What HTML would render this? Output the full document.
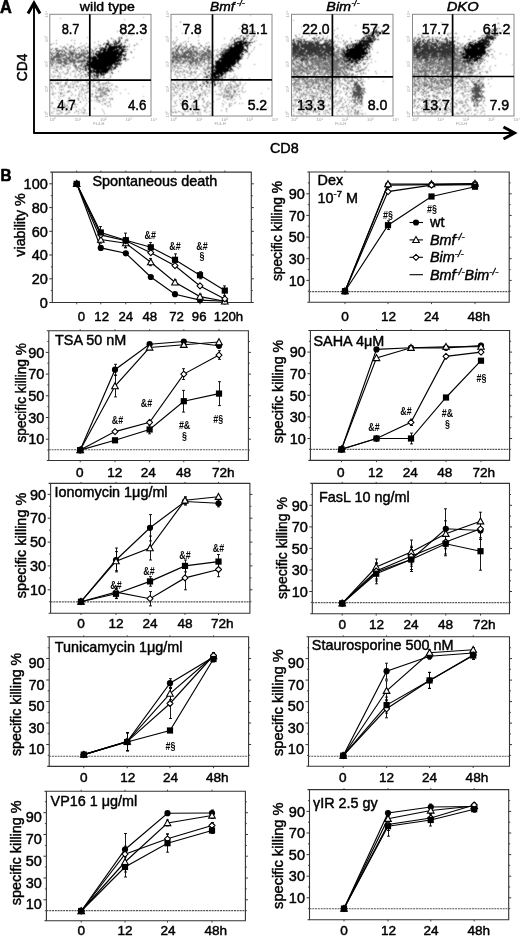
<!DOCTYPE html>
<html><head><meta charset="utf-8"><style>
html,body{margin:0;padding:0;background:#fff;width:520px;height:936px;overflow:hidden}
svg{display:block;font-family:"Liberation Sans", sans-serif;will-change:transform}
text{stroke:#000;stroke-width:0.45px;stroke-linejoin:round}
</style></head><body>
<svg width="520" height="936" viewBox="0 0 520 936">
<defs><filter id="bl" x="-5%" y="-5%" width="110%" height="110%"><feConvolveMatrix order="3" kernelMatrix="1 2 1 2 6 2 1 2 1" divisor="18" edgeMode="none"/></filter></defs>
<rect width="520" height="936" fill="#fff"/>
<text x="0.09" y="12.80" font-size="18.5" font-weight="bold" font-style="normal" textLength="11.84" lengthAdjust="spacingAndGlyphs" style="stroke:#000;stroke-width:0.6">A</text>
<text x="0.58" y="180.60" font-size="16" font-weight="bold" font-style="normal" textLength="11.01" lengthAdjust="spacingAndGlyphs" style="stroke:#000;stroke-width:0.6">B</text>
<path d="M34 133V3M33.2 133H514" stroke="#000" stroke-width="1.9" fill="none"/>
<path d="M28 13.5L34 3L40 13.5" stroke="#000" stroke-width="3" fill="none" stroke-linejoin="miter"/>
<path d="M503.5 127L514.5 133L503.5 139" stroke="#000" stroke-width="3" fill="none"/>
<text transform="translate(27.30,0) rotate(-90)" x="-81.31" y="0" font-size="15" textLength="27.81" lengthAdjust="spacingAndGlyphs">CD4</text>
<text x="269.97" y="152.60" font-size="14.5" font-weight="normal" font-style="normal" textLength="28.75" lengthAdjust="spacingAndGlyphs">CD8</text>
<g filter="url(#bl)">
<path fill="#000" fill-opacity="0.4" d="M143 17h1v1h-1zM60 18h1v1h-1zM124 19h1v1h-1zM65 33h1v1h-1zM131 35h1v1h-1zM87 37h1v1h-1zM80 48h1v1h-1zM134 49h1v1h-1zM63 71h1v1h-1zM59 73h1v1h-1zM55 76h1v1h-1zM53 77h1v1h-1zM115 86h1v1h-1zM143 86h1v1h-1zM125 89h1v1h-1zM128 93h1v1h-1zM143 96h1v1h-1zM54 97h1v1h-1zM141 100h1v1h-1zM143 101h1v1h-1zM82 108h1v1h-1zM85 110h1v1h-1z"/>
<path fill="#000" fill-opacity="0.5" d="M117 31h1v1h-1zM126 33h1v1h-1zM126 36h1v1h-1zM113 39h1v1h-1zM126 39h2v1h-2zM141 39h1v1h-1zM56 40h1v1h-1zM71 40h1v1h-1zM74 40h1v1h-1zM120 40h1v1h-1zM98 41h1v1h-1zM94 42h1v1h-1zM114 42h1v1h-1zM119 42h2v1h-2zM123 42h1v1h-1zM53 43h1v1h-1zM80 43h1v1h-1zM86 43h1v1h-1zM110 43h1v1h-1zM113 43h1v1h-1zM136 43h1v1h-1zM50 44h1v1h-1zM98 44h1v1h-1zM111 44h1v1h-1zM124 44h1v1h-1zM129 44h1v1h-1zM137 44h1v1h-1zM71 45h1v1h-1zM99 45h1v1h-1zM124 45h1v1h-1zM70 46h1v1h-1zM81 46h2v1h-2zM88 46h1v1h-1zM97 46h1v1h-1zM120 46h1v1h-1zM129 46h1v1h-1zM62 47h1v1h-1zM88 47h1v1h-1zM94 47h1v1h-1zM126 47h1v1h-1zM56 48h1v1h-1zM77 48h1v1h-1zM107 48h1v1h-1zM122 48h2v1h-2zM55 49h1v1h-1zM68 49h1v1h-1zM67 50h1v1h-1zM72 50h1v1h-1zM84 50h1v1h-1zM94 50h1v1h-1zM113 50h1v1h-1zM71 51h1v1h-1zM92 51h2v1h-2zM118 51h1v1h-1zM126 51h1v1h-1zM130 51h1v1h-1zM93 52h1v1h-1zM96 52h1v1h-1zM99 52h1v1h-1zM101 52h1v1h-1zM119 52h1v1h-1zM82 53h1v1h-1zM84 53h1v1h-1zM89 53h1v1h-1zM125 53h2v1h-2zM65 54h1v1h-1zM70 54h1v1h-1zM79 54h2v1h-2zM82 54h1v1h-1zM93 55h1v1h-1zM60 56h1v1h-1zM78 56h1v1h-1zM84 56h1v1h-1zM56 57h1v1h-1zM133 57h1v1h-1zM66 58h1v1h-1zM83 58h1v1h-1zM50 59h1v1h-1zM74 59h1v1h-1zM85 59h1v1h-1zM117 59h1v1h-1zM124 59h1v1h-1zM127 59h2v1h-2zM50 60h1v1h-1zM57 60h1v1h-1zM64 60h1v1h-1zM72 60h1v1h-1zM78 60h1v1h-1zM86 60h1v1h-1zM126 60h1v1h-1zM51 61h2v1h-2zM60 61h1v1h-1zM63 61h1v1h-1zM77 61h1v1h-1zM79 61h1v1h-1zM120 61h1v1h-1zM125 61h1v1h-1zM52 62h2v1h-2zM84 62h1v1h-1zM60 63h2v1h-2zM67 63h1v1h-1zM69 63h1v1h-1zM81 63h1v1h-1zM85 63h1v1h-1zM115 63h1v1h-1zM118 63h1v1h-1zM51 64h1v1h-1zM63 64h1v1h-1zM68 64h1v1h-1zM73 64h1v1h-1zM86 64h1v1h-1zM118 64h1v1h-1zM51 65h2v1h-2zM57 65h1v1h-1zM62 65h1v1h-1zM64 65h1v1h-1zM74 65h1v1h-1zM76 65h1v1h-1zM80 65h1v1h-1zM114 65h3v1h-3zM50 66h1v1h-1zM52 66h1v1h-1zM54 66h1v1h-1zM56 66h1v1h-1zM58 66h1v1h-1zM60 66h2v1h-2zM63 66h1v1h-1zM67 66h1v1h-1zM69 66h1v1h-1zM74 66h1v1h-1zM76 66h1v1h-1zM78 66h1v1h-1zM82 66h2v1h-2zM86 66h1v1h-1zM109 66h1v1h-1zM120 66h1v1h-1zM57 67h1v1h-1zM65 67h1v1h-1zM67 67h1v1h-1zM70 67h1v1h-1zM75 67h2v1h-2zM87 67h1v1h-1zM113 67h1v1h-1zM51 68h1v1h-1zM53 68h2v1h-2zM59 68h1v1h-1zM61 68h1v1h-1zM69 68h1v1h-1zM75 68h3v1h-3zM80 68h2v1h-2zM113 68h1v1h-1zM61 69h1v1h-1zM67 69h2v1h-2zM77 69h1v1h-1zM83 69h3v1h-3zM93 69h1v1h-1zM55 70h3v1h-3zM67 70h1v1h-1zM74 70h1v1h-1zM76 70h2v1h-2zM80 70h1v1h-1zM100 70h1v1h-1zM110 70h1v1h-1zM53 71h1v1h-1zM57 71h1v1h-1zM68 71h1v1h-1zM72 71h2v1h-2zM83 71h1v1h-1zM109 71h1v1h-1zM118 71h1v1h-1zM53 72h1v1h-1zM55 72h1v1h-1zM59 72h1v1h-1zM62 72h1v1h-1zM67 72h1v1h-1zM75 72h1v1h-1zM81 72h1v1h-1zM83 72h1v1h-1zM94 72h1v1h-1zM112 72h1v1h-1zM64 73h1v1h-1zM66 73h2v1h-2zM70 73h1v1h-1zM88 73h1v1h-1zM90 73h1v1h-1zM109 73h1v1h-1zM51 74h1v1h-1zM60 74h1v1h-1zM65 74h1v1h-1zM75 74h1v1h-1zM78 74h1v1h-1zM84 74h1v1h-1zM91 74h1v1h-1zM54 75h1v1h-1zM58 75h1v1h-1zM70 75h1v1h-1zM78 75h1v1h-1zM81 75h2v1h-2zM89 75h1v1h-1zM91 75h1v1h-1zM95 75h1v1h-1zM110 75h1v1h-1zM51 76h1v1h-1zM53 76h1v1h-1zM57 76h2v1h-2zM60 76h1v1h-1zM74 76h2v1h-2zM81 76h1v1h-1zM85 76h1v1h-1zM89 76h1v1h-1zM91 76h1v1h-1zM96 76h1v1h-1zM98 76h1v1h-1zM100 76h1v1h-1zM110 76h1v1h-1zM60 77h1v1h-1zM64 77h1v1h-1zM76 77h1v1h-1zM80 77h1v1h-1zM83 77h1v1h-1zM92 77h1v1h-1zM95 77h2v1h-2zM100 77h1v1h-1zM104 77h1v1h-1zM110 77h1v1h-1zM58 78h1v1h-1zM67 78h1v1h-1zM80 78h1v1h-1zM88 78h1v1h-1zM93 78h1v1h-1zM96 78h1v1h-1zM108 78h1v1h-1zM51 79h1v1h-1zM56 79h1v1h-1zM60 79h1v1h-1zM66 79h2v1h-2zM86 79h1v1h-1zM91 79h1v1h-1zM93 79h2v1h-2zM106 79h1v1h-1zM50 80h2v1h-2zM66 80h1v1h-1zM73 80h1v1h-1zM76 80h2v1h-2zM81 80h1v1h-1zM84 80h1v1h-1zM86 80h1v1h-1zM90 80h1v1h-1zM94 80h2v1h-2zM99 80h1v1h-1zM106 80h1v1h-1zM53 81h1v1h-1zM55 81h1v1h-1zM61 81h1v1h-1zM67 81h1v1h-1zM72 81h1v1h-1zM75 81h1v1h-1zM77 81h2v1h-2zM80 81h1v1h-1zM86 81h1v1h-1zM90 81h1v1h-1zM92 81h1v1h-1zM98 81h2v1h-2zM108 81h1v1h-1zM51 82h1v1h-1zM57 82h2v1h-2zM60 82h1v1h-1zM65 82h2v1h-2zM74 82h1v1h-1zM77 82h1v1h-1zM86 82h1v1h-1zM88 82h1v1h-1zM96 82h3v1h-3zM106 82h1v1h-1zM108 82h1v1h-1zM50 83h2v1h-2zM55 83h4v1h-4zM65 83h2v1h-2zM70 83h1v1h-1zM72 83h1v1h-1zM75 83h1v1h-1zM87 83h2v1h-2zM91 83h1v1h-1zM93 83h1v1h-1zM99 83h1v1h-1zM102 83h5v1h-5zM108 83h1v1h-1zM110 83h1v1h-1zM52 84h1v1h-1zM58 84h1v1h-1zM60 84h1v1h-1zM65 84h2v1h-2zM73 84h1v1h-1zM80 84h1v1h-1zM82 84h1v1h-1zM88 84h1v1h-1zM94 84h1v1h-1zM99 84h2v1h-2zM102 84h1v1h-1zM112 84h1v1h-1zM62 85h1v1h-1zM64 85h1v1h-1zM68 85h1v1h-1zM70 85h1v1h-1zM73 85h1v1h-1zM76 85h1v1h-1zM83 85h2v1h-2zM86 85h2v1h-2zM89 85h1v1h-1zM93 85h1v1h-1zM98 85h1v1h-1zM103 85h1v1h-1zM105 85h1v1h-1zM107 85h1v1h-1zM111 85h1v1h-1zM51 86h1v1h-1zM53 86h2v1h-2zM60 86h2v1h-2zM64 86h1v1h-1zM68 86h1v1h-1zM76 86h2v1h-2zM79 86h1v1h-1zM81 86h1v1h-1zM86 86h1v1h-1zM92 86h4v1h-4zM100 86h1v1h-1zM109 86h1v1h-1zM116 86h1v1h-1zM51 87h1v1h-1zM59 87h1v1h-1zM62 87h1v1h-1zM68 87h3v1h-3zM72 87h2v1h-2zM82 87h1v1h-1zM88 87h1v1h-1zM96 87h1v1h-1zM100 87h1v1h-1zM102 87h3v1h-3zM107 87h1v1h-1zM117 87h1v1h-1zM52 88h1v1h-1zM55 88h1v1h-1zM78 88h1v1h-1zM82 88h1v1h-1zM87 88h2v1h-2zM96 88h1v1h-1zM98 88h3v1h-3zM103 88h1v1h-1zM105 88h3v1h-3zM110 88h1v1h-1zM59 89h1v1h-1zM61 89h1v1h-1zM63 89h1v1h-1zM75 89h1v1h-1zM81 89h1v1h-1zM83 89h1v1h-1zM85 89h1v1h-1zM98 89h6v1h-6zM105 89h1v1h-1zM107 89h2v1h-2zM111 89h1v1h-1zM114 89h1v1h-1zM52 90h1v1h-1zM61 90h1v1h-1zM69 90h1v1h-1zM75 90h1v1h-1zM81 90h1v1h-1zM83 90h1v1h-1zM92 90h1v1h-1zM95 90h1v1h-1zM97 90h4v1h-4zM102 90h1v1h-1zM106 90h4v1h-4zM116 90h1v1h-1zM67 91h3v1h-3zM79 91h1v1h-1zM87 91h3v1h-3zM101 91h2v1h-2zM104 91h3v1h-3zM108 91h2v1h-2zM112 91h1v1h-1zM53 92h1v1h-1zM58 92h1v1h-1zM60 92h1v1h-1zM64 92h1v1h-1zM67 92h1v1h-1zM71 92h1v1h-1zM81 92h1v1h-1zM85 92h3v1h-3zM95 92h2v1h-2zM98 92h1v1h-1zM100 92h1v1h-1zM102 92h3v1h-3zM52 93h1v1h-1zM55 93h1v1h-1zM60 93h3v1h-3zM79 93h1v1h-1zM84 93h1v1h-1zM92 93h1v1h-1zM96 93h1v1h-1zM100 93h2v1h-2zM103 93h4v1h-4zM120 93h1v1h-1zM52 94h2v1h-2zM60 94h1v1h-1zM72 94h1v1h-1zM79 94h1v1h-1zM82 94h1v1h-1zM91 94h2v1h-2zM100 94h1v1h-1zM102 94h1v1h-1zM104 94h3v1h-3zM111 94h1v1h-1zM63 95h2v1h-2zM71 95h1v1h-1zM75 95h1v1h-1zM78 95h1v1h-1zM85 95h1v1h-1zM95 95h1v1h-1zM100 95h2v1h-2zM103 95h1v1h-1zM107 95h2v1h-2zM58 96h1v1h-1zM60 96h1v1h-1zM62 96h1v1h-1zM79 96h1v1h-1zM81 96h1v1h-1zM90 96h1v1h-1zM92 96h1v1h-1zM95 96h8v1h-8zM105 96h1v1h-1zM69 97h1v1h-1zM85 97h1v1h-1zM94 97h1v1h-1zM96 97h2v1h-2zM100 97h1v1h-1zM59 98h1v1h-1zM68 98h2v1h-2zM77 98h2v1h-2zM82 98h1v1h-1zM85 98h1v1h-1zM88 98h1v1h-1zM97 98h1v1h-1zM103 98h1v1h-1zM106 98h1v1h-1zM109 98h1v1h-1zM111 98h2v1h-2zM71 99h1v1h-1zM74 99h1v1h-1zM78 99h1v1h-1zM96 99h2v1h-2zM102 99h1v1h-1zM104 99h1v1h-1zM110 99h1v1h-1zM112 99h1v1h-1zM58 100h1v1h-1zM68 100h1v1h-1zM78 100h1v1h-1zM83 100h1v1h-1zM86 100h1v1h-1zM91 100h1v1h-1zM94 100h1v1h-1zM98 100h2v1h-2zM103 100h1v1h-1zM105 100h1v1h-1zM60 101h1v1h-1zM67 101h2v1h-2zM80 101h1v1h-1zM88 101h1v1h-1zM96 101h1v1h-1zM98 101h1v1h-1zM100 101h1v1h-1zM102 101h1v1h-1zM109 101h1v1h-1zM52 102h1v1h-1zM73 102h1v1h-1zM80 102h1v1h-1zM99 102h1v1h-1zM107 102h1v1h-1zM109 102h1v1h-1zM51 103h2v1h-2zM58 103h1v1h-1zM64 103h1v1h-1zM68 103h1v1h-1zM73 103h2v1h-2zM86 103h1v1h-1zM104 103h2v1h-2zM64 104h1v1h-1zM74 104h2v1h-2zM77 104h1v1h-1zM102 104h1v1h-1zM105 104h1v1h-1zM110 104h1v1h-1zM62 105h1v1h-1zM64 105h1v1h-1zM66 105h2v1h-2zM85 105h1v1h-1zM108 105h1v1h-1zM51 106h1v1h-1zM64 106h2v1h-2zM75 106h1v1h-1zM107 106h1v1h-1zM110 106h1v1h-1zM58 107h1v1h-1zM64 107h1v1h-1zM67 107h2v1h-2zM73 107h1v1h-1zM76 107h1v1h-1zM83 107h1v1h-1zM53 108h2v1h-2zM56 108h1v1h-1zM65 108h1v1h-1zM89 108h1v1h-1zM94 108h1v1h-1zM62 109h1v1h-1zM70 109h1v1h-1zM79 109h1v1h-1zM84 109h1v1h-1zM102 109h1v1h-1zM56 110h4v1h-4zM65 110h2v1h-2zM68 110h2v1h-2zM76 110h1v1h-1zM81 110h1v1h-1zM84 110h1v1h-1zM53 111h1v1h-1zM60 111h1v1h-1zM76 111h1v1h-1zM78 111h1v1h-1zM103 111h1v1h-1zM51 112h1v1h-1zM61 112h2v1h-2zM68 112h2v1h-2zM74 112h1v1h-1zM81 112h1v1h-1zM83 112h2v1h-2zM52 113h1v1h-1zM56 113h1v1h-1zM58 113h1v1h-1zM60 113h1v1h-1zM66 113h2v1h-2zM78 113h1v1h-1zM83 113h1v1h-1zM86 113h1v1h-1zM104 113h1v1h-1zM58 114h1v1h-1zM65 114h1v1h-1z"/>
<path fill="#000" fill-opacity="0.65" d="M56 43h1v1h-1zM74 43h1v1h-1zM51 44h1v1h-1zM67 44h1v1h-1zM89 44h1v1h-1zM84 45h1v1h-1zM60 46h1v1h-1zM64 46h1v1h-1zM71 46h1v1h-1zM73 46h1v1h-1zM63 47h1v1h-1zM65 47h1v1h-1zM69 47h2v1h-2zM73 47h1v1h-1zM78 47h2v1h-2zM85 47h1v1h-1zM87 47h1v1h-1zM52 48h1v1h-1zM55 48h1v1h-1zM57 48h1v1h-1zM65 48h2v1h-2zM75 48h1v1h-1zM85 48h1v1h-1zM90 48h1v1h-1zM50 49h2v1h-2zM56 49h1v1h-1zM62 49h1v1h-1zM66 49h1v1h-1zM70 49h1v1h-1zM74 49h1v1h-1zM81 49h1v1h-1zM83 49h1v1h-1zM91 49h1v1h-1zM53 50h1v1h-1zM56 50h6v1h-6zM63 50h2v1h-2zM69 50h1v1h-1zM73 50h2v1h-2zM76 50h1v1h-1zM78 50h1v1h-1zM81 50h1v1h-1zM83 50h1v1h-1zM86 50h2v1h-2zM89 50h1v1h-1zM50 51h1v1h-1zM56 51h1v1h-1zM58 51h2v1h-2zM61 51h2v1h-2zM64 51h1v1h-1zM69 51h2v1h-2zM74 51h1v1h-1zM81 51h2v1h-2zM85 51h1v1h-1zM87 51h1v1h-1zM50 52h1v1h-1zM52 52h1v1h-1zM55 52h1v1h-1zM57 52h2v1h-2zM62 52h1v1h-1zM64 52h3v1h-3zM69 52h5v1h-5zM75 52h1v1h-1zM79 52h1v1h-1zM83 52h2v1h-2zM87 52h5v1h-5zM50 53h2v1h-2zM53 53h2v1h-2zM56 53h3v1h-3zM60 53h2v1h-2zM65 53h1v1h-1zM67 53h2v1h-2zM70 53h5v1h-5zM76 53h1v1h-1zM78 53h2v1h-2zM81 53h1v1h-1zM83 53h1v1h-1zM85 53h4v1h-4zM91 53h1v1h-1zM51 54h2v1h-2zM56 54h9v1h-9zM68 54h2v1h-2zM71 54h3v1h-3zM75 54h4v1h-4zM81 54h1v1h-1zM83 54h1v1h-1zM85 54h2v1h-2zM90 54h1v1h-1zM52 55h1v1h-1zM55 55h5v1h-5zM61 55h1v1h-1zM63 55h4v1h-4zM69 55h1v1h-1zM71 55h2v1h-2zM75 55h2v1h-2zM79 55h6v1h-6zM88 55h2v1h-2zM91 55h1v1h-1zM50 56h2v1h-2zM53 56h7v1h-7zM61 56h3v1h-3zM66 56h1v1h-1zM69 56h2v1h-2zM72 56h2v1h-2zM75 56h2v1h-2zM79 56h3v1h-3zM83 56h1v1h-1zM85 56h1v1h-1zM87 56h2v1h-2zM91 56h1v1h-1zM51 57h1v1h-1zM53 57h3v1h-3zM57 57h4v1h-4zM65 57h6v1h-6zM72 57h1v1h-1zM74 57h7v1h-7zM85 57h5v1h-5zM50 58h5v1h-5zM57 58h1v1h-1zM59 58h1v1h-1zM61 58h4v1h-4zM67 58h3v1h-3zM71 58h2v1h-2zM76 58h4v1h-4zM81 58h1v1h-1zM86 58h1v1h-1zM88 58h2v1h-2zM91 58h1v1h-1zM51 59h3v1h-3zM56 59h5v1h-5zM63 59h4v1h-4zM68 59h3v1h-3zM72 59h2v1h-2zM75 59h1v1h-1zM77 59h1v1h-1zM83 59h2v1h-2zM88 59h4v1h-4zM52 60h3v1h-3zM56 60h1v1h-1zM58 60h4v1h-4zM65 60h3v1h-3zM69 60h3v1h-3zM73 60h3v1h-3zM79 60h7v1h-7zM87 60h2v1h-2zM50 61h1v1h-1zM54 61h1v1h-1zM56 61h1v1h-1zM58 61h1v1h-1zM61 61h2v1h-2zM64 61h2v1h-2zM67 61h1v1h-1zM69 61h6v1h-6zM76 61h1v1h-1zM78 61h1v1h-1zM80 61h6v1h-6zM89 61h2v1h-2zM50 62h1v1h-1zM55 62h1v1h-1zM57 62h5v1h-5zM63 62h4v1h-4zM70 62h2v1h-2zM73 62h3v1h-3zM77 62h3v1h-3zM81 62h2v1h-2zM90 62h1v1h-1zM50 63h2v1h-2zM53 63h1v1h-1zM56 63h1v1h-1zM58 63h2v1h-2zM64 63h3v1h-3zM68 63h1v1h-1zM73 63h2v1h-2zM83 63h1v1h-1zM52 64h1v1h-1zM55 64h1v1h-1zM61 64h1v1h-1zM65 64h2v1h-2zM70 64h1v1h-1zM75 64h1v1h-1zM81 64h2v1h-2zM84 64h1v1h-1zM63 65h1v1h-1zM73 65h1v1h-1zM75 65h1v1h-1zM79 65h1v1h-1zM84 65h2v1h-2zM64 66h1v1h-1zM75 66h1v1h-1zM80 66h1v1h-1zM84 66h1v1h-1zM56 67h1v1h-1zM60 67h1v1h-1zM79 68h1v1h-1zM56 69h1v1h-1zM80 69h1v1h-1zM86 69h1v1h-1zM80 73h1v1h-1z"/>
<path fill="#000" fill-opacity="1.0" d="M122 34h1v1h-1zM119 37h1v1h-1zM121 37h1v1h-1zM111 38h1v1h-1zM118 38h1v1h-1zM121 38h1v1h-1zM119 39h1v1h-1zM107 40h1v1h-1zM115 40h1v1h-1zM119 40h1v1h-1zM125 40h1v1h-1zM127 40h1v1h-1zM108 41h1v1h-1zM113 41h1v1h-1zM115 41h1v1h-1zM118 41h2v1h-2zM108 42h1v1h-1zM115 42h2v1h-2zM118 42h1v1h-1zM125 42h1v1h-1zM104 43h1v1h-1zM106 43h3v1h-3zM114 43h1v1h-1zM116 43h3v1h-3zM121 43h1v1h-1zM103 44h1v1h-1zM106 44h3v1h-3zM110 44h1v1h-1zM112 44h1v1h-1zM114 44h3v1h-3zM120 44h2v1h-2zM100 45h1v1h-1zM106 45h1v1h-1zM108 45h3v1h-3zM114 45h1v1h-1zM116 45h1v1h-1zM118 45h3v1h-3zM134 45h1v1h-1zM105 46h2v1h-2zM109 46h11v1h-11zM121 46h5v1h-5zM127 46h1v1h-1zM100 47h1v1h-1zM102 47h1v1h-1zM105 47h2v1h-2zM108 47h14v1h-14zM123 47h2v1h-2zM96 48h1v1h-1zM99 48h1v1h-1zM101 48h5v1h-5zM108 48h9v1h-9zM119 48h3v1h-3zM95 49h1v1h-1zM100 49h2v1h-2zM103 49h12v1h-12zM116 49h4v1h-4zM121 49h5v1h-5zM127 49h1v1h-1zM92 50h1v1h-1zM100 50h6v1h-6zM107 50h6v1h-6zM114 50h5v1h-5zM121 50h3v1h-3zM96 51h5v1h-5zM103 51h15v1h-15zM119 51h7v1h-7zM98 52h1v1h-1zM100 52h1v1h-1zM102 52h17v1h-17zM120 52h3v1h-3zM131 52h1v1h-1zM93 53h1v1h-1zM95 53h2v1h-2zM98 53h24v1h-24zM93 54h1v1h-1zM95 54h29v1h-29zM125 54h1v1h-1zM96 55h21v1h-21zM118 55h4v1h-4zM123 55h3v1h-3zM89 56h1v1h-1zM93 56h3v1h-3zM97 56h23v1h-23zM121 56h1v1h-1zM124 56h1v1h-1zM84 57h1v1h-1zM90 57h32v1h-32zM87 58h1v1h-1zM90 58h1v1h-1zM92 58h5v1h-5zM98 58h21v1h-21zM120 58h1v1h-1zM123 58h3v1h-3zM92 59h25v1h-25zM118 59h3v1h-3zM123 59h1v1h-1zM125 59h1v1h-1zM90 60h1v1h-1zM92 60h30v1h-30zM87 61h2v1h-2zM91 61h28v1h-28zM87 62h3v1h-3zM91 62h25v1h-25zM117 62h1v1h-1zM119 62h1v1h-1zM86 63h2v1h-2zM89 63h26v1h-26zM116 63h2v1h-2zM119 63h1v1h-1zM121 63h1v1h-1zM87 64h26v1h-26zM114 64h4v1h-4zM119 64h2v1h-2zM81 65h1v1h-1zM86 65h26v1h-26zM85 66h1v1h-1zM88 66h1v1h-1zM90 66h19v1h-19zM110 66h3v1h-3zM115 66h3v1h-3zM78 67h1v1h-1zM83 67h1v1h-1zM85 67h1v1h-1zM88 67h1v1h-1zM90 67h17v1h-17zM108 67h3v1h-3zM112 67h1v1h-1zM114 67h2v1h-2zM85 68h2v1h-2zM88 68h2v1h-2zM92 68h20v1h-20zM114 68h2v1h-2zM82 69h1v1h-1zM88 69h3v1h-3zM94 69h16v1h-16zM111 69h1v1h-1zM113 69h1v1h-1zM85 70h2v1h-2zM89 70h6v1h-6zM96 70h4v1h-4zM101 70h8v1h-8zM111 70h1v1h-1zM79 71h1v1h-1zM90 71h2v1h-2zM93 71h15v1h-15zM87 72h7v1h-7zM95 72h13v1h-13zM111 72h1v1h-1zM89 73h1v1h-1zM96 73h3v1h-3zM100 73h2v1h-2zM103 73h1v1h-1zM105 73h1v1h-1zM112 73h1v1h-1zM85 74h1v1h-1zM87 74h1v1h-1zM89 74h1v1h-1zM93 74h2v1h-2zM96 74h1v1h-1zM98 74h1v1h-1zM100 74h5v1h-5zM88 75h1v1h-1zM94 75h1v1h-1zM96 75h3v1h-3zM101 75h1v1h-1zM103 75h1v1h-1zM86 76h1v1h-1zM92 76h1v1h-1zM94 76h1v1h-1zM97 76h1v1h-1zM97 77h1v1h-1zM103 77h1v1h-1zM94 78h1v1h-1zM98 78h1v1h-1zM93 80h1v1h-1zM89 83h1v1h-1z"/>
</g>
<rect x="49.8" y="14.3" width="101.2" height="101.7" fill="none" stroke="#888" stroke-width="1"/>
<path d="M89.8 14.3V116M49.8 80.2H151" stroke="#000" stroke-width="1.7"/>
<text x="52.7" y="121.2" font-size="4.4" fill="#999" text-anchor="middle" style="stroke:none">10⁰</text>
<text transform="translate(47.6,114.0) rotate(-90)" font-size="4.4" fill="#aaa" text-anchor="middle" style="stroke:none">10⁰</text>
<text x="78.0" y="121.2" font-size="4.4" fill="#999" text-anchor="middle" style="stroke:none">10¹</text>
<text transform="translate(47.6,89.0) rotate(-90)" font-size="4.4" fill="#aaa" text-anchor="middle" style="stroke:none">10¹</text>
<text x="103.3" y="121.2" font-size="4.4" fill="#999" text-anchor="middle" style="stroke:none">10²</text>
<text transform="translate(47.6,64.0) rotate(-90)" font-size="4.4" fill="#aaa" text-anchor="middle" style="stroke:none">10²</text>
<text x="128.6" y="121.2" font-size="4.4" fill="#999" text-anchor="middle" style="stroke:none">10³</text>
<text transform="translate(47.6,39.0) rotate(-90)" font-size="4.4" fill="#aaa" text-anchor="middle" style="stroke:none">10³</text>
<text x="153.9" y="121.2" font-size="4.4" fill="#999" text-anchor="middle" style="stroke:none">10⁴</text>
<text transform="translate(47.6,14.0) rotate(-90)" font-size="4.4" fill="#aaa" text-anchor="middle" style="stroke:none">10⁴</text>
<text x="98.8" y="125.3" font-size="4" fill="#999" text-anchor="middle" style="stroke:none">FL4-H</text>
<text x="79.87" y="10.50" font-size="13.5" font-weight="normal" font-style="normal" textLength="54.91" lengthAdjust="spacingAndGlyphs">wild type</text>
<text x="61.64" y="33.50" font-size="14.4" font-weight="normal" font-style="normal" textLength="17.91" lengthAdjust="spacingAndGlyphs">8.7</text>
<text x="119.27" y="33.50" font-size="14.4" font-weight="normal" font-style="normal" textLength="28.16" lengthAdjust="spacingAndGlyphs">82.3</text>
<text x="57.30" y="109.80" font-size="14.4" font-weight="normal" font-style="normal" textLength="18.47" lengthAdjust="spacingAndGlyphs">4.7</text>
<text x="127.89" y="109.80" font-size="14.4" font-weight="normal" font-style="normal" textLength="18.59" lengthAdjust="spacingAndGlyphs">4.6</text>
<g filter="url(#bl)">
<path fill="#000" fill-opacity="0.4" d="M250 15h1v1h-1zM180 21h1v1h-1zM180 22h1v1h-1zM176 26h1v1h-1zM171 30h1v1h-1zM256 37h1v1h-1zM177 39h1v1h-1zM256 40h1v1h-1zM175 49h1v1h-1zM225 49h1v1h-1zM268 88h1v1h-1zM212 91h1v1h-1zM261 93h1v1h-1zM193 98h1v1h-1zM228 98h1v1h-1zM222 106h1v1h-1zM267 107h1v1h-1z"/>
<path fill="#000" fill-opacity="0.5" d="M243 23h1v1h-1zM252 26h1v1h-1zM239 28h1v1h-1zM248 29h1v1h-1zM244 30h1v1h-1zM182 33h1v1h-1zM235 35h1v1h-1zM243 36h1v1h-1zM251 36h1v1h-1zM176 37h1v1h-1zM232 37h1v1h-1zM238 37h1v1h-1zM245 37h1v1h-1zM188 38h1v1h-1zM224 38h1v1h-1zM232 38h1v1h-1zM237 38h1v1h-1zM243 38h1v1h-1zM231 39h1v1h-1zM176 40h1v1h-1zM198 40h1v1h-1zM230 40h1v1h-1zM240 40h1v1h-1zM232 41h1v1h-1zM246 41h1v1h-1zM172 42h1v1h-1zM208 42h1v1h-1zM231 42h1v1h-1zM234 42h1v1h-1zM251 42h1v1h-1zM186 43h1v1h-1zM199 43h1v1h-1zM229 43h1v1h-1zM237 43h1v1h-1zM185 44h1v1h-1zM224 44h1v1h-1zM226 44h1v1h-1zM229 44h1v1h-1zM231 44h1v1h-1zM235 44h1v1h-1zM260 44h1v1h-1zM222 45h1v1h-1zM228 45h2v1h-2zM176 46h1v1h-1zM201 46h1v1h-1zM206 46h1v1h-1zM209 46h1v1h-1zM225 46h1v1h-1zM227 46h4v1h-4zM182 47h1v1h-1zM254 47h1v1h-1zM175 48h1v1h-1zM177 48h1v1h-1zM207 48h1v1h-1zM223 48h3v1h-3zM228 48h2v1h-2zM186 49h1v1h-1zM217 49h1v1h-1zM224 49h1v1h-1zM226 49h1v1h-1zM247 49h1v1h-1zM253 49h1v1h-1zM180 50h1v1h-1zM208 50h1v1h-1zM214 50h1v1h-1zM216 50h1v1h-1zM220 50h2v1h-2zM224 50h1v1h-1zM228 50h1v1h-1zM210 51h1v1h-1zM218 51h1v1h-1zM222 51h2v1h-2zM251 51h1v1h-1zM175 52h1v1h-1zM182 52h2v1h-2zM190 52h1v1h-1zM201 52h1v1h-1zM210 52h1v1h-1zM217 52h1v1h-1zM223 52h1v1h-1zM247 52h1v1h-1zM171 53h1v1h-1zM183 53h1v1h-1zM187 53h1v1h-1zM192 53h1v1h-1zM204 53h1v1h-1zM208 53h2v1h-2zM219 53h2v1h-2zM222 53h3v1h-3zM241 53h1v1h-1zM249 53h1v1h-1zM204 54h2v1h-2zM216 54h1v1h-1zM218 54h1v1h-1zM248 54h2v1h-2zM179 55h2v1h-2zM191 55h1v1h-1zM198 55h1v1h-1zM208 55h1v1h-1zM213 55h1v1h-1zM216 55h2v1h-2zM219 55h2v1h-2zM241 55h1v1h-1zM180 56h1v1h-1zM196 56h1v1h-1zM215 56h1v1h-1zM240 56h1v1h-1zM248 56h1v1h-1zM198 57h1v1h-1zM201 57h3v1h-3zM217 57h1v1h-1zM222 57h1v1h-1zM189 58h1v1h-1zM204 58h1v1h-1zM207 58h2v1h-2zM213 58h2v1h-2zM218 58h1v1h-1zM242 58h1v1h-1zM247 58h1v1h-1zM172 59h1v1h-1zM176 59h2v1h-2zM185 59h1v1h-1zM199 59h1v1h-1zM202 59h1v1h-1zM206 59h1v1h-1zM208 59h1v1h-1zM240 59h1v1h-1zM176 60h1v1h-1zM178 60h1v1h-1zM184 60h1v1h-1zM187 60h1v1h-1zM189 60h1v1h-1zM201 60h1v1h-1zM207 60h1v1h-1zM209 60h1v1h-1zM215 60h1v1h-1zM217 60h1v1h-1zM175 61h1v1h-1zM177 61h1v1h-1zM179 61h1v1h-1zM184 61h3v1h-3zM188 61h2v1h-2zM191 61h1v1h-1zM194 61h1v1h-1zM199 61h1v1h-1zM202 61h1v1h-1zM204 61h1v1h-1zM208 61h1v1h-1zM213 61h1v1h-1zM220 61h1v1h-1zM175 62h2v1h-2zM179 62h1v1h-1zM184 62h1v1h-1zM199 62h1v1h-1zM208 62h2v1h-2zM215 62h1v1h-1zM175 63h3v1h-3zM180 63h4v1h-4zM189 63h1v1h-1zM193 63h1v1h-1zM201 63h1v1h-1zM206 63h1v1h-1zM208 63h1v1h-1zM210 63h1v1h-1zM212 63h1v1h-1zM237 63h1v1h-1zM171 64h2v1h-2zM187 64h2v1h-2zM190 64h2v1h-2zM198 64h1v1h-1zM200 64h1v1h-1zM208 64h1v1h-1zM213 64h1v1h-1zM239 64h2v1h-2zM254 64h1v1h-1zM173 65h3v1h-3zM181 65h1v1h-1zM186 65h1v1h-1zM189 65h1v1h-1zM191 65h2v1h-2zM194 65h3v1h-3zM198 65h2v1h-2zM205 65h1v1h-1zM208 65h1v1h-1zM213 65h2v1h-2zM231 65h1v1h-1zM171 66h1v1h-1zM179 66h1v1h-1zM182 66h1v1h-1zM184 66h1v1h-1zM186 66h1v1h-1zM189 66h1v1h-1zM192 66h1v1h-1zM200 66h2v1h-2zM203 66h1v1h-1zM207 66h2v1h-2zM210 66h1v1h-1zM214 66h1v1h-1zM234 66h1v1h-1zM239 66h2v1h-2zM172 67h1v1h-1zM174 67h2v1h-2zM178 67h1v1h-1zM185 67h1v1h-1zM188 67h2v1h-2zM191 67h1v1h-1zM194 67h1v1h-1zM196 67h2v1h-2zM206 67h1v1h-1zM208 67h2v1h-2zM214 67h1v1h-1zM226 67h1v1h-1zM237 67h1v1h-1zM172 68h1v1h-1zM177 68h1v1h-1zM180 68h2v1h-2zM189 68h2v1h-2zM193 68h1v1h-1zM196 68h1v1h-1zM203 68h2v1h-2zM208 68h4v1h-4zM229 68h1v1h-1zM238 68h1v1h-1zM174 69h1v1h-1zM183 69h1v1h-1zM190 69h1v1h-1zM195 69h1v1h-1zM199 69h1v1h-1zM203 69h1v1h-1zM205 69h1v1h-1zM207 69h1v1h-1zM210 69h1v1h-1zM213 69h1v1h-1zM171 70h1v1h-1zM173 70h1v1h-1zM177 70h1v1h-1zM184 70h1v1h-1zM186 70h1v1h-1zM189 70h1v1h-1zM204 70h3v1h-3zM230 70h1v1h-1zM232 70h2v1h-2zM171 71h1v1h-1zM175 71h2v1h-2zM179 71h3v1h-3zM183 71h2v1h-2zM187 71h1v1h-1zM191 71h1v1h-1zM194 71h1v1h-1zM196 71h1v1h-1zM201 71h1v1h-1zM208 71h1v1h-1zM211 71h1v1h-1zM229 71h1v1h-1zM231 71h1v1h-1zM233 71h1v1h-1zM175 72h1v1h-1zM177 72h2v1h-2zM182 72h1v1h-1zM186 72h2v1h-2zM190 72h3v1h-3zM194 72h2v1h-2zM203 72h3v1h-3zM211 72h1v1h-1zM179 73h1v1h-1zM188 73h1v1h-1zM190 73h1v1h-1zM195 73h1v1h-1zM200 73h1v1h-1zM224 73h3v1h-3zM174 74h2v1h-2zM182 74h1v1h-1zM184 74h1v1h-1zM190 74h2v1h-2zM199 74h1v1h-1zM202 74h1v1h-1zM205 74h2v1h-2zM210 74h1v1h-1zM212 74h1v1h-1zM223 74h1v1h-1zM234 74h1v1h-1zM179 75h1v1h-1zM184 75h1v1h-1zM193 75h1v1h-1zM197 75h1v1h-1zM207 75h1v1h-1zM209 75h1v1h-1zM229 75h1v1h-1zM176 76h2v1h-2zM180 76h1v1h-1zM188 76h1v1h-1zM190 76h1v1h-1zM198 76h1v1h-1zM204 76h1v1h-1zM207 76h1v1h-1zM209 76h1v1h-1zM224 76h2v1h-2zM234 76h1v1h-1zM236 76h1v1h-1zM184 77h2v1h-2zM196 77h1v1h-1zM203 77h3v1h-3zM222 77h1v1h-1zM224 77h2v1h-2zM233 77h1v1h-1zM177 78h1v1h-1zM194 78h2v1h-2zM208 78h1v1h-1zM220 78h2v1h-2zM229 78h1v1h-1zM231 78h1v1h-1zM233 78h1v1h-1zM236 78h1v1h-1zM241 78h1v1h-1zM249 78h1v1h-1zM174 79h1v1h-1zM177 79h1v1h-1zM182 79h1v1h-1zM184 79h1v1h-1zM187 79h1v1h-1zM191 79h2v1h-2zM198 79h2v1h-2zM202 79h1v1h-1zM207 79h1v1h-1zM211 79h1v1h-1zM215 79h1v1h-1zM220 79h3v1h-3zM224 79h1v1h-1zM227 79h1v1h-1zM231 79h1v1h-1zM237 79h2v1h-2zM248 79h1v1h-1zM174 80h2v1h-2zM181 80h2v1h-2zM186 80h1v1h-1zM188 80h2v1h-2zM195 80h1v1h-1zM203 80h1v1h-1zM208 80h1v1h-1zM210 80h1v1h-1zM217 80h2v1h-2zM225 80h1v1h-1zM231 80h1v1h-1zM233 80h2v1h-2zM171 81h1v1h-1zM177 81h1v1h-1zM179 81h1v1h-1zM182 81h1v1h-1zM185 81h1v1h-1zM191 81h4v1h-4zM196 81h1v1h-1zM202 81h2v1h-2zM214 81h1v1h-1zM217 81h1v1h-1zM221 81h1v1h-1zM230 81h1v1h-1zM232 81h3v1h-3zM240 81h1v1h-1zM176 82h1v1h-1zM188 82h3v1h-3zM193 82h1v1h-1zM196 82h1v1h-1zM204 82h1v1h-1zM206 82h1v1h-1zM210 82h1v1h-1zM218 82h2v1h-2zM222 82h1v1h-1zM228 82h1v1h-1zM235 82h1v1h-1zM239 82h1v1h-1zM172 83h2v1h-2zM177 83h1v1h-1zM180 83h1v1h-1zM183 83h2v1h-2zM186 83h1v1h-1zM190 83h3v1h-3zM202 83h1v1h-1zM204 83h1v1h-1zM210 83h1v1h-1zM212 83h1v1h-1zM222 83h1v1h-1zM230 83h1v1h-1zM235 83h1v1h-1zM240 83h1v1h-1zM245 83h1v1h-1zM173 84h2v1h-2zM178 84h1v1h-1zM182 84h2v1h-2zM185 84h1v1h-1zM189 84h1v1h-1zM195 84h2v1h-2zM200 84h1v1h-1zM204 84h1v1h-1zM209 84h1v1h-1zM220 84h1v1h-1zM228 84h2v1h-2zM231 84h1v1h-1zM236 84h1v1h-1zM238 84h1v1h-1zM240 84h1v1h-1zM175 85h1v1h-1zM177 85h2v1h-2zM180 85h1v1h-1zM182 85h2v1h-2zM187 85h1v1h-1zM189 85h1v1h-1zM191 85h1v1h-1zM199 85h1v1h-1zM203 85h1v1h-1zM209 85h1v1h-1zM215 85h1v1h-1zM220 85h1v1h-1zM223 85h1v1h-1zM226 85h2v1h-2zM230 85h1v1h-1zM233 85h1v1h-1zM236 85h3v1h-3zM243 85h1v1h-1zM172 86h1v1h-1zM175 86h1v1h-1zM178 86h1v1h-1zM182 86h2v1h-2zM188 86h1v1h-1zM191 86h2v1h-2zM196 86h2v1h-2zM201 86h2v1h-2zM209 86h1v1h-1zM213 86h1v1h-1zM218 86h3v1h-3zM226 86h1v1h-1zM230 86h2v1h-2zM234 86h1v1h-1zM236 86h1v1h-1zM238 86h1v1h-1zM171 87h1v1h-1zM173 87h1v1h-1zM175 87h2v1h-2zM182 87h1v1h-1zM184 87h1v1h-1zM187 87h2v1h-2zM191 87h1v1h-1zM193 87h1v1h-1zM195 87h1v1h-1zM197 87h1v1h-1zM207 87h1v1h-1zM209 87h1v1h-1zM212 87h1v1h-1zM222 87h1v1h-1zM225 87h1v1h-1zM228 87h1v1h-1zM230 87h2v1h-2zM233 87h2v1h-2zM236 87h1v1h-1zM242 87h1v1h-1zM174 88h1v1h-1zM177 88h1v1h-1zM179 88h2v1h-2zM184 88h1v1h-1zM191 88h1v1h-1zM194 88h1v1h-1zM197 88h1v1h-1zM221 88h1v1h-1zM225 88h1v1h-1zM227 88h3v1h-3zM231 88h1v1h-1zM238 88h1v1h-1zM242 88h1v1h-1zM172 89h2v1h-2zM182 89h2v1h-2zM186 89h2v1h-2zM193 89h4v1h-4zM201 89h1v1h-1zM206 89h1v1h-1zM219 89h1v1h-1zM222 89h1v1h-1zM224 89h2v1h-2zM231 89h1v1h-1zM233 89h1v1h-1zM237 89h1v1h-1zM174 90h1v1h-1zM177 90h1v1h-1zM179 90h1v1h-1zM189 90h1v1h-1zM193 90h1v1h-1zM202 90h1v1h-1zM204 90h1v1h-1zM208 90h2v1h-2zM220 90h1v1h-1zM225 90h2v1h-2zM228 90h2v1h-2zM234 90h2v1h-2zM241 90h1v1h-1zM183 91h2v1h-2zM193 91h1v1h-1zM198 91h1v1h-1zM205 91h1v1h-1zM215 91h1v1h-1zM224 91h1v1h-1zM226 91h3v1h-3zM230 91h1v1h-1zM233 91h3v1h-3zM238 91h2v1h-2zM242 91h1v1h-1zM245 91h1v1h-1zM174 92h4v1h-4zM186 92h1v1h-1zM196 92h1v1h-1zM203 92h2v1h-2zM209 92h1v1h-1zM221 92h1v1h-1zM224 92h1v1h-1zM226 92h3v1h-3zM230 92h1v1h-1zM234 92h2v1h-2zM243 92h1v1h-1zM172 93h1v1h-1zM181 93h2v1h-2zM190 93h1v1h-1zM192 93h1v1h-1zM200 93h1v1h-1zM202 93h1v1h-1zM205 93h1v1h-1zM207 93h1v1h-1zM212 93h1v1h-1zM222 93h1v1h-1zM226 93h1v1h-1zM228 93h1v1h-1zM230 93h1v1h-1zM233 93h1v1h-1zM176 94h1v1h-1zM179 94h1v1h-1zM197 94h1v1h-1zM199 94h2v1h-2zM205 94h1v1h-1zM216 94h1v1h-1zM218 94h2v1h-2zM221 94h1v1h-1zM224 94h1v1h-1zM229 94h2v1h-2zM234 94h1v1h-1zM236 94h2v1h-2zM239 94h1v1h-1zM171 95h1v1h-1zM173 95h2v1h-2zM180 95h1v1h-1zM190 95h1v1h-1zM198 95h3v1h-3zM202 95h1v1h-1zM205 95h1v1h-1zM220 95h1v1h-1zM223 95h2v1h-2zM226 95h2v1h-2zM229 95h1v1h-1zM231 95h3v1h-3zM179 96h2v1h-2zM183 96h1v1h-1zM186 96h2v1h-2zM191 96h1v1h-1zM193 96h1v1h-1zM199 96h1v1h-1zM207 96h1v1h-1zM223 96h1v1h-1zM225 96h5v1h-5zM231 96h2v1h-2zM235 96h1v1h-1zM239 96h1v1h-1zM172 97h1v1h-1zM186 97h2v1h-2zM194 97h2v1h-2zM199 97h1v1h-1zM223 97h2v1h-2zM230 97h3v1h-3zM182 98h1v1h-1zM191 98h1v1h-1zM198 98h1v1h-1zM202 98h2v1h-2zM219 98h1v1h-1zM226 98h1v1h-1zM231 98h1v1h-1zM240 98h1v1h-1zM171 99h1v1h-1zM179 99h1v1h-1zM182 99h1v1h-1zM190 99h1v1h-1zM194 99h1v1h-1zM198 99h1v1h-1zM202 99h1v1h-1zM217 99h1v1h-1zM227 99h2v1h-2zM230 99h1v1h-1zM234 99h1v1h-1zM176 100h1v1h-1zM180 100h1v1h-1zM195 100h1v1h-1zM203 100h1v1h-1zM223 100h1v1h-1zM232 100h1v1h-1zM174 101h1v1h-1zM184 101h1v1h-1zM186 101h1v1h-1zM204 101h1v1h-1zM208 101h1v1h-1zM213 101h1v1h-1zM175 102h1v1h-1zM182 102h2v1h-2zM187 102h1v1h-1zM194 102h1v1h-1zM203 102h1v1h-1zM207 102h1v1h-1zM225 102h1v1h-1zM235 102h1v1h-1zM175 103h1v1h-1zM180 103h3v1h-3zM185 103h1v1h-1zM192 103h1v1h-1zM206 103h1v1h-1zM209 103h2v1h-2zM222 103h1v1h-1zM229 103h1v1h-1zM231 103h1v1h-1zM234 103h1v1h-1zM239 103h1v1h-1zM242 103h1v1h-1zM185 104h1v1h-1zM207 104h1v1h-1zM223 104h1v1h-1zM229 104h1v1h-1zM176 105h1v1h-1zM181 105h1v1h-1zM185 105h1v1h-1zM187 105h1v1h-1zM191 105h4v1h-4zM202 105h1v1h-1zM206 105h1v1h-1zM208 105h1v1h-1zM229 105h1v1h-1zM231 105h1v1h-1zM172 106h1v1h-1zM174 106h1v1h-1zM186 106h1v1h-1zM188 106h1v1h-1zM193 106h1v1h-1zM196 106h1v1h-1zM198 106h1v1h-1zM203 106h1v1h-1zM207 106h1v1h-1zM229 106h1v1h-1zM191 107h1v1h-1zM193 107h2v1h-2zM204 107h1v1h-1zM206 107h1v1h-1zM210 107h1v1h-1zM182 108h1v1h-1zM184 108h1v1h-1zM190 108h1v1h-1zM193 108h1v1h-1zM205 108h1v1h-1zM226 108h1v1h-1zM171 109h1v1h-1zM174 109h1v1h-1zM187 109h1v1h-1zM189 109h1v1h-1zM197 109h1v1h-1zM200 109h1v1h-1zM226 109h1v1h-1zM184 110h1v1h-1zM195 110h1v1h-1zM199 110h1v1h-1zM204 110h2v1h-2zM221 110h1v1h-1zM171 111h1v1h-1zM175 111h1v1h-1zM178 111h2v1h-2zM185 111h1v1h-1zM187 111h2v1h-2zM192 111h1v1h-1zM204 111h1v1h-1zM209 111h1v1h-1zM226 111h1v1h-1zM172 112h2v1h-2zM175 112h2v1h-2zM181 112h1v1h-1zM193 112h1v1h-1zM195 112h1v1h-1zM197 112h2v1h-2zM200 112h1v1h-1zM206 112h1v1h-1zM183 113h1v1h-1zM192 113h1v1h-1zM197 113h1v1h-1zM182 114h2v1h-2zM190 114h1v1h-1zM193 114h1v1h-1zM198 114h1v1h-1zM200 114h1v1h-1zM210 114h1v1h-1z"/>
<path fill="#000" fill-opacity="0.65" d="M198 36h1v1h-1zM173 41h1v1h-1zM185 41h1v1h-1zM188 41h1v1h-1zM175 42h1v1h-1zM183 42h1v1h-1zM174 43h1v1h-1zM180 43h1v1h-1zM198 43h1v1h-1zM206 43h1v1h-1zM173 44h1v1h-1zM181 44h1v1h-1zM190 44h2v1h-2zM176 45h1v1h-1zM179 45h2v1h-2zM186 45h1v1h-1zM200 45h2v1h-2zM175 46h1v1h-1zM178 46h2v1h-2zM181 46h1v1h-1zM183 46h1v1h-1zM186 46h1v1h-1zM191 46h4v1h-4zM205 46h1v1h-1zM208 46h1v1h-1zM212 46h1v1h-1zM174 47h1v1h-1zM178 47h2v1h-2zM184 47h3v1h-3zM190 47h1v1h-1zM192 47h2v1h-2zM195 47h2v1h-2zM199 47h1v1h-1zM203 47h1v1h-1zM208 47h2v1h-2zM172 48h2v1h-2zM178 48h1v1h-1zM181 48h1v1h-1zM184 48h1v1h-1zM187 48h1v1h-1zM189 48h2v1h-2zM193 48h1v1h-1zM197 48h1v1h-1zM199 48h1v1h-1zM204 48h2v1h-2zM171 49h1v1h-1zM176 49h3v1h-3zM180 49h4v1h-4zM185 49h1v1h-1zM188 49h2v1h-2zM192 49h2v1h-2zM196 49h1v1h-1zM204 49h1v1h-1zM207 49h2v1h-2zM173 50h1v1h-1zM176 50h2v1h-2zM182 50h1v1h-1zM187 50h2v1h-2zM190 50h2v1h-2zM193 50h1v1h-1zM195 50h1v1h-1zM197 50h1v1h-1zM201 50h1v1h-1zM203 50h1v1h-1zM206 50h2v1h-2zM209 50h2v1h-2zM212 50h1v1h-1zM172 51h1v1h-1zM175 51h3v1h-3zM181 51h2v1h-2zM185 51h7v1h-7zM193 51h4v1h-4zM199 51h2v1h-2zM202 51h2v1h-2zM207 51h3v1h-3zM172 52h3v1h-3zM177 52h2v1h-2zM184 52h6v1h-6zM191 52h2v1h-2zM194 52h4v1h-4zM202 52h1v1h-1zM204 52h3v1h-3zM208 52h2v1h-2zM211 52h2v1h-2zM172 53h2v1h-2zM175 53h2v1h-2zM178 53h1v1h-1zM180 53h1v1h-1zM182 53h1v1h-1zM184 53h3v1h-3zM189 53h3v1h-3zM193 53h1v1h-1zM196 53h5v1h-5zM203 53h1v1h-1zM205 53h3v1h-3zM211 53h1v1h-1zM172 54h2v1h-2zM175 54h5v1h-5zM181 54h1v1h-1zM183 54h3v1h-3zM188 54h4v1h-4zM193 54h2v1h-2zM196 54h2v1h-2zM199 54h1v1h-1zM201 54h3v1h-3zM206 54h1v1h-1zM208 54h3v1h-3zM212 54h1v1h-1zM173 55h2v1h-2zM176 55h3v1h-3zM181 55h6v1h-6zM188 55h1v1h-1zM190 55h1v1h-1zM192 55h3v1h-3zM196 55h1v1h-1zM199 55h1v1h-1zM201 55h7v1h-7zM210 55h3v1h-3zM172 56h6v1h-6zM179 56h1v1h-1zM181 56h12v1h-12zM194 56h2v1h-2zM200 56h3v1h-3zM204 56h1v1h-1zM207 56h3v1h-3zM211 56h1v1h-1zM172 57h19v1h-19zM192 57h2v1h-2zM197 57h1v1h-1zM199 57h1v1h-1zM204 57h2v1h-2zM207 57h5v1h-5zM172 58h2v1h-2zM175 58h3v1h-3zM179 58h2v1h-2zM184 58h2v1h-2zM187 58h2v1h-2zM190 58h5v1h-5zM196 58h2v1h-2zM199 58h4v1h-4zM206 58h1v1h-1zM209 58h1v1h-1zM211 58h2v1h-2zM174 59h2v1h-2zM178 59h1v1h-1zM180 59h3v1h-3zM187 59h1v1h-1zM191 59h3v1h-3zM195 59h3v1h-3zM200 59h2v1h-2zM203 59h3v1h-3zM209 59h1v1h-1zM212 59h1v1h-1zM171 60h4v1h-4zM177 60h1v1h-1zM179 60h1v1h-1zM181 60h1v1h-1zM183 60h1v1h-1zM185 60h2v1h-2zM188 60h1v1h-1zM190 60h1v1h-1zM192 60h6v1h-6zM200 60h1v1h-1zM204 60h1v1h-1zM208 60h1v1h-1zM210 60h1v1h-1zM212 60h1v1h-1zM171 61h3v1h-3zM178 61h1v1h-1zM180 61h1v1h-1zM183 61h1v1h-1zM190 61h1v1h-1zM192 61h2v1h-2zM195 61h1v1h-1zM197 61h2v1h-2zM200 61h1v1h-1zM203 61h1v1h-1zM211 61h1v1h-1zM172 62h2v1h-2zM177 62h1v1h-1zM182 62h2v1h-2zM187 62h1v1h-1zM189 62h4v1h-4zM195 62h3v1h-3zM202 62h1v1h-1zM204 62h1v1h-1zM211 62h1v1h-1zM172 63h1v1h-1zM179 63h1v1h-1zM185 63h1v1h-1zM190 63h2v1h-2zM195 63h2v1h-2zM198 63h2v1h-2zM205 63h1v1h-1zM209 63h1v1h-1zM211 63h1v1h-1zM193 64h1v1h-1zM196 64h1v1h-1zM204 64h1v1h-1zM176 65h1v1h-1zM180 65h1v1h-1zM201 65h1v1h-1zM212 65h1v1h-1zM174 66h1v1h-1zM177 66h1v1h-1zM178 68h1v1h-1zM197 68h1v1h-1z"/>
<path fill="#000" fill-opacity="1.0" d="M250 31h1v1h-1zM254 31h1v1h-1zM247 32h1v1h-1zM247 33h1v1h-1zM241 35h1v1h-1zM246 35h1v1h-1zM248 35h1v1h-1zM254 35h1v1h-1zM240 36h1v1h-1zM247 36h1v1h-1zM253 36h1v1h-1zM243 37h1v1h-1zM236 38h1v1h-1zM238 38h1v1h-1zM240 38h1v1h-1zM244 38h2v1h-2zM247 38h1v1h-1zM252 38h1v1h-1zM234 39h1v1h-1zM236 39h1v1h-1zM239 39h1v1h-1zM243 39h2v1h-2zM251 39h1v1h-1zM234 40h1v1h-1zM241 40h1v1h-1zM243 40h1v1h-1zM246 40h1v1h-1zM250 40h1v1h-1zM234 41h1v1h-1zM237 41h7v1h-7zM245 41h1v1h-1zM254 41h1v1h-1zM235 42h7v1h-7zM243 42h8v1h-8zM252 42h1v1h-1zM234 43h3v1h-3zM239 43h8v1h-8zM249 43h1v1h-1zM232 44h3v1h-3zM236 44h8v1h-8zM245 44h1v1h-1zM247 44h2v1h-2zM231 45h1v1h-1zM234 45h9v1h-9zM244 45h4v1h-4zM250 45h1v1h-1zM231 46h1v1h-1zM234 46h10v1h-10zM246 46h2v1h-2zM229 47h15v1h-15zM247 47h1v1h-1zM221 48h1v1h-1zM230 48h14v1h-14zM247 48h1v1h-1zM227 49h19v1h-19zM223 50h1v1h-1zM225 50h3v1h-3zM229 50h14v1h-14zM244 50h3v1h-3zM225 51h1v1h-1zM227 51h17v1h-17zM246 51h2v1h-2zM221 52h2v1h-2zM224 52h18v1h-18zM245 52h1v1h-1zM225 53h16v1h-16zM242 53h1v1h-1zM220 54h20v1h-20zM241 54h3v1h-3zM222 55h18v1h-18zM217 56h1v1h-1zM221 56h19v1h-19zM241 56h2v1h-2zM221 57h1v1h-1zM223 57h18v1h-18zM219 58h23v1h-23zM219 59h21v1h-21zM218 60h2v1h-2zM221 60h15v1h-15zM237 60h2v1h-2zM215 61h5v1h-5zM221 61h18v1h-18zM216 62h20v1h-20zM237 62h1v1h-1zM215 63h21v1h-21zM238 63h1v1h-1zM212 64h1v1h-1zM216 64h19v1h-19zM215 65h16v1h-16zM232 65h2v1h-2zM212 66h2v1h-2zM215 66h17v1h-17zM233 66h1v1h-1zM235 66h1v1h-1zM211 67h3v1h-3zM215 67h11v1h-11zM227 67h4v1h-4zM207 68h1v1h-1zM212 68h1v1h-1zM215 68h14v1h-14zM230 68h2v1h-2zM214 69h1v1h-1zM216 69h13v1h-13zM230 69h3v1h-3zM211 70h19v1h-19zM209 71h1v1h-1zM212 71h1v1h-1zM215 71h13v1h-13zM230 71h1v1h-1zM208 72h1v1h-1zM212 72h11v1h-11zM224 72h2v1h-2zM205 73h1v1h-1zM210 73h1v1h-1zM212 73h12v1h-12zM211 74h1v1h-1zM213 74h6v1h-6zM220 74h3v1h-3zM225 74h1v1h-1zM208 75h1v1h-1zM211 75h5v1h-5zM218 75h2v1h-2zM221 75h2v1h-2zM206 76h1v1h-1zM211 76h11v1h-11zM206 77h2v1h-2zM210 77h1v1h-1zM212 77h1v1h-1zM214 77h5v1h-5zM210 78h7v1h-7zM218 78h2v1h-2zM222 78h1v1h-1zM212 79h1v1h-1zM216 79h3v1h-3zM205 80h3v1h-3zM213 80h3v1h-3zM222 80h1v1h-1zM206 81h1v1h-1zM212 81h2v1h-2zM207 82h2v1h-2zM211 82h1v1h-1zM214 82h1v1h-1zM203 83h1v1h-1zM207 83h1v1h-1zM214 83h1v1h-1zM217 83h1v1h-1zM220 83h1v1h-1zM214 84h2v1h-2zM200 85h1v1h-1zM206 85h1v1h-1zM214 85h1v1h-1zM206 86h1v1h-1zM201 88h1v1h-1z"/>
</g>
<rect x="171" y="14.3" width="101" height="101.7" fill="none" stroke="#888" stroke-width="1"/>
<path d="M212.5 14.3V116M171 79.9H272" stroke="#000" stroke-width="1.7"/>
<text x="173.9" y="121.2" font-size="4.4" fill="#999" text-anchor="middle" style="stroke:none">10⁰</text>
<text transform="translate(168.8,114.0) rotate(-90)" font-size="4.4" fill="#aaa" text-anchor="middle" style="stroke:none">10⁰</text>
<text x="199.2" y="121.2" font-size="4.4" fill="#999" text-anchor="middle" style="stroke:none">10¹</text>
<text transform="translate(168.8,89.0) rotate(-90)" font-size="4.4" fill="#aaa" text-anchor="middle" style="stroke:none">10¹</text>
<text x="224.5" y="121.2" font-size="4.4" fill="#999" text-anchor="middle" style="stroke:none">10²</text>
<text transform="translate(168.8,64.0) rotate(-90)" font-size="4.4" fill="#aaa" text-anchor="middle" style="stroke:none">10²</text>
<text x="249.8" y="121.2" font-size="4.4" fill="#999" text-anchor="middle" style="stroke:none">10³</text>
<text transform="translate(168.8,39.0) rotate(-90)" font-size="4.4" fill="#aaa" text-anchor="middle" style="stroke:none">10³</text>
<text x="275.1" y="121.2" font-size="4.4" fill="#999" text-anchor="middle" style="stroke:none">10⁴</text>
<text transform="translate(168.8,14.0) rotate(-90)" font-size="4.4" fill="#aaa" text-anchor="middle" style="stroke:none">10⁴</text>
<text x="220.0" y="125.3" font-size="4" fill="#999" text-anchor="middle" style="stroke:none">FL4-H</text>
<text x="210.03" y="10.50" font-size="13.5" font-weight="normal" font-style="italic" textLength="24.53" lengthAdjust="spacingAndGlyphs">Bmf</text>
<text x="236.8" y="6.3" font-size="8.5" text-anchor="start" font-weight="normal" font-style="italic" fill="#000" >-/-</text>
<text x="182.49" y="33.50" font-size="14.4" font-weight="normal" font-style="normal" textLength="19.21" lengthAdjust="spacingAndGlyphs">7.8</text>
<text x="240.90" y="33.50" font-size="14.4" font-weight="normal" font-style="normal" textLength="26.66" lengthAdjust="spacingAndGlyphs">81.1</text>
<text x="181.22" y="109.80" font-size="14.4" font-weight="normal" font-style="normal" textLength="18.64" lengthAdjust="spacingAndGlyphs">6.1</text>
<text x="247.64" y="109.80" font-size="14.4" font-weight="normal" font-style="normal" textLength="19.57" lengthAdjust="spacingAndGlyphs">5.2</text>
<g filter="url(#bl)">
<path fill="#000" fill-opacity="0.4" d="M293 20h1v1h-1zM355 25h1v1h-1zM301 27h1v1h-1zM341 38h1v1h-1zM335 41h1v1h-1zM375 61h1v1h-1zM385 71h1v1h-1zM340 76h1v1h-1zM383 81h1v1h-1zM303 86h1v1h-1zM312 97h1v1h-1zM328 98h1v1h-1zM362 100h1v1h-1zM339 101h1v1h-1zM302 106h1v1h-1zM365 113h1v1h-1z"/>
<path fill="#000" fill-opacity="0.5" d="M348 48h1v1h-1zM339 51h1v1h-1zM338 53h1v1h-1zM312 54h1v1h-1zM317 55h1v1h-1zM323 55h1v1h-1zM343 55h1v1h-1zM334 56h1v1h-1zM303 57h1v1h-1zM308 57h1v1h-1zM314 57h1v1h-1zM295 58h1v1h-1zM305 58h1v1h-1zM311 58h1v1h-1zM318 58h1v1h-1zM332 58h1v1h-1zM308 59h1v1h-1zM321 59h1v1h-1zM327 60h1v1h-1zM342 60h1v1h-1zM293 62h1v1h-1zM313 62h1v1h-1zM319 62h1v1h-1zM325 62h1v1h-1zM331 62h1v1h-1zM353 62h1v1h-1zM305 63h1v1h-1zM312 63h1v1h-1zM326 63h1v1h-1zM349 63h1v1h-1zM292 64h1v1h-1zM300 64h1v1h-1zM313 64h1v1h-1zM335 64h1v1h-1zM297 65h1v1h-1zM302 65h1v1h-1zM304 65h1v1h-1zM323 65h1v1h-1zM333 65h1v1h-1zM337 65h1v1h-1zM345 65h1v1h-1zM347 65h1v1h-1zM298 66h1v1h-1zM300 66h1v1h-1zM333 66h1v1h-1zM335 66h1v1h-1zM345 66h1v1h-1zM295 67h2v1h-2zM300 67h1v1h-1zM303 67h1v1h-1zM305 67h1v1h-1zM322 67h1v1h-1zM326 67h1v1h-1zM340 67h1v1h-1zM351 67h1v1h-1zM292 68h2v1h-2zM329 68h4v1h-4zM342 68h1v1h-1zM346 68h1v1h-1zM349 68h1v1h-1zM351 68h1v1h-1zM293 69h1v1h-1zM297 69h1v1h-1zM299 69h1v1h-1zM306 69h1v1h-1zM314 69h1v1h-1zM335 69h1v1h-1zM338 69h1v1h-1zM343 69h1v1h-1zM351 69h1v1h-1zM302 70h1v1h-1zM306 70h2v1h-2zM317 70h1v1h-1zM335 70h1v1h-1zM351 70h1v1h-1zM297 71h1v1h-1zM305 71h1v1h-1zM310 71h1v1h-1zM313 71h1v1h-1zM316 71h1v1h-1zM326 71h1v1h-1zM333 71h1v1h-1zM344 71h1v1h-1zM293 72h2v1h-2zM300 72h1v1h-1zM309 72h1v1h-1zM313 72h1v1h-1zM318 72h2v1h-2zM322 72h1v1h-1zM329 72h1v1h-1zM334 72h1v1h-1zM338 72h1v1h-1zM345 72h1v1h-1zM349 72h1v1h-1zM300 73h1v1h-1zM306 73h1v1h-1zM313 73h1v1h-1zM324 73h1v1h-1zM333 73h1v1h-1zM337 73h2v1h-2zM343 73h1v1h-1zM349 73h1v1h-1zM352 73h1v1h-1zM302 74h1v1h-1zM307 74h1v1h-1zM313 74h1v1h-1zM324 74h1v1h-1zM331 74h2v1h-2zM335 74h1v1h-1zM343 74h3v1h-3zM347 74h1v1h-1zM297 75h1v1h-1zM312 75h1v1h-1zM316 75h1v1h-1zM321 75h1v1h-1zM328 75h1v1h-1zM334 75h1v1h-1zM338 75h1v1h-1zM345 75h1v1h-1zM351 75h2v1h-2zM293 76h1v1h-1zM298 76h2v1h-2zM310 76h1v1h-1zM321 76h1v1h-1zM324 76h1v1h-1zM329 76h1v1h-1zM334 76h1v1h-1zM338 76h1v1h-1zM346 76h1v1h-1zM349 76h2v1h-2zM296 77h1v1h-1zM303 77h1v1h-1zM312 77h2v1h-2zM316 77h2v1h-2zM329 77h1v1h-1zM331 77h3v1h-3zM338 77h1v1h-1zM346 77h4v1h-4zM353 77h3v1h-3zM360 77h1v1h-1zM303 78h1v1h-1zM308 78h1v1h-1zM311 78h1v1h-1zM329 78h1v1h-1zM335 78h2v1h-2zM338 78h2v1h-2zM344 78h2v1h-2zM348 78h1v1h-1zM351 78h2v1h-2zM355 78h1v1h-1zM360 78h1v1h-1zM294 79h1v1h-1zM304 79h1v1h-1zM314 79h1v1h-1zM319 79h1v1h-1zM322 79h1v1h-1zM334 79h1v1h-1zM338 79h2v1h-2zM342 79h1v1h-1zM344 79h1v1h-1zM352 79h1v1h-1zM363 79h1v1h-1zM329 80h1v1h-1zM334 80h1v1h-1zM336 80h1v1h-1zM338 80h1v1h-1zM340 80h1v1h-1zM344 80h3v1h-3zM348 80h1v1h-1zM350 80h3v1h-3zM359 80h1v1h-1zM311 81h1v1h-1zM317 81h2v1h-2zM339 81h1v1h-1zM350 81h1v1h-1zM352 81h1v1h-1zM356 81h2v1h-2zM362 81h1v1h-1zM295 82h1v1h-1zM331 82h1v1h-1zM334 82h2v1h-2zM337 82h1v1h-1zM339 82h1v1h-1zM349 82h1v1h-1zM354 82h2v1h-2zM357 82h1v1h-1zM361 82h2v1h-2zM302 83h1v1h-1zM335 83h1v1h-1zM339 83h1v1h-1zM341 83h2v1h-2zM347 83h3v1h-3zM308 84h2v1h-2zM331 84h3v1h-3zM336 84h1v1h-1zM339 84h1v1h-1zM342 84h1v1h-1zM344 84h1v1h-1zM351 84h1v1h-1zM353 84h1v1h-1zM330 85h1v1h-1zM345 85h2v1h-2zM350 85h1v1h-1zM362 85h2v1h-2zM339 86h1v1h-1zM347 86h1v1h-1zM354 86h1v1h-1zM360 86h1v1h-1zM328 87h1v1h-1zM334 87h2v1h-2zM340 87h1v1h-1zM343 87h1v1h-1zM347 87h2v1h-2zM317 88h1v1h-1zM343 88h2v1h-2zM346 88h2v1h-2zM349 88h1v1h-1zM352 88h1v1h-1zM332 89h1v1h-1zM334 89h2v1h-2zM343 89h1v1h-1zM346 89h2v1h-2zM350 89h1v1h-1zM337 90h2v1h-2zM335 91h1v1h-1zM337 91h1v1h-1zM340 91h1v1h-1zM344 91h1v1h-1zM348 91h1v1h-1zM363 91h1v1h-1zM327 92h1v1h-1zM332 92h1v1h-1zM336 92h1v1h-1zM341 92h1v1h-1zM346 92h1v1h-1zM350 92h1v1h-1zM335 93h2v1h-2zM339 93h1v1h-1zM346 93h1v1h-1zM350 93h1v1h-1zM362 93h1v1h-1zM332 94h1v1h-1zM335 94h1v1h-1zM345 94h2v1h-2zM355 94h1v1h-1zM332 95h1v1h-1zM352 95h1v1h-1zM332 96h2v1h-2zM335 96h2v1h-2zM339 96h1v1h-1zM347 96h1v1h-1zM350 96h1v1h-1zM333 97h1v1h-1zM342 97h1v1h-1zM362 97h1v1h-1zM339 98h1v1h-1zM341 98h1v1h-1zM361 98h1v1h-1zM341 99h1v1h-1zM344 99h1v1h-1zM347 99h1v1h-1zM352 99h2v1h-2zM332 100h1v1h-1zM335 100h1v1h-1zM340 100h1v1h-1zM349 100h1v1h-1zM351 100h1v1h-1zM353 100h1v1h-1zM359 100h1v1h-1zM332 101h1v1h-1zM335 101h1v1h-1zM337 101h1v1h-1zM340 101h2v1h-2zM345 101h1v1h-1zM333 102h1v1h-1zM335 102h1v1h-1zM338 102h1v1h-1zM345 102h1v1h-1zM349 102h1v1h-1zM353 102h1v1h-1zM333 103h1v1h-1zM337 103h1v1h-1zM339 103h1v1h-1zM343 103h1v1h-1zM359 103h1v1h-1zM361 103h2v1h-2zM336 104h1v1h-1zM342 104h1v1h-1zM348 104h1v1h-1zM355 104h2v1h-2zM360 104h2v1h-2zM334 105h1v1h-1zM337 105h1v1h-1zM342 105h1v1h-1zM346 105h1v1h-1zM351 105h1v1h-1zM362 105h1v1h-1zM333 106h2v1h-2zM344 106h1v1h-1zM346 106h1v1h-1zM349 106h1v1h-1zM355 106h1v1h-1zM340 107h4v1h-4zM347 107h1v1h-1zM351 107h2v1h-2zM357 107h1v1h-1zM359 107h2v1h-2zM333 108h1v1h-1zM336 108h1v1h-1zM339 108h1v1h-1zM352 108h2v1h-2zM331 109h1v1h-1zM343 109h1v1h-1zM347 109h1v1h-1zM349 109h1v1h-1zM355 109h1v1h-1zM338 110h2v1h-2zM347 110h1v1h-1zM351 110h1v1h-1zM354 110h2v1h-2zM358 110h1v1h-1zM361 110h1v1h-1zM338 111h1v1h-1zM341 111h1v1h-1zM345 111h1v1h-1zM348 111h1v1h-1zM351 111h1v1h-1zM355 111h1v1h-1zM357 111h2v1h-2zM336 112h1v1h-1zM347 112h1v1h-1zM350 112h1v1h-1zM354 112h1v1h-1zM356 112h3v1h-3zM348 113h1v1h-1zM354 113h2v1h-2zM357 113h1v1h-1zM360 113h1v1h-1zM362 113h1v1h-1zM337 114h1v1h-1zM342 114h1v1h-1zM348 114h1v1h-1zM351 114h1v1h-1zM355 114h1v1h-1zM357 114h2v1h-2zM362 114h1v1h-1z"/>
<path fill="#000" fill-opacity="0.55" d="M312 26h1v1h-1zM337 28h1v1h-1zM334 30h1v1h-1zM322 32h1v1h-1zM333 33h1v1h-1zM299 34h1v1h-1zM321 34h1v1h-1zM337 35h1v1h-1zM342 35h1v1h-1zM323 36h1v1h-1zM327 36h1v1h-1zM335 36h1v1h-1zM301 37h1v1h-1zM318 37h1v1h-1zM336 37h1v1h-1zM306 38h1v1h-1zM338 38h1v1h-1zM350 38h1v1h-1zM320 39h1v1h-1zM331 39h2v1h-2zM299 40h1v1h-1zM314 40h1v1h-1zM321 40h1v1h-1zM343 40h1v1h-1zM309 41h1v1h-1zM311 41h1v1h-1zM313 41h1v1h-1zM318 41h1v1h-1zM329 41h1v1h-1zM334 41h1v1h-1zM338 41h1v1h-1zM343 41h1v1h-1zM346 41h2v1h-2zM312 42h1v1h-1zM324 42h2v1h-2zM331 42h1v1h-1zM333 42h1v1h-1zM340 42h1v1h-1zM345 42h1v1h-1zM351 42h1v1h-1zM306 43h1v1h-1zM331 43h1v1h-1zM344 43h2v1h-2zM352 43h1v1h-1zM354 43h2v1h-2zM335 44h1v1h-1zM337 44h1v1h-1zM343 44h1v1h-1zM372 44h1v1h-1zM334 45h1v1h-1zM336 45h1v1h-1zM349 45h1v1h-1zM300 46h1v1h-1zM312 46h1v1h-1zM335 46h2v1h-2zM346 46h1v1h-1zM336 47h4v1h-4zM343 47h1v1h-1zM345 47h1v1h-1zM349 47h1v1h-1zM321 48h1v1h-1zM325 48h1v1h-1zM334 48h1v1h-1zM339 48h1v1h-1zM341 48h1v1h-1zM343 48h1v1h-1zM346 48h1v1h-1zM334 49h1v1h-1zM337 49h3v1h-3zM341 49h4v1h-4zM366 49h1v1h-1zM372 49h1v1h-1zM296 50h1v1h-1zM324 50h1v1h-1zM331 50h1v1h-1zM337 50h2v1h-2zM341 50h2v1h-2zM344 50h2v1h-2zM292 51h1v1h-1zM297 51h2v1h-2zM305 51h1v1h-1zM317 51h1v1h-1zM334 51h1v1h-1zM336 51h3v1h-3zM340 51h1v1h-1zM342 51h2v1h-2zM348 51h1v1h-1zM296 52h1v1h-1zM302 52h1v1h-1zM310 52h1v1h-1zM333 52h6v1h-6zM341 52h2v1h-2zM345 52h2v1h-2zM377 52h1v1h-1zM294 53h1v1h-1zM298 53h1v1h-1zM305 53h1v1h-1zM314 53h1v1h-1zM317 53h1v1h-1zM321 53h1v1h-1zM334 53h1v1h-1zM336 53h1v1h-1zM339 53h4v1h-4zM294 54h1v1h-1zM305 54h1v1h-1zM308 54h1v1h-1zM319 54h1v1h-1zM324 54h1v1h-1zM329 54h1v1h-1zM334 54h5v1h-5zM340 54h2v1h-2zM344 54h1v1h-1zM367 54h1v1h-1zM370 54h1v1h-1zM292 55h1v1h-1zM294 55h1v1h-1zM298 55h2v1h-2zM306 55h2v1h-2zM310 55h2v1h-2zM314 55h1v1h-1zM316 55h1v1h-1zM328 55h1v1h-1zM331 55h1v1h-1zM334 55h3v1h-3zM338 55h1v1h-1zM341 55h2v1h-2zM344 55h1v1h-1zM300 56h1v1h-1zM302 56h3v1h-3zM311 56h3v1h-3zM315 56h2v1h-2zM320 56h1v1h-1zM329 56h5v1h-5zM335 56h5v1h-5zM342 56h1v1h-1zM370 56h1v1h-1zM293 57h2v1h-2zM296 57h1v1h-1zM299 57h1v1h-1zM301 57h2v1h-2zM306 57h2v1h-2zM309 57h1v1h-1zM311 57h2v1h-2zM315 57h2v1h-2zM319 57h1v1h-1zM321 57h2v1h-2zM324 57h1v1h-1zM327 57h6v1h-6zM334 57h4v1h-4zM341 57h1v1h-1zM343 57h4v1h-4zM349 57h1v1h-1zM293 58h2v1h-2zM296 58h1v1h-1zM298 58h2v1h-2zM301 58h1v1h-1zM307 58h1v1h-1zM310 58h1v1h-1zM314 58h2v1h-2zM317 58h1v1h-1zM319 58h4v1h-4zM327 58h5v1h-5zM333 58h2v1h-2zM336 58h7v1h-7zM344 58h2v1h-2zM348 58h1v1h-1zM351 58h1v1h-1zM367 58h1v1h-1zM369 58h1v1h-1zM292 59h7v1h-7zM304 59h2v1h-2zM307 59h1v1h-1zM309 59h8v1h-8zM318 59h3v1h-3zM324 59h1v1h-1zM327 59h4v1h-4zM332 59h3v1h-3zM336 59h10v1h-10zM347 59h1v1h-1zM352 59h1v1h-1zM362 59h1v1h-1zM371 59h1v1h-1zM292 60h3v1h-3zM299 60h2v1h-2zM303 60h2v1h-2zM306 60h2v1h-2zM309 60h18v1h-18zM328 60h9v1h-9zM338 60h3v1h-3zM343 60h1v1h-1zM345 60h1v1h-1zM347 60h1v1h-1zM353 60h3v1h-3zM359 60h1v1h-1zM362 60h1v1h-1zM295 61h1v1h-1zM298 61h1v1h-1zM301 61h2v1h-2zM304 61h1v1h-1zM306 61h1v1h-1zM308 61h1v1h-1zM310 61h3v1h-3zM314 61h10v1h-10zM325 61h1v1h-1zM328 61h15v1h-15zM345 61h1v1h-1zM348 61h2v1h-2zM353 61h1v1h-1zM357 61h1v1h-1zM359 61h1v1h-1zM366 61h1v1h-1zM292 62h1v1h-1zM296 62h1v1h-1zM298 62h1v1h-1zM300 62h1v1h-1zM302 62h1v1h-1zM304 62h4v1h-4zM311 62h1v1h-1zM314 62h5v1h-5zM320 62h2v1h-2zM323 62h2v1h-2zM327 62h4v1h-4zM332 62h8v1h-8zM341 62h1v1h-1zM344 62h4v1h-4zM355 62h1v1h-1zM363 62h1v1h-1zM371 62h1v1h-1zM292 63h3v1h-3zM296 63h1v1h-1zM298 63h2v1h-2zM301 63h2v1h-2zM306 63h3v1h-3zM310 63h1v1h-1zM313 63h1v1h-1zM315 63h5v1h-5zM321 63h5v1h-5zM327 63h1v1h-1zM329 63h10v1h-10zM340 63h5v1h-5zM346 63h1v1h-1zM348 63h1v1h-1zM351 63h1v1h-1zM355 63h2v1h-2zM358 63h2v1h-2zM363 63h3v1h-3zM368 63h1v1h-1zM293 64h2v1h-2zM296 64h1v1h-1zM299 64h1v1h-1zM301 64h2v1h-2zM305 64h2v1h-2zM308 64h1v1h-1zM311 64h2v1h-2zM314 64h11v1h-11zM326 64h9v1h-9zM336 64h2v1h-2zM339 64h7v1h-7zM349 64h2v1h-2zM353 64h3v1h-3zM363 64h2v1h-2zM294 65h2v1h-2zM298 65h1v1h-1zM300 65h2v1h-2zM306 65h7v1h-7zM314 65h1v1h-1zM316 65h4v1h-4zM321 65h1v1h-1zM325 65h4v1h-4zM330 65h3v1h-3zM334 65h3v1h-3zM338 65h1v1h-1zM342 65h1v1h-1zM344 65h1v1h-1zM346 65h1v1h-1zM348 65h2v1h-2zM352 65h1v1h-1zM354 65h2v1h-2zM359 65h1v1h-1zM367 65h1v1h-1zM292 66h1v1h-1zM295 66h3v1h-3zM299 66h1v1h-1zM301 66h3v1h-3zM307 66h7v1h-7zM315 66h1v1h-1zM318 66h8v1h-8zM327 66h6v1h-6zM334 66h1v1h-1zM336 66h4v1h-4zM341 66h1v1h-1zM343 66h2v1h-2zM346 66h2v1h-2zM349 66h2v1h-2zM352 66h2v1h-2zM355 66h1v1h-1zM357 66h2v1h-2zM360 66h1v1h-1zM293 67h1v1h-1zM298 67h2v1h-2zM302 67h1v1h-1zM304 67h1v1h-1zM306 67h2v1h-2zM309 67h2v1h-2zM312 67h2v1h-2zM315 67h1v1h-1zM317 67h4v1h-4zM323 67h3v1h-3zM327 67h4v1h-4zM332 67h6v1h-6zM339 67h1v1h-1zM341 67h8v1h-8zM352 67h1v1h-1zM355 67h1v1h-1zM358 67h1v1h-1zM360 67h1v1h-1zM365 67h2v1h-2zM294 68h1v1h-1zM297 68h4v1h-4zM302 68h1v1h-1zM304 68h4v1h-4zM309 68h8v1h-8zM318 68h10v1h-10zM333 68h9v1h-9zM343 68h2v1h-2zM348 68h1v1h-1zM350 68h1v1h-1zM357 68h2v1h-2zM364 68h1v1h-1zM292 69h1v1h-1zM295 69h1v1h-1zM300 69h4v1h-4zM305 69h1v1h-1zM307 69h1v1h-1zM309 69h3v1h-3zM313 69h1v1h-1zM315 69h1v1h-1zM319 69h2v1h-2zM322 69h13v1h-13zM336 69h2v1h-2zM339 69h2v1h-2zM344 69h2v1h-2zM347 69h1v1h-1zM349 69h2v1h-2zM352 69h1v1h-1zM356 69h1v1h-1zM358 69h1v1h-1zM361 69h3v1h-3zM365 69h1v1h-1zM292 70h10v1h-10zM303 70h2v1h-2zM308 70h1v1h-1zM312 70h1v1h-1zM315 70h1v1h-1zM318 70h2v1h-2zM321 70h2v1h-2zM326 70h9v1h-9zM336 70h7v1h-7zM344 70h1v1h-1zM348 70h1v1h-1zM350 70h1v1h-1zM352 70h2v1h-2zM359 70h3v1h-3zM363 70h1v1h-1zM368 70h1v1h-1zM292 71h4v1h-4zM298 71h2v1h-2zM302 71h3v1h-3zM306 71h1v1h-1zM308 71h2v1h-2zM311 71h1v1h-1zM315 71h1v1h-1zM317 71h3v1h-3zM321 71h1v1h-1zM323 71h1v1h-1zM325 71h1v1h-1zM327 71h2v1h-2zM330 71h1v1h-1zM332 71h1v1h-1zM335 71h2v1h-2zM339 71h1v1h-1zM341 71h2v1h-2zM345 71h2v1h-2zM355 71h6v1h-6zM375 71h1v1h-1zM296 72h2v1h-2zM301 72h2v1h-2zM304 72h1v1h-1zM306 72h2v1h-2zM311 72h1v1h-1zM314 72h3v1h-3zM320 72h2v1h-2zM325 72h4v1h-4zM330 72h4v1h-4zM335 72h3v1h-3zM339 72h2v1h-2zM342 72h2v1h-2zM346 72h1v1h-1zM356 72h1v1h-1zM363 72h1v1h-1zM293 73h3v1h-3zM297 73h1v1h-1zM299 73h1v1h-1zM301 73h1v1h-1zM307 73h4v1h-4zM314 73h2v1h-2zM319 73h1v1h-1zM321 73h1v1h-1zM323 73h1v1h-1zM325 73h1v1h-1zM327 73h1v1h-1zM329 73h2v1h-2zM332 73h1v1h-1zM334 73h1v1h-1zM336 73h1v1h-1zM339 73h2v1h-2zM342 73h1v1h-1zM344 73h1v1h-1zM346 73h2v1h-2zM360 73h2v1h-2zM363 73h1v1h-1zM365 73h1v1h-1zM376 73h1v1h-1zM292 74h1v1h-1zM294 74h3v1h-3zM298 74h1v1h-1zM301 74h1v1h-1zM304 74h1v1h-1zM308 74h1v1h-1zM314 74h2v1h-2zM317 74h1v1h-1zM319 74h2v1h-2zM322 74h1v1h-1zM325 74h1v1h-1zM327 74h2v1h-2zM330 74h1v1h-1zM336 74h5v1h-5zM348 74h2v1h-2zM351 74h3v1h-3zM357 74h1v1h-1zM293 75h2v1h-2zM296 75h1v1h-1zM298 75h1v1h-1zM300 75h1v1h-1zM303 75h1v1h-1zM307 75h1v1h-1zM310 75h1v1h-1zM313 75h2v1h-2zM317 75h1v1h-1zM323 75h2v1h-2zM330 75h4v1h-4zM335 75h3v1h-3zM339 75h1v1h-1zM341 75h1v1h-1zM344 75h1v1h-1zM346 75h2v1h-2zM355 75h1v1h-1zM361 75h1v1h-1zM296 76h2v1h-2zM300 76h2v1h-2zM303 76h3v1h-3zM311 76h1v1h-1zM316 76h1v1h-1zM319 76h1v1h-1zM322 76h1v1h-1zM328 76h1v1h-1zM330 76h1v1h-1zM341 76h5v1h-5zM348 76h1v1h-1zM352 76h1v1h-1zM354 76h1v1h-1zM292 77h2v1h-2zM298 77h2v1h-2zM301 77h2v1h-2zM305 77h3v1h-3zM315 77h1v1h-1zM319 77h1v1h-1zM321 77h2v1h-2zM324 77h1v1h-1zM326 77h3v1h-3zM334 77h3v1h-3zM339 77h1v1h-1zM351 77h2v1h-2zM292 78h3v1h-3zM298 78h3v1h-3zM302 78h1v1h-1zM304 78h1v1h-1zM306 78h2v1h-2zM315 78h1v1h-1zM317 78h2v1h-2zM320 78h4v1h-4zM325 78h4v1h-4zM330 78h1v1h-1zM337 78h1v1h-1zM343 78h1v1h-1zM347 78h1v1h-1zM357 78h1v1h-1zM368 78h1v1h-1zM295 79h5v1h-5zM301 79h3v1h-3zM306 79h2v1h-2zM309 79h4v1h-4zM315 79h4v1h-4zM320 79h1v1h-1zM323 79h6v1h-6zM335 79h1v1h-1zM292 80h2v1h-2zM295 80h2v1h-2zM298 80h1v1h-1zM302 80h1v1h-1zM304 80h2v1h-2zM307 80h1v1h-1zM309 80h1v1h-1zM311 80h3v1h-3zM315 80h2v1h-2zM318 80h1v1h-1zM320 80h4v1h-4zM325 80h3v1h-3zM330 80h1v1h-1zM332 80h2v1h-2zM295 81h5v1h-5zM303 81h3v1h-3zM307 81h4v1h-4zM313 81h1v1h-1zM315 81h2v1h-2zM320 81h1v1h-1zM322 81h2v1h-2zM325 81h4v1h-4zM330 81h1v1h-1zM335 81h1v1h-1zM345 81h1v1h-1zM348 81h1v1h-1zM354 81h1v1h-1zM364 81h1v1h-1zM294 82h1v1h-1zM302 82h1v1h-1zM305 82h3v1h-3zM309 82h1v1h-1zM311 82h6v1h-6zM318 82h1v1h-1zM323 82h1v1h-1zM325 82h2v1h-2zM328 82h3v1h-3zM347 82h1v1h-1zM356 82h1v1h-1zM292 83h9v1h-9zM304 83h4v1h-4zM312 83h2v1h-2zM315 83h5v1h-5zM321 83h4v1h-4zM326 83h1v1h-1zM329 83h3v1h-3zM334 83h1v1h-1zM354 83h1v1h-1zM292 84h1v1h-1zM294 84h1v1h-1zM297 84h2v1h-2zM301 84h1v1h-1zM303 84h1v1h-1zM306 84h2v1h-2zM310 84h1v1h-1zM312 84h2v1h-2zM319 84h2v1h-2zM324 84h1v1h-1zM328 84h1v1h-1zM293 85h4v1h-4zM299 85h2v1h-2zM304 85h1v1h-1zM308 85h1v1h-1zM311 85h2v1h-2zM315 85h1v1h-1zM318 85h2v1h-2zM323 85h2v1h-2zM326 85h3v1h-3zM331 85h1v1h-1zM335 85h1v1h-1zM340 85h1v1h-1zM293 86h1v1h-1zM297 86h1v1h-1zM299 86h1v1h-1zM301 86h1v1h-1zM306 86h3v1h-3zM310 86h2v1h-2zM314 86h1v1h-1zM317 86h4v1h-4zM322 86h1v1h-1zM325 86h2v1h-2zM328 86h3v1h-3zM294 87h2v1h-2zM300 87h1v1h-1zM303 87h1v1h-1zM305 87h6v1h-6zM313 87h2v1h-2zM318 87h1v1h-1zM321 87h1v1h-1zM323 87h1v1h-1zM325 87h2v1h-2zM330 87h2v1h-2zM294 88h1v1h-1zM296 88h4v1h-4zM303 88h1v1h-1zM307 88h1v1h-1zM313 88h3v1h-3zM318 88h2v1h-2zM321 88h1v1h-1zM323 88h4v1h-4zM329 88h1v1h-1zM353 88h1v1h-1zM293 89h1v1h-1zM295 89h1v1h-1zM298 89h4v1h-4zM306 89h1v1h-1zM309 89h3v1h-3zM316 89h1v1h-1zM318 89h1v1h-1zM326 89h3v1h-3zM330 89h1v1h-1zM294 90h1v1h-1zM296 90h1v1h-1zM298 90h2v1h-2zM301 90h1v1h-1zM304 90h1v1h-1zM306 90h1v1h-1zM319 90h6v1h-6zM328 90h1v1h-1zM331 90h1v1h-1zM293 91h1v1h-1zM296 91h2v1h-2zM306 91h1v1h-1zM309 91h1v1h-1zM311 91h2v1h-2zM316 91h1v1h-1zM322 91h2v1h-2zM325 91h1v1h-1zM328 91h2v1h-2zM296 92h1v1h-1zM299 92h1v1h-1zM303 92h1v1h-1zM307 92h2v1h-2zM312 92h1v1h-1zM315 92h1v1h-1zM318 92h1v1h-1zM320 92h1v1h-1zM322 92h3v1h-3zM326 92h1v1h-1zM295 93h1v1h-1zM299 93h1v1h-1zM301 93h1v1h-1zM303 93h1v1h-1zM305 93h1v1h-1zM309 93h1v1h-1zM311 93h1v1h-1zM313 93h2v1h-2zM316 93h2v1h-2zM322 93h1v1h-1zM327 93h1v1h-1zM329 93h1v1h-1zM292 94h1v1h-1zM294 94h1v1h-1zM301 94h1v1h-1zM303 94h2v1h-2zM306 94h2v1h-2zM317 94h1v1h-1zM320 94h1v1h-1zM324 94h2v1h-2zM328 94h3v1h-3zM295 95h1v1h-1zM300 95h1v1h-1zM302 95h1v1h-1zM305 95h1v1h-1zM309 95h4v1h-4zM314 95h1v1h-1zM316 95h1v1h-1zM320 95h1v1h-1zM293 96h1v1h-1zM297 96h1v1h-1zM300 96h1v1h-1zM302 96h1v1h-1zM305 96h1v1h-1zM312 96h3v1h-3zM316 96h1v1h-1zM323 96h1v1h-1zM327 96h1v1h-1zM330 96h1v1h-1zM292 97h1v1h-1zM297 97h1v1h-1zM299 97h2v1h-2zM309 97h1v1h-1zM311 97h1v1h-1zM313 97h1v1h-1zM315 97h1v1h-1zM317 97h1v1h-1zM319 97h3v1h-3zM323 97h1v1h-1zM327 97h1v1h-1zM330 97h1v1h-1zM303 98h1v1h-1zM305 98h2v1h-2zM313 98h1v1h-1zM320 98h2v1h-2zM325 98h1v1h-1zM329 98h2v1h-2zM294 99h1v1h-1zM296 99h1v1h-1zM298 99h2v1h-2zM304 99h1v1h-1zM312 99h3v1h-3zM317 99h2v1h-2zM324 99h1v1h-1zM330 99h1v1h-1zM292 100h1v1h-1zM294 100h4v1h-4zM299 100h1v1h-1zM311 100h3v1h-3zM320 100h2v1h-2zM324 100h1v1h-1zM327 100h1v1h-1zM304 101h1v1h-1zM308 101h1v1h-1zM314 101h1v1h-1zM324 101h1v1h-1zM329 101h1v1h-1zM295 102h1v1h-1zM303 102h1v1h-1zM305 102h1v1h-1zM319 102h1v1h-1zM321 102h2v1h-2zM292 103h1v1h-1zM299 103h1v1h-1zM301 103h2v1h-2zM308 103h1v1h-1zM315 103h1v1h-1zM319 103h1v1h-1zM321 103h1v1h-1zM323 103h1v1h-1zM294 104h2v1h-2zM300 104h1v1h-1zM304 104h1v1h-1zM306 104h1v1h-1zM312 104h2v1h-2zM317 104h1v1h-1zM319 104h2v1h-2zM328 104h1v1h-1zM292 105h2v1h-2zM297 105h2v1h-2zM302 105h1v1h-1zM304 105h2v1h-2zM307 105h1v1h-1zM313 105h1v1h-1zM316 105h1v1h-1zM318 105h1v1h-1zM321 105h1v1h-1zM324 105h2v1h-2zM328 105h2v1h-2zM293 106h1v1h-1zM295 106h2v1h-2zM299 106h1v1h-1zM303 106h1v1h-1zM309 106h1v1h-1zM318 106h1v1h-1zM320 106h1v1h-1zM322 106h1v1h-1zM324 106h1v1h-1zM327 106h1v1h-1zM302 107h2v1h-2zM305 107h1v1h-1zM308 107h2v1h-2zM312 107h2v1h-2zM293 108h1v1h-1zM299 108h1v1h-1zM305 108h1v1h-1zM309 108h2v1h-2zM315 108h1v1h-1zM318 108h2v1h-2zM321 108h1v1h-1zM329 108h2v1h-2zM293 109h1v1h-1zM300 109h1v1h-1zM302 109h1v1h-1zM304 109h1v1h-1zM306 109h1v1h-1zM309 109h1v1h-1zM314 109h1v1h-1zM329 109h1v1h-1zM299 110h1v1h-1zM307 110h1v1h-1zM310 110h2v1h-2zM313 110h3v1h-3zM318 110h1v1h-1zM325 110h3v1h-3zM293 111h1v1h-1zM298 111h1v1h-1zM302 111h2v1h-2zM307 111h1v1h-1zM313 111h1v1h-1zM315 111h1v1h-1zM317 111h1v1h-1zM319 111h1v1h-1zM323 111h1v1h-1zM296 112h1v1h-1zM299 112h1v1h-1zM303 112h1v1h-1zM305 112h1v1h-1zM313 112h1v1h-1zM316 112h1v1h-1zM325 112h1v1h-1zM327 112h2v1h-2zM298 113h1v1h-1zM300 113h1v1h-1zM306 113h2v1h-2zM309 113h1v1h-1zM319 113h1v1h-1zM323 113h1v1h-1zM329 113h1v1h-1zM293 114h1v1h-1zM301 114h2v1h-2zM306 114h1v1h-1zM318 114h2v1h-2zM325 114h1v1h-1z"/>
<path fill="#000" fill-opacity="0.7" d="M356 76h1v1h-1zM356 77h1v1h-1zM361 77h1v1h-1zM357 79h1v1h-1zM361 79h1v1h-1zM353 80h1v1h-1zM358 80h1v1h-1zM360 80h1v1h-1zM351 81h1v1h-1zM360 82h1v1h-1zM355 83h3v1h-3zM361 83h1v1h-1zM354 84h3v1h-3zM358 84h1v1h-1zM362 84h1v1h-1zM354 85h6v1h-6zM356 86h4v1h-4zM351 87h1v1h-1zM353 87h8v1h-8zM356 88h9v1h-9zM352 89h1v1h-1zM354 89h8v1h-8zM364 89h1v1h-1zM353 90h1v1h-1zM356 90h5v1h-5zM362 90h2v1h-2zM352 91h4v1h-4zM357 91h5v1h-5zM364 91h1v1h-1zM353 92h7v1h-7zM361 92h2v1h-2zM365 92h1v1h-1zM351 93h1v1h-1zM353 93h9v1h-9zM363 93h1v1h-1zM353 94h2v1h-2zM356 94h6v1h-6zM363 94h1v1h-1zM353 95h9v1h-9zM352 96h2v1h-2zM355 96h2v1h-2zM358 96h2v1h-2zM361 96h2v1h-2zM349 97h1v1h-1zM352 97h1v1h-1zM354 97h2v1h-2zM357 97h5v1h-5zM355 98h1v1h-1zM358 98h2v1h-2zM362 98h1v1h-1zM355 99h1v1h-1zM357 99h2v1h-2zM361 99h1v1h-1zM354 100h2v1h-2zM357 100h1v1h-1zM360 100h2v1h-2zM351 101h1v1h-1zM354 101h1v1h-1zM358 101h1v1h-1zM360 101h2v1h-2zM354 102h2v1h-2zM357 102h1v1h-1zM359 102h1v1h-1zM361 102h1v1h-1zM356 103h1v1h-1zM357 104h1v1h-1zM354 105h1v1h-1zM353 106h1v1h-1z"/>
<path fill="#000" fill-opacity="0.8" d="M295 35h1v1h-1zM309 35h1v1h-1zM316 35h1v1h-1zM296 36h1v1h-1zM302 36h1v1h-1zM314 37h1v1h-1zM319 37h1v1h-1zM296 38h1v1h-1zM298 38h2v1h-2zM312 38h3v1h-3zM316 38h1v1h-1zM318 38h1v1h-1zM322 38h2v1h-2zM326 38h1v1h-1zM293 39h2v1h-2zM300 39h2v1h-2zM303 39h2v1h-2zM314 39h1v1h-1zM316 39h1v1h-1zM322 39h1v1h-1zM329 39h1v1h-1zM292 40h2v1h-2zM296 40h3v1h-3zM301 40h1v1h-1zM304 40h1v1h-1zM310 40h1v1h-1zM317 40h1v1h-1zM319 40h2v1h-2zM324 40h4v1h-4zM329 40h2v1h-2zM332 40h1v1h-1zM293 41h2v1h-2zM296 41h1v1h-1zM298 41h4v1h-4zM303 41h6v1h-6zM312 41h1v1h-1zM315 41h1v1h-1zM317 41h1v1h-1zM325 41h1v1h-1zM328 41h1v1h-1zM330 41h3v1h-3zM292 42h1v1h-1zM294 42h1v1h-1zM297 42h5v1h-5zM303 42h1v1h-1zM305 42h2v1h-2zM308 42h4v1h-4zM314 42h6v1h-6zM326 42h3v1h-3zM332 42h1v1h-1zM292 43h4v1h-4zM297 43h2v1h-2zM300 43h3v1h-3zM304 43h2v1h-2zM308 43h6v1h-6zM315 43h4v1h-4zM323 43h5v1h-5zM329 43h2v1h-2zM333 43h1v1h-1zM292 44h4v1h-4zM297 44h3v1h-3zM301 44h30v1h-30zM332 44h1v1h-1zM292 45h7v1h-7zM300 45h15v1h-15zM316 45h14v1h-14zM331 45h2v1h-2zM293 46h7v1h-7zM301 46h11v1h-11zM313 46h6v1h-6zM320 46h3v1h-3zM325 46h7v1h-7zM333 46h1v1h-1zM292 47h8v1h-8zM301 47h23v1h-23zM325 47h9v1h-9zM292 48h10v1h-10zM304 48h17v1h-17zM322 48h3v1h-3zM326 48h8v1h-8zM292 49h7v1h-7zM300 49h34v1h-34zM292 50h4v1h-4zM297 50h9v1h-9zM307 50h13v1h-13zM321 50h3v1h-3zM325 50h6v1h-6zM332 50h2v1h-2zM293 51h4v1h-4zM299 51h6v1h-6zM307 51h10v1h-10zM318 51h5v1h-5zM324 51h9v1h-9zM292 52h4v1h-4zM297 52h5v1h-5zM303 52h7v1h-7zM311 52h11v1h-11zM323 52h7v1h-7zM331 52h2v1h-2zM292 53h2v1h-2zM295 53h3v1h-3zM299 53h5v1h-5zM306 53h7v1h-7zM315 53h2v1h-2zM318 53h3v1h-3zM322 53h4v1h-4zM327 53h7v1h-7zM292 54h2v1h-2zM295 54h1v1h-1zM297 54h8v1h-8zM306 54h2v1h-2zM309 54h3v1h-3zM313 54h6v1h-6zM320 54h4v1h-4zM325 54h2v1h-2zM328 54h1v1h-1zM330 54h4v1h-4zM293 55h1v1h-1zM295 55h3v1h-3zM300 55h6v1h-6zM309 55h1v1h-1zM312 55h2v1h-2zM318 55h5v1h-5zM324 55h4v1h-4zM329 55h2v1h-2zM332 55h2v1h-2zM292 56h2v1h-2zM295 56h5v1h-5zM305 56h3v1h-3zM309 56h2v1h-2zM318 56h2v1h-2zM321 56h2v1h-2zM324 56h2v1h-2zM327 56h2v1h-2zM295 57h1v1h-1zM297 57h1v1h-1zM300 57h1v1h-1zM304 57h1v1h-1zM318 57h1v1h-1zM320 57h1v1h-1zM323 57h1v1h-1zM325 57h1v1h-1zM302 58h3v1h-3zM306 58h1v1h-1zM308 58h1v1h-1zM312 58h2v1h-2zM316 58h1v1h-1zM323 58h4v1h-4zM300 59h4v1h-4zM306 59h1v1h-1zM323 59h1v1h-1zM325 59h1v1h-1zM301 60h2v1h-2zM305 60h1v1h-1zM292 61h1v1h-1zM296 61h1v1h-1zM307 61h1v1h-1zM297 62h1v1h-1zM312 62h1v1h-1zM326 62h1v1h-1zM325 64h1v1h-1z"/>
<path fill="#000" fill-opacity="0.9" d="M376 27h1v1h-1zM378 27h1v1h-1zM373 28h1v1h-1zM376 29h1v1h-1zM375 30h2v1h-2zM382 30h1v1h-1zM375 31h2v1h-2zM378 31h1v1h-1zM381 31h2v1h-2zM371 32h1v1h-1zM373 32h7v1h-7zM382 32h1v1h-1zM366 33h1v1h-1zM370 33h1v1h-1zM372 33h2v1h-2zM376 33h1v1h-1zM380 33h1v1h-1zM382 33h1v1h-1zM364 34h1v1h-1zM368 34h1v1h-1zM371 34h3v1h-3zM375 34h1v1h-1zM377 34h2v1h-2zM366 35h1v1h-1zM368 35h6v1h-6zM377 35h2v1h-2zM365 36h3v1h-3zM369 36h1v1h-1zM371 36h4v1h-4zM377 36h1v1h-1zM363 37h2v1h-2zM367 37h4v1h-4zM373 37h2v1h-2zM362 38h3v1h-3zM366 38h8v1h-8zM375 38h1v1h-1zM361 39h1v1h-1zM363 39h1v1h-1zM366 39h1v1h-1zM368 39h4v1h-4zM373 39h3v1h-3zM377 39h2v1h-2zM364 40h9v1h-9zM374 40h1v1h-1zM359 41h4v1h-4zM364 41h5v1h-5zM370 41h4v1h-4zM359 42h2v1h-2zM364 42h9v1h-9zM361 43h8v1h-8zM355 44h1v1h-1zM358 44h1v1h-1zM361 44h2v1h-2zM364 44h2v1h-2zM367 44h3v1h-3zM371 44h1v1h-1zM357 45h1v1h-1zM364 45h1v1h-1zM366 45h4v1h-4zM361 46h1v1h-1zM363 46h1v1h-1zM366 46h1v1h-1zM370 46h1v1h-1zM366 47h1v1h-1zM371 47h1v1h-1zM362 49h1v1h-1zM340 57h1v1h-1zM349 62h1v1h-1z"/>
<path fill="#000" fill-opacity="1.0" d="M355 40h1v1h-1zM357 40h1v1h-1zM359 40h1v1h-1zM361 40h3v1h-3zM351 41h1v1h-1zM363 41h1v1h-1zM369 41h1v1h-1zM357 42h1v1h-1zM361 42h1v1h-1zM363 42h1v1h-1zM356 43h1v1h-1zM358 43h3v1h-3zM348 44h1v1h-1zM350 44h1v1h-1zM352 44h3v1h-3zM356 44h2v1h-2zM359 44h2v1h-2zM363 44h1v1h-1zM366 44h1v1h-1zM345 45h1v1h-1zM347 45h1v1h-1zM351 45h1v1h-1zM353 45h1v1h-1zM355 45h2v1h-2zM358 45h6v1h-6zM365 45h1v1h-1zM347 46h1v1h-1zM349 46h2v1h-2zM352 46h9v1h-9zM362 46h1v1h-1zM364 46h1v1h-1zM367 46h1v1h-1zM369 46h1v1h-1zM346 47h2v1h-2zM352 47h1v1h-1zM354 47h9v1h-9zM364 47h2v1h-2zM367 47h2v1h-2zM347 48h1v1h-1zM350 48h17v1h-17zM368 48h2v1h-2zM347 49h15v1h-15zM363 49h3v1h-3zM369 49h1v1h-1zM343 50h1v1h-1zM346 50h19v1h-19zM366 50h2v1h-2zM344 51h1v1h-1zM346 51h2v1h-2zM349 51h16v1h-16zM366 51h1v1h-1zM369 51h1v1h-1zM343 52h2v1h-2zM347 52h21v1h-21zM369 52h1v1h-1zM344 53h24v1h-24zM342 54h2v1h-2zM345 54h21v1h-21zM345 55h17v1h-17zM363 55h1v1h-1zM365 55h1v1h-1zM343 56h22v1h-22zM366 56h1v1h-1zM369 56h1v1h-1zM347 57h2v1h-2zM350 57h14v1h-14zM367 57h1v1h-1zM343 58h1v1h-1zM346 58h2v1h-2zM349 58h2v1h-2zM352 58h9v1h-9zM362 58h1v1h-1zM348 59h3v1h-3zM353 59h4v1h-4zM358 59h3v1h-3zM363 59h1v1h-1zM365 59h1v1h-1zM367 59h1v1h-1zM337 60h1v1h-1zM344 60h1v1h-1zM346 60h1v1h-1zM348 60h5v1h-5zM356 60h3v1h-3zM361 60h1v1h-1zM344 61h1v1h-1zM346 61h2v1h-2zM351 61h2v1h-2zM354 61h3v1h-3zM342 62h1v1h-1zM350 62h3v1h-3zM356 62h2v1h-2zM360 62h1v1h-1zM354 63h1v1h-1zM357 63h1v1h-1zM347 64h2v1h-2zM351 66h1v1h-1zM347 68h1v1h-1z"/>
</g>
<rect x="291.5" y="14.3" width="101.5" height="101.7" fill="none" stroke="#888" stroke-width="1"/>
<path d="M332.4 14.3V116M291.5 76.9H393" stroke="#000" stroke-width="1.7"/>
<text x="294.4" y="121.2" font-size="4.4" fill="#999" text-anchor="middle" style="stroke:none">10⁰</text>
<text transform="translate(289.3,114.0) rotate(-90)" font-size="4.4" fill="#aaa" text-anchor="middle" style="stroke:none">10⁰</text>
<text x="319.7" y="121.2" font-size="4.4" fill="#999" text-anchor="middle" style="stroke:none">10¹</text>
<text transform="translate(289.3,89.0) rotate(-90)" font-size="4.4" fill="#aaa" text-anchor="middle" style="stroke:none">10¹</text>
<text x="345.0" y="121.2" font-size="4.4" fill="#999" text-anchor="middle" style="stroke:none">10²</text>
<text transform="translate(289.3,64.0) rotate(-90)" font-size="4.4" fill="#aaa" text-anchor="middle" style="stroke:none">10²</text>
<text x="370.3" y="121.2" font-size="4.4" fill="#999" text-anchor="middle" style="stroke:none">10³</text>
<text transform="translate(289.3,39.0) rotate(-90)" font-size="4.4" fill="#aaa" text-anchor="middle" style="stroke:none">10³</text>
<text x="395.6" y="121.2" font-size="4.4" fill="#999" text-anchor="middle" style="stroke:none">10⁴</text>
<text transform="translate(289.3,14.0) rotate(-90)" font-size="4.4" fill="#aaa" text-anchor="middle" style="stroke:none">10⁴</text>
<text x="340.5" y="125.3" font-size="4" fill="#999" text-anchor="middle" style="stroke:none">FL4-H</text>
<text x="326.31" y="10.50" font-size="13.5" font-weight="normal" font-style="italic" textLength="24.81" lengthAdjust="spacingAndGlyphs">Bim</text>
<text x="351.5" y="6.3" font-size="8.5" text-anchor="start" font-weight="normal" font-style="italic" fill="#000" >-/-</text>
<text x="302.29" y="33.50" font-size="14.4" font-weight="normal" font-style="normal" textLength="27.36" lengthAdjust="spacingAndGlyphs">22.0</text>
<text x="361.92" y="33.50" font-size="14.4" font-weight="normal" font-style="normal" textLength="28.00" lengthAdjust="spacingAndGlyphs">57.2</text>
<text x="297.00" y="109.80" font-size="14.4" font-weight="normal" font-style="normal" textLength="28.03" lengthAdjust="spacingAndGlyphs">13.3</text>
<text x="367.68" y="109.80" font-size="14.4" font-weight="normal" font-style="normal" textLength="19.77" lengthAdjust="spacingAndGlyphs">8.0</text>
<g filter="url(#bl)">
<path fill="#000" fill-opacity="0.4" d="M497 18h1v1h-1zM441 22h1v1h-1zM510 27h1v1h-1zM509 35h1v1h-1zM491 44h1v1h-1zM506 54h1v1h-1zM493 56h1v1h-1zM495 58h1v1h-1zM512 64h1v1h-1zM479 66h1v1h-1zM490 86h1v1h-1zM438 93h1v1h-1zM455 97h1v1h-1zM437 98h1v1h-1zM447 105h1v1h-1zM485 105h1v1h-1zM423 110h1v1h-1zM505 110h1v1h-1z"/>
<path fill="#000" fill-opacity="0.5" d="M443 57h1v1h-1zM418 58h1v1h-1zM448 58h1v1h-1zM420 59h1v1h-1zM464 59h1v1h-1zM466 59h1v1h-1zM416 60h1v1h-1zM444 60h1v1h-1zM419 61h1v1h-1zM430 61h2v1h-2zM450 61h1v1h-1zM471 61h1v1h-1zM421 62h1v1h-1zM452 62h1v1h-1zM436 63h1v1h-1zM442 63h1v1h-1zM447 63h1v1h-1zM413 64h1v1h-1zM426 64h1v1h-1zM464 64h1v1h-1zM430 65h1v1h-1zM463 65h1v1h-1zM465 65h2v1h-2zM417 66h1v1h-1zM419 66h1v1h-1zM438 66h1v1h-1zM440 66h1v1h-1zM431 67h1v1h-1zM465 67h1v1h-1zM470 67h1v1h-1zM472 67h1v1h-1zM417 68h1v1h-1zM422 68h1v1h-1zM435 68h1v1h-1zM445 68h1v1h-1zM448 68h1v1h-1zM453 68h1v1h-1zM457 68h1v1h-1zM460 68h2v1h-2zM471 68h1v1h-1zM415 69h1v1h-1zM417 69h1v1h-1zM425 69h1v1h-1zM439 69h1v1h-1zM447 69h1v1h-1zM452 69h1v1h-1zM459 69h1v1h-1zM465 69h2v1h-2zM470 69h1v1h-1zM415 70h1v1h-1zM421 70h1v1h-1zM423 70h1v1h-1zM428 70h1v1h-1zM430 70h3v1h-3zM438 70h2v1h-2zM441 70h1v1h-1zM444 70h1v1h-1zM450 70h1v1h-1zM471 70h1v1h-1zM414 71h1v1h-1zM416 71h1v1h-1zM422 71h1v1h-1zM426 71h2v1h-2zM431 71h1v1h-1zM439 71h1v1h-1zM444 71h1v1h-1zM450 71h1v1h-1zM454 71h1v1h-1zM457 71h1v1h-1zM461 71h2v1h-2zM418 72h1v1h-1zM432 72h1v1h-1zM435 72h1v1h-1zM443 72h1v1h-1zM446 72h1v1h-1zM448 72h1v1h-1zM465 72h1v1h-1zM467 72h2v1h-2zM413 73h1v1h-1zM417 73h1v1h-1zM430 73h1v1h-1zM432 73h1v1h-1zM435 73h1v1h-1zM437 73h1v1h-1zM445 73h2v1h-2zM451 73h1v1h-1zM471 73h2v1h-2zM418 74h2v1h-2zM438 74h1v1h-1zM444 74h1v1h-1zM450 74h1v1h-1zM454 74h1v1h-1zM456 74h1v1h-1zM463 74h1v1h-1zM465 74h1v1h-1zM467 74h1v1h-1zM413 75h1v1h-1zM418 75h1v1h-1zM424 75h1v1h-1zM434 75h1v1h-1zM450 75h2v1h-2zM458 75h2v1h-2zM468 75h2v1h-2zM471 75h1v1h-1zM415 76h1v1h-1zM425 76h1v1h-1zM449 76h1v1h-1zM455 76h2v1h-2zM459 76h1v1h-1zM461 76h2v1h-2zM470 76h1v1h-1zM424 77h1v1h-1zM438 77h1v1h-1zM452 77h2v1h-2zM455 77h3v1h-3zM460 77h5v1h-5zM468 77h1v1h-1zM481 77h2v1h-2zM484 77h1v1h-1zM420 78h1v1h-1zM448 78h1v1h-1zM457 78h1v1h-1zM460 78h2v1h-2zM466 78h1v1h-1zM469 78h1v1h-1zM473 78h1v1h-1zM479 78h1v1h-1zM483 78h1v1h-1zM414 79h1v1h-1zM430 79h1v1h-1zM445 79h2v1h-2zM458 79h1v1h-1zM460 79h1v1h-1zM469 79h1v1h-1zM474 79h1v1h-1zM479 79h1v1h-1zM483 79h1v1h-1zM426 80h1v1h-1zM447 80h1v1h-1zM459 80h5v1h-5zM471 80h1v1h-1zM476 80h1v1h-1zM435 81h1v1h-1zM437 81h1v1h-1zM454 81h1v1h-1zM458 81h1v1h-1zM460 81h2v1h-2zM465 81h1v1h-1zM471 81h2v1h-2zM477 81h1v1h-1zM479 81h1v1h-1zM482 81h1v1h-1zM439 82h2v1h-2zM445 82h1v1h-1zM456 82h1v1h-1zM459 82h2v1h-2zM464 82h1v1h-1zM466 82h3v1h-3zM480 82h2v1h-2zM457 83h1v1h-1zM461 83h1v1h-1zM467 83h1v1h-1zM483 83h1v1h-1zM428 84h1v1h-1zM442 84h1v1h-1zM455 84h1v1h-1zM458 84h1v1h-1zM462 84h3v1h-3zM468 84h1v1h-1zM483 84h1v1h-1zM429 85h1v1h-1zM455 85h1v1h-1zM459 85h1v1h-1zM474 85h1v1h-1zM479 85h1v1h-1zM460 86h1v1h-1zM462 86h1v1h-1zM464 86h2v1h-2zM467 86h2v1h-2zM479 86h3v1h-3zM483 86h1v1h-1zM457 87h3v1h-3zM461 87h2v1h-2zM464 87h2v1h-2zM483 87h2v1h-2zM421 88h1v1h-1zM454 88h1v1h-1zM461 88h1v1h-1zM469 88h1v1h-1zM472 88h1v1h-1zM419 89h1v1h-1zM457 89h1v1h-1zM460 89h1v1h-1zM462 89h1v1h-1zM464 89h2v1h-2zM467 89h1v1h-1zM456 90h1v1h-1zM458 90h1v1h-1zM470 90h1v1h-1zM456 91h2v1h-2zM464 91h3v1h-3zM469 91h1v1h-1zM484 91h1v1h-1zM454 92h1v1h-1zM462 92h1v1h-1zM477 92h1v1h-1zM440 93h1v1h-1zM454 93h1v1h-1zM456 93h1v1h-1zM460 93h1v1h-1zM462 93h2v1h-2zM453 94h1v1h-1zM462 94h1v1h-1zM467 94h1v1h-1zM470 94h1v1h-1zM463 95h1v1h-1zM465 95h1v1h-1zM468 95h1v1h-1zM476 95h1v1h-1zM464 96h1v1h-1zM472 96h1v1h-1zM483 96h1v1h-1zM463 97h1v1h-1zM467 97h1v1h-1zM470 97h1v1h-1zM472 97h1v1h-1zM479 97h1v1h-1zM459 98h1v1h-1zM484 98h1v1h-1zM453 99h1v1h-1zM466 99h2v1h-2zM456 100h2v1h-2zM461 100h1v1h-1zM465 100h1v1h-1zM468 100h1v1h-1zM472 100h1v1h-1zM479 100h1v1h-1zM481 100h1v1h-1zM459 101h2v1h-2zM462 101h1v1h-1zM465 101h1v1h-1zM477 101h1v1h-1zM454 102h1v1h-1zM458 102h1v1h-1zM460 102h1v1h-1zM462 102h1v1h-1zM465 102h2v1h-2zM475 102h1v1h-1zM455 103h2v1h-2zM459 103h1v1h-1zM461 103h2v1h-2zM474 103h1v1h-1zM483 103h1v1h-1zM456 104h1v1h-1zM465 104h1v1h-1zM467 104h1v1h-1zM456 105h1v1h-1zM463 105h2v1h-2zM467 105h1v1h-1zM473 105h1v1h-1zM475 105h3v1h-3zM480 105h2v1h-2zM453 106h2v1h-2zM462 106h2v1h-2zM468 106h1v1h-1zM477 106h1v1h-1zM454 107h1v1h-1zM456 107h1v1h-1zM465 107h1v1h-1zM470 107h1v1h-1zM476 107h1v1h-1zM482 107h1v1h-1zM460 108h1v1h-1zM464 108h1v1h-1zM483 108h1v1h-1zM459 109h1v1h-1zM468 109h1v1h-1zM470 109h1v1h-1zM475 109h1v1h-1zM480 109h1v1h-1zM460 110h1v1h-1zM467 110h2v1h-2zM470 110h1v1h-1zM474 110h2v1h-2zM477 110h1v1h-1zM483 110h1v1h-1zM462 111h1v1h-1zM466 111h2v1h-2zM482 111h1v1h-1zM484 111h1v1h-1zM457 112h1v1h-1zM461 112h2v1h-2zM477 112h1v1h-1zM481 112h1v1h-1zM453 113h1v1h-1zM456 113h2v1h-2zM459 113h1v1h-1zM461 113h1v1h-1zM464 113h1v1h-1zM468 113h1v1h-1zM471 113h1v1h-1zM480 113h1v1h-1zM454 114h1v1h-1zM458 114h1v1h-1zM465 114h1v1h-1zM474 114h2v1h-2zM484 114h1v1h-1z"/>
<path fill="#000" fill-opacity="0.55" d="M492 29h1v1h-1zM435 31h1v1h-1zM474 31h1v1h-1zM422 33h1v1h-1zM448 33h1v1h-1zM455 33h2v1h-2zM441 35h1v1h-1zM448 35h1v1h-1zM427 36h1v1h-1zM464 36h1v1h-1zM470 36h1v1h-1zM429 37h1v1h-1zM455 37h1v1h-1zM458 37h1v1h-1zM415 38h1v1h-1zM432 38h1v1h-1zM442 38h1v1h-1zM446 39h1v1h-1zM457 39h1v1h-1zM468 39h2v1h-2zM454 40h1v1h-1zM472 40h1v1h-1zM474 40h1v1h-1zM493 40h1v1h-1zM425 41h1v1h-1zM434 41h1v1h-1zM455 41h1v1h-1zM426 42h1v1h-1zM440 42h1v1h-1zM451 42h1v1h-1zM457 42h1v1h-1zM457 43h3v1h-3zM462 43h1v1h-1zM470 43h1v1h-1zM474 43h1v1h-1zM442 44h1v1h-1zM451 44h1v1h-1zM460 44h1v1h-1zM462 44h1v1h-1zM466 44h1v1h-1zM425 45h1v1h-1zM433 45h1v1h-1zM456 45h1v1h-1zM460 45h1v1h-1zM464 45h1v1h-1zM468 45h1v1h-1zM434 46h1v1h-1zM444 46h1v1h-1zM456 46h1v1h-1zM458 46h1v1h-1zM460 46h1v1h-1zM462 46h1v1h-1zM464 46h1v1h-1zM469 46h1v1h-1zM428 47h1v1h-1zM448 47h1v1h-1zM457 47h2v1h-2zM461 47h3v1h-3zM454 48h7v1h-7zM462 48h2v1h-2zM469 48h1v1h-1zM440 49h1v1h-1zM450 49h1v1h-1zM454 49h5v1h-5zM461 49h2v1h-2zM492 49h1v1h-1zM456 50h2v1h-2zM464 50h1v1h-1zM485 50h1v1h-1zM456 51h3v1h-3zM460 51h1v1h-1zM494 51h1v1h-1zM417 52h1v1h-1zM425 52h2v1h-2zM432 52h1v1h-1zM452 52h1v1h-1zM455 52h1v1h-1zM457 52h3v1h-3zM461 52h1v1h-1zM463 52h1v1h-1zM413 53h1v1h-1zM427 53h1v1h-1zM431 53h1v1h-1zM437 53h1v1h-1zM440 53h1v1h-1zM450 53h1v1h-1zM455 53h3v1h-3zM460 53h2v1h-2zM465 53h1v1h-1zM485 53h2v1h-2zM500 53h1v1h-1zM418 54h1v1h-1zM421 54h1v1h-1zM429 54h1v1h-1zM437 54h1v1h-1zM439 54h2v1h-2zM446 54h1v1h-1zM455 54h3v1h-3zM459 54h1v1h-1zM461 54h1v1h-1zM465 54h1v1h-1zM482 54h1v1h-1zM484 54h2v1h-2zM487 54h1v1h-1zM491 54h2v1h-2zM413 55h1v1h-1zM415 55h1v1h-1zM423 55h1v1h-1zM425 55h1v1h-1zM427 55h1v1h-1zM436 55h1v1h-1zM443 55h1v1h-1zM446 55h1v1h-1zM449 55h1v1h-1zM455 55h6v1h-6zM462 55h2v1h-2zM413 56h1v1h-1zM426 56h1v1h-1zM433 56h1v1h-1zM440 56h1v1h-1zM447 56h2v1h-2zM450 56h1v1h-1zM454 56h1v1h-1zM456 56h5v1h-5zM462 56h1v1h-1zM483 56h1v1h-1zM485 56h1v1h-1zM488 56h1v1h-1zM415 57h2v1h-2zM422 57h1v1h-1zM428 57h1v1h-1zM432 57h1v1h-1zM435 57h2v1h-2zM439 57h4v1h-4zM446 57h1v1h-1zM448 57h3v1h-3zM452 57h4v1h-4zM457 57h1v1h-1zM459 57h3v1h-3zM469 57h1v1h-1zM482 57h1v1h-1zM484 57h1v1h-1zM492 57h1v1h-1zM419 58h2v1h-2zM427 58h2v1h-2zM430 58h3v1h-3zM435 58h2v1h-2zM438 58h2v1h-2zM445 58h1v1h-1zM447 58h1v1h-1zM450 58h1v1h-1zM455 58h4v1h-4zM461 58h3v1h-3zM475 58h1v1h-1zM481 58h2v1h-2zM413 59h2v1h-2zM417 59h3v1h-3zM421 59h2v1h-2zM425 59h1v1h-1zM428 59h4v1h-4zM433 59h1v1h-1zM436 59h1v1h-1zM438 59h1v1h-1zM441 59h2v1h-2zM444 59h2v1h-2zM447 59h1v1h-1zM450 59h1v1h-1zM452 59h1v1h-1zM454 59h7v1h-7zM463 59h1v1h-1zM473 59h1v1h-1zM479 59h1v1h-1zM482 59h3v1h-3zM413 60h1v1h-1zM417 60h2v1h-2zM420 60h2v1h-2zM426 60h1v1h-1zM428 60h1v1h-1zM431 60h5v1h-5zM437 60h2v1h-2zM440 60h1v1h-1zM442 60h1v1h-1zM445 60h3v1h-3zM449 60h11v1h-11zM461 60h4v1h-4zM466 60h1v1h-1zM480 60h1v1h-1zM484 60h1v1h-1zM413 61h1v1h-1zM417 61h1v1h-1zM420 61h2v1h-2zM424 61h4v1h-4zM432 61h3v1h-3zM436 61h1v1h-1zM438 61h2v1h-2zM443 61h3v1h-3zM447 61h3v1h-3zM451 61h3v1h-3zM455 61h5v1h-5zM462 61h1v1h-1zM465 61h1v1h-1zM468 61h1v1h-1zM475 61h1v1h-1zM480 61h2v1h-2zM487 61h1v1h-1zM413 62h8v1h-8zM423 62h1v1h-1zM425 62h3v1h-3zM429 62h8v1h-8zM438 62h3v1h-3zM443 62h9v1h-9zM453 62h1v1h-1zM455 62h10v1h-10zM468 62h1v1h-1zM470 62h2v1h-2zM473 62h1v1h-1zM479 62h2v1h-2zM413 63h1v1h-1zM416 63h1v1h-1zM421 63h1v1h-1zM423 63h13v1h-13zM438 63h2v1h-2zM441 63h1v1h-1zM443 63h4v1h-4zM448 63h15v1h-15zM464 63h2v1h-2zM467 63h1v1h-1zM473 63h1v1h-1zM475 63h1v1h-1zM478 63h1v1h-1zM484 63h1v1h-1zM414 64h6v1h-6zM421 64h5v1h-5zM427 64h1v1h-1zM429 64h6v1h-6zM436 64h1v1h-1zM438 64h3v1h-3zM442 64h16v1h-16zM459 64h1v1h-1zM461 64h3v1h-3zM465 64h1v1h-1zM468 64h2v1h-2zM471 64h3v1h-3zM475 64h2v1h-2zM478 64h2v1h-2zM415 65h1v1h-1zM417 65h1v1h-1zM419 65h2v1h-2zM422 65h1v1h-1zM424 65h6v1h-6zM431 65h1v1h-1zM433 65h1v1h-1zM435 65h3v1h-3zM439 65h1v1h-1zM441 65h7v1h-7zM449 65h1v1h-1zM451 65h4v1h-4zM456 65h7v1h-7zM464 65h1v1h-1zM468 65h1v1h-1zM470 65h3v1h-3zM495 65h1v1h-1zM413 66h4v1h-4zM420 66h1v1h-1zM422 66h2v1h-2zM425 66h3v1h-3zM429 66h1v1h-1zM432 66h4v1h-4zM437 66h1v1h-1zM439 66h1v1h-1zM441 66h2v1h-2zM444 66h15v1h-15zM462 66h8v1h-8zM473 66h2v1h-2zM477 66h2v1h-2zM482 66h1v1h-1zM484 66h1v1h-1zM490 66h1v1h-1zM413 67h3v1h-3zM417 67h1v1h-1zM419 67h1v1h-1zM421 67h4v1h-4zM426 67h5v1h-5zM432 67h2v1h-2zM435 67h6v1h-6zM442 67h1v1h-1zM444 67h2v1h-2zM447 67h11v1h-11zM459 67h4v1h-4zM464 67h1v1h-1zM466 67h1v1h-1zM469 67h1v1h-1zM471 67h1v1h-1zM478 67h1v1h-1zM414 68h3v1h-3zM418 68h1v1h-1zM420 68h2v1h-2zM424 68h3v1h-3zM429 68h4v1h-4zM437 68h8v1h-8zM446 68h2v1h-2zM449 68h4v1h-4zM454 68h3v1h-3zM458 68h1v1h-1zM462 68h4v1h-4zM468 68h3v1h-3zM474 68h1v1h-1zM478 68h1v1h-1zM482 68h1v1h-1zM489 68h1v1h-1zM413 69h1v1h-1zM418 69h1v1h-1zM422 69h3v1h-3zM427 69h1v1h-1zM429 69h2v1h-2zM433 69h2v1h-2zM437 69h2v1h-2zM440 69h1v1h-1zM443 69h4v1h-4zM448 69h4v1h-4zM453 69h6v1h-6zM460 69h3v1h-3zM468 69h2v1h-2zM471 69h2v1h-2zM477 69h1v1h-1zM479 69h2v1h-2zM417 70h4v1h-4zM422 70h1v1h-1zM424 70h4v1h-4zM429 70h1v1h-1zM433 70h1v1h-1zM435 70h3v1h-3zM440 70h1v1h-1zM442 70h2v1h-2zM445 70h1v1h-1zM449 70h1v1h-1zM451 70h1v1h-1zM453 70h9v1h-9zM463 70h3v1h-3zM467 70h1v1h-1zM472 70h4v1h-4zM490 70h1v1h-1zM413 71h1v1h-1zM415 71h1v1h-1zM417 71h5v1h-5zM423 71h3v1h-3zM428 71h2v1h-2zM432 71h2v1h-2zM435 71h4v1h-4zM440 71h1v1h-1zM442 71h2v1h-2zM445 71h5v1h-5zM451 71h1v1h-1zM453 71h1v1h-1zM455 71h1v1h-1zM458 71h3v1h-3zM464 71h2v1h-2zM469 71h3v1h-3zM474 71h1v1h-1zM476 71h1v1h-1zM482 71h1v1h-1zM485 71h1v1h-1zM487 71h1v1h-1zM419 72h4v1h-4zM424 72h3v1h-3zM429 72h1v1h-1zM431 72h1v1h-1zM433 72h1v1h-1zM436 72h1v1h-1zM442 72h1v1h-1zM444 72h2v1h-2zM447 72h1v1h-1zM449 72h1v1h-1zM452 72h2v1h-2zM460 72h1v1h-1zM462 72h1v1h-1zM464 72h1v1h-1zM466 72h1v1h-1zM469 72h5v1h-5zM479 72h2v1h-2zM486 72h2v1h-2zM414 73h3v1h-3zM418 73h1v1h-1zM421 73h1v1h-1zM424 73h3v1h-3zM428 73h1v1h-1zM433 73h2v1h-2zM436 73h1v1h-1zM438 73h1v1h-1zM440 73h5v1h-5zM447 73h3v1h-3zM454 73h2v1h-2zM457 73h3v1h-3zM464 73h1v1h-1zM468 73h3v1h-3zM479 73h1v1h-1zM413 74h2v1h-2zM416 74h1v1h-1zM421 74h1v1h-1zM423 74h6v1h-6zM431 74h2v1h-2zM440 74h2v1h-2zM443 74h1v1h-1zM446 74h3v1h-3zM451 74h1v1h-1zM453 74h1v1h-1zM457 74h3v1h-3zM477 74h1v1h-1zM480 74h1v1h-1zM414 75h1v1h-1zM416 75h1v1h-1zM419 75h1v1h-1zM421 75h2v1h-2zM425 75h2v1h-2zM428 75h1v1h-1zM431 75h1v1h-1zM436 75h3v1h-3zM441 75h2v1h-2zM444 75h1v1h-1zM446 75h2v1h-2zM449 75h1v1h-1zM452 75h2v1h-2zM456 75h2v1h-2zM470 75h1v1h-1zM472 75h1v1h-1zM474 75h1v1h-1zM476 75h1v1h-1zM414 76h1v1h-1zM417 76h1v1h-1zM419 76h2v1h-2zM424 76h1v1h-1zM427 76h3v1h-3zM432 76h2v1h-2zM436 76h2v1h-2zM439 76h1v1h-1zM442 76h3v1h-3zM447 76h1v1h-1zM451 76h2v1h-2zM454 76h1v1h-1zM463 76h3v1h-3zM468 76h1v1h-1zM471 76h1v1h-1zM481 76h1v1h-1zM413 77h2v1h-2zM417 77h2v1h-2zM420 77h1v1h-1zM422 77h1v1h-1zM425 77h2v1h-2zM428 77h2v1h-2zM432 77h2v1h-2zM437 77h1v1h-1zM440 77h5v1h-5zM448 77h1v1h-1zM450 77h2v1h-2zM466 77h1v1h-1zM475 77h1v1h-1zM477 77h1v1h-1zM480 77h1v1h-1zM413 78h2v1h-2zM417 78h3v1h-3zM423 78h3v1h-3zM428 78h5v1h-5zM434 78h2v1h-2zM438 78h1v1h-1zM440 78h1v1h-1zM442 78h1v1h-1zM445 78h1v1h-1zM447 78h1v1h-1zM451 78h1v1h-1zM453 78h4v1h-4zM467 78h1v1h-1zM470 78h1v1h-1zM491 78h1v1h-1zM416 79h3v1h-3zM421 79h1v1h-1zM424 79h3v1h-3zM431 79h3v1h-3zM435 79h2v1h-2zM440 79h2v1h-2zM443 79h2v1h-2zM447 79h6v1h-6zM462 79h1v1h-1zM465 79h1v1h-1zM472 79h1v1h-1zM488 79h1v1h-1zM413 80h3v1h-3zM419 80h1v1h-1zM421 80h1v1h-1zM424 80h1v1h-1zM427 80h1v1h-1zM430 80h2v1h-2zM434 80h2v1h-2zM437 80h10v1h-10zM448 80h3v1h-3zM452 80h1v1h-1zM454 80h1v1h-1zM458 80h1v1h-1zM415 81h1v1h-1zM417 81h3v1h-3zM421 81h1v1h-1zM424 81h1v1h-1zM427 81h2v1h-2zM430 81h5v1h-5zM436 81h1v1h-1zM440 81h3v1h-3zM445 81h2v1h-2zM449 81h4v1h-4zM457 81h1v1h-1zM462 81h1v1h-1zM413 82h2v1h-2zM416 82h1v1h-1zM418 82h1v1h-1zM422 82h5v1h-5zM428 82h1v1h-1zM431 82h1v1h-1zM433 82h2v1h-2zM436 82h3v1h-3zM441 82h3v1h-3zM446 82h1v1h-1zM448 82h1v1h-1zM450 82h1v1h-1zM457 82h1v1h-1zM463 82h1v1h-1zM413 83h2v1h-2zM418 83h3v1h-3zM422 83h1v1h-1zM424 83h1v1h-1zM426 83h1v1h-1zM429 83h1v1h-1zM431 83h2v1h-2zM434 83h1v1h-1zM436 83h3v1h-3zM441 83h4v1h-4zM446 83h3v1h-3zM450 83h2v1h-2zM488 83h1v1h-1zM414 84h3v1h-3zM419 84h1v1h-1zM421 84h1v1h-1zM423 84h5v1h-5zM429 84h1v1h-1zM431 84h1v1h-1zM436 84h1v1h-1zM438 84h2v1h-2zM444 84h2v1h-2zM447 84h1v1h-1zM450 84h3v1h-3zM465 84h1v1h-1zM413 85h5v1h-5zM419 85h1v1h-1zM421 85h1v1h-1zM423 85h5v1h-5zM431 85h2v1h-2zM434 85h1v1h-1zM438 85h1v1h-1zM440 85h1v1h-1zM444 85h3v1h-3zM448 85h5v1h-5zM454 85h1v1h-1zM413 86h1v1h-1zM415 86h1v1h-1zM417 86h1v1h-1zM419 86h1v1h-1zM421 86h1v1h-1zM424 86h3v1h-3zM429 86h4v1h-4zM436 86h2v1h-2zM439 86h1v1h-1zM441 86h2v1h-2zM445 86h1v1h-1zM447 86h2v1h-2zM450 86h2v1h-2zM413 87h1v1h-1zM418 87h1v1h-1zM420 87h1v1h-1zM423 87h1v1h-1zM428 87h4v1h-4zM433 87h4v1h-4zM438 87h1v1h-1zM440 87h1v1h-1zM443 87h2v1h-2zM446 87h1v1h-1zM448 87h1v1h-1zM455 87h1v1h-1zM415 88h1v1h-1zM417 88h3v1h-3zM424 88h1v1h-1zM427 88h2v1h-2zM431 88h1v1h-1zM433 88h1v1h-1zM435 88h1v1h-1zM437 88h7v1h-7zM445 88h2v1h-2zM413 89h1v1h-1zM415 89h1v1h-1zM418 89h1v1h-1zM422 89h2v1h-2zM426 89h1v1h-1zM431 89h2v1h-2zM435 89h3v1h-3zM441 89h3v1h-3zM448 89h1v1h-1zM451 89h2v1h-2zM416 90h3v1h-3zM423 90h2v1h-2zM430 90h4v1h-4zM438 90h2v1h-2zM444 90h1v1h-1zM413 91h3v1h-3zM418 91h1v1h-1zM421 91h1v1h-1zM424 91h3v1h-3zM428 91h1v1h-1zM434 91h2v1h-2zM444 91h1v1h-1zM446 91h1v1h-1zM449 91h1v1h-1zM415 92h1v1h-1zM420 92h1v1h-1zM422 92h2v1h-2zM427 92h2v1h-2zM437 92h4v1h-4zM443 92h1v1h-1zM446 92h2v1h-2zM450 92h1v1h-1zM414 93h2v1h-2zM423 93h1v1h-1zM425 93h2v1h-2zM433 93h1v1h-1zM436 93h1v1h-1zM443 93h1v1h-1zM445 93h2v1h-2zM448 93h2v1h-2zM413 94h2v1h-2zM418 94h1v1h-1zM421 94h1v1h-1zM423 94h1v1h-1zM437 94h1v1h-1zM442 94h1v1h-1zM415 95h1v1h-1zM422 95h1v1h-1zM426 95h1v1h-1zM428 95h2v1h-2zM432 95h3v1h-3zM444 95h1v1h-1zM446 95h1v1h-1zM450 95h1v1h-1zM415 96h1v1h-1zM424 96h2v1h-2zM428 96h2v1h-2zM433 96h5v1h-5zM442 96h1v1h-1zM449 96h1v1h-1zM436 97h1v1h-1zM438 97h1v1h-1zM445 97h1v1h-1zM451 97h1v1h-1zM417 98h1v1h-1zM419 98h1v1h-1zM422 98h1v1h-1zM426 98h2v1h-2zM433 98h1v1h-1zM436 98h1v1h-1zM451 98h1v1h-1zM414 99h2v1h-2zM418 99h3v1h-3zM423 99h1v1h-1zM425 99h1v1h-1zM427 99h1v1h-1zM429 99h1v1h-1zM439 99h2v1h-2zM443 99h1v1h-1zM451 99h2v1h-2zM414 100h1v1h-1zM421 100h3v1h-3zM428 100h3v1h-3zM432 100h1v1h-1zM438 100h2v1h-2zM442 100h1v1h-1zM447 100h1v1h-1zM413 101h3v1h-3zM418 101h1v1h-1zM424 101h1v1h-1zM434 101h1v1h-1zM438 101h1v1h-1zM443 101h1v1h-1zM446 101h2v1h-2zM451 101h1v1h-1zM417 102h1v1h-1zM425 102h1v1h-1zM427 102h1v1h-1zM433 102h1v1h-1zM436 102h1v1h-1zM441 102h1v1h-1zM445 102h1v1h-1zM413 103h2v1h-2zM428 103h1v1h-1zM431 103h1v1h-1zM433 103h1v1h-1zM435 103h1v1h-1zM440 103h1v1h-1zM444 103h2v1h-2zM450 103h2v1h-2zM419 104h1v1h-1zM424 104h1v1h-1zM428 104h1v1h-1zM432 104h1v1h-1zM441 104h1v1h-1zM450 104h1v1h-1zM414 105h2v1h-2zM418 105h1v1h-1zM424 105h3v1h-3zM433 105h1v1h-1zM442 105h1v1h-1zM446 105h1v1h-1zM414 106h1v1h-1zM417 106h1v1h-1zM420 106h1v1h-1zM424 106h1v1h-1zM426 106h2v1h-2zM429 106h1v1h-1zM432 106h1v1h-1zM436 106h1v1h-1zM438 106h1v1h-1zM440 106h1v1h-1zM446 106h1v1h-1zM450 106h2v1h-2zM413 107h1v1h-1zM417 107h2v1h-2zM422 107h1v1h-1zM424 107h1v1h-1zM427 107h1v1h-1zM432 107h1v1h-1zM435 107h1v1h-1zM437 107h2v1h-2zM440 107h1v1h-1zM448 107h1v1h-1zM416 108h1v1h-1zM421 108h2v1h-2zM425 108h1v1h-1zM433 108h2v1h-2zM443 108h1v1h-1zM446 108h1v1h-1zM448 108h1v1h-1zM451 108h1v1h-1zM426 109h1v1h-1zM428 109h1v1h-1zM431 109h1v1h-1zM433 109h1v1h-1zM435 109h1v1h-1zM440 109h1v1h-1zM445 109h2v1h-2zM449 109h2v1h-2zM430 110h2v1h-2zM435 110h1v1h-1zM437 110h1v1h-1zM439 110h1v1h-1zM442 110h1v1h-1zM446 110h2v1h-2zM451 110h2v1h-2zM416 111h1v1h-1zM421 111h1v1h-1zM423 111h2v1h-2zM427 111h1v1h-1zM429 111h2v1h-2zM434 111h2v1h-2zM437 111h1v1h-1zM445 111h1v1h-1zM450 111h1v1h-1zM413 112h1v1h-1zM417 112h1v1h-1zM419 112h1v1h-1zM424 112h1v1h-1zM426 112h1v1h-1zM428 112h2v1h-2zM431 112h2v1h-2zM435 112h1v1h-1zM439 112h1v1h-1zM442 112h1v1h-1zM446 112h1v1h-1zM448 112h1v1h-1zM451 112h1v1h-1zM414 113h1v1h-1zM417 113h1v1h-1zM432 113h1v1h-1zM434 113h1v1h-1zM438 113h1v1h-1zM444 113h2v1h-2zM418 114h1v1h-1zM425 114h1v1h-1zM431 114h1v1h-1zM437 114h1v1h-1zM444 114h1v1h-1zM452 114h1v1h-1z"/>
<path fill="#000" fill-opacity="0.7" d="M476 78h1v1h-1zM481 79h1v1h-1zM478 80h2v1h-2zM474 81h1v1h-1zM478 81h1v1h-1zM472 82h2v1h-2zM477 82h1v1h-1zM474 83h3v1h-3zM479 83h1v1h-1zM481 83h1v1h-1zM473 84h4v1h-4zM478 84h1v1h-1zM480 84h1v1h-1zM482 84h1v1h-1zM475 85h4v1h-4zM482 85h2v1h-2zM470 86h1v1h-1zM475 86h2v1h-2zM478 86h1v1h-1zM482 86h1v1h-1zM473 87h7v1h-7zM481 87h1v1h-1zM471 88h1v1h-1zM473 88h9v1h-9zM472 89h1v1h-1zM474 89h6v1h-6zM471 90h11v1h-11zM468 91h1v1h-1zM472 91h9v1h-9zM482 91h2v1h-2zM472 92h2v1h-2zM475 92h2v1h-2zM478 92h1v1h-1zM480 92h1v1h-1zM482 92h1v1h-1zM471 93h1v1h-1zM473 93h6v1h-6zM481 93h1v1h-1zM475 94h5v1h-5zM481 94h1v1h-1zM472 95h4v1h-4zM477 95h4v1h-4zM482 95h1v1h-1zM473 96h10v1h-10zM471 97h1v1h-1zM474 97h5v1h-5zM480 97h1v1h-1zM482 97h1v1h-1zM484 97h1v1h-1zM472 98h1v1h-1zM474 98h3v1h-3zM481 98h1v1h-1zM471 99h4v1h-4zM476 99h2v1h-2zM481 99h1v1h-1zM473 100h1v1h-1zM475 100h4v1h-4zM480 100h1v1h-1zM484 100h1v1h-1zM471 101h1v1h-1zM473 101h1v1h-1zM476 101h1v1h-1zM479 101h1v1h-1zM483 101h1v1h-1zM474 102h1v1h-1zM478 102h1v1h-1zM476 103h2v1h-2zM474 104h1v1h-1zM477 104h1v1h-1zM474 105h1v1h-1zM478 105h1v1h-1zM474 106h1v1h-1z"/>
<path fill="#000" fill-opacity="0.8" d="M452 31h1v1h-1zM450 33h1v1h-1zM418 34h1v1h-1zM447 34h1v1h-1zM421 35h1v1h-1zM422 36h1v1h-1zM428 36h1v1h-1zM415 37h1v1h-1zM418 37h1v1h-1zM422 37h1v1h-1zM424 37h1v1h-1zM426 37h1v1h-1zM432 37h1v1h-1zM435 37h1v1h-1zM437 37h1v1h-1zM440 37h1v1h-1zM446 37h1v1h-1zM449 37h1v1h-1zM451 37h1v1h-1zM453 37h1v1h-1zM413 38h1v1h-1zM419 38h2v1h-2zM439 38h1v1h-1zM445 38h2v1h-2zM450 38h1v1h-1zM414 39h1v1h-1zM417 39h3v1h-3zM423 39h2v1h-2zM428 39h3v1h-3zM432 39h2v1h-2zM435 39h2v1h-2zM442 39h1v1h-1zM444 39h2v1h-2zM447 39h1v1h-1zM452 39h1v1h-1zM413 40h1v1h-1zM417 40h1v1h-1zM420 40h1v1h-1zM422 40h2v1h-2zM425 40h1v1h-1zM427 40h2v1h-2zM432 40h1v1h-1zM436 40h3v1h-3zM446 40h2v1h-2zM449 40h1v1h-1zM413 41h2v1h-2zM416 41h1v1h-1zM418 41h3v1h-3zM422 41h2v1h-2zM427 41h3v1h-3zM432 41h2v1h-2zM436 41h3v1h-3zM440 41h1v1h-1zM442 41h1v1h-1zM444 41h1v1h-1zM446 41h2v1h-2zM449 41h6v1h-6zM415 42h2v1h-2zM418 42h3v1h-3zM422 42h3v1h-3zM427 42h1v1h-1zM429 42h3v1h-3zM435 42h1v1h-1zM437 42h1v1h-1zM439 42h1v1h-1zM441 42h1v1h-1zM443 42h1v1h-1zM446 42h5v1h-5zM452 42h2v1h-2zM413 43h2v1h-2zM416 43h4v1h-4zM421 43h1v1h-1zM424 43h6v1h-6zM431 43h6v1h-6zM438 43h2v1h-2zM441 43h7v1h-7zM449 43h4v1h-4zM413 44h2v1h-2zM416 44h6v1h-6zM423 44h5v1h-5zM429 44h1v1h-1zM431 44h6v1h-6zM438 44h1v1h-1zM440 44h2v1h-2zM443 44h8v1h-8zM452 44h3v1h-3zM413 45h1v1h-1zM415 45h5v1h-5zM422 45h3v1h-3zM426 45h6v1h-6zM434 45h4v1h-4zM439 45h1v1h-1zM441 45h11v1h-11zM453 45h2v1h-2zM413 46h16v1h-16zM430 46h4v1h-4zM435 46h3v1h-3zM439 46h5v1h-5zM445 46h6v1h-6zM452 46h3v1h-3zM413 47h15v1h-15zM429 47h5v1h-5zM436 47h10v1h-10zM447 47h1v1h-1zM449 47h6v1h-6zM413 48h8v1h-8zM423 48h6v1h-6zM430 48h24v1h-24zM413 49h4v1h-4zM419 49h18v1h-18zM438 49h2v1h-2zM442 49h8v1h-8zM451 49h1v1h-1zM453 49h1v1h-1zM413 50h7v1h-7zM421 50h34v1h-34zM413 51h5v1h-5zM419 51h36v1h-36zM413 52h4v1h-4zM418 52h7v1h-7zM427 52h5v1h-5zM433 52h19v1h-19zM453 52h2v1h-2zM414 53h13v1h-13zM428 53h3v1h-3zM432 53h5v1h-5zM439 53h1v1h-1zM441 53h9v1h-9zM451 53h4v1h-4zM413 54h2v1h-2zM416 54h2v1h-2zM419 54h2v1h-2zM422 54h7v1h-7zM431 54h6v1h-6zM438 54h1v1h-1zM441 54h5v1h-5zM447 54h5v1h-5zM454 54h1v1h-1zM414 55h1v1h-1zM416 55h7v1h-7zM424 55h1v1h-1zM426 55h1v1h-1zM428 55h8v1h-8zM437 55h1v1h-1zM439 55h4v1h-4zM444 55h2v1h-2zM447 55h2v1h-2zM450 55h2v1h-2zM453 55h2v1h-2zM416 56h5v1h-5zM422 56h4v1h-4zM427 56h2v1h-2zM431 56h2v1h-2zM434 56h6v1h-6zM441 56h6v1h-6zM449 56h1v1h-1zM451 56h3v1h-3zM413 57h2v1h-2zM417 57h3v1h-3zM421 57h1v1h-1zM423 57h5v1h-5zM429 57h3v1h-3zM433 57h2v1h-2zM437 57h1v1h-1zM444 57h2v1h-2zM447 57h1v1h-1zM451 57h1v1h-1zM413 58h1v1h-1zM415 58h3v1h-3zM421 58h6v1h-6zM433 58h1v1h-1zM437 58h1v1h-1zM440 58h3v1h-3zM444 58h1v1h-1zM446 58h1v1h-1zM449 58h1v1h-1zM452 58h3v1h-3zM426 59h2v1h-2zM434 59h2v1h-2zM439 59h2v1h-2zM443 59h1v1h-1zM446 59h1v1h-1zM451 59h1v1h-1zM453 59h1v1h-1zM414 60h2v1h-2zM419 60h1v1h-1zM424 60h2v1h-2zM427 60h1v1h-1zM430 60h1v1h-1zM439 60h1v1h-1zM448 60h1v1h-1zM422 61h1v1h-1zM429 61h1v1h-1zM441 61h1v1h-1zM446 61h1v1h-1zM428 62h1v1h-1zM441 62h1v1h-1zM454 62h1v1h-1zM437 63h1v1h-1zM441 64h1v1h-1z"/>
<path fill="#000" fill-opacity="0.9" d="M498 23h1v1h-1zM495 28h1v1h-1zM497 28h1v1h-1zM499 28h1v1h-1zM490 29h1v1h-1zM493 29h2v1h-2zM496 29h1v1h-1zM493 30h1v1h-1zM495 30h2v1h-2zM502 30h1v1h-1zM491 31h2v1h-2zM494 31h1v1h-1zM487 32h2v1h-2zM490 32h1v1h-1zM497 32h1v1h-1zM499 32h1v1h-1zM485 33h2v1h-2zM488 33h2v1h-2zM491 33h1v1h-1zM493 33h1v1h-1zM487 34h3v1h-3zM494 34h2v1h-2zM497 34h1v1h-1zM482 35h1v1h-1zM484 35h1v1h-1zM486 35h2v1h-2zM489 35h1v1h-1zM491 35h1v1h-1zM493 35h3v1h-3zM497 35h1v1h-1zM486 36h7v1h-7zM480 37h1v1h-1zM482 37h1v1h-1zM484 37h12v1h-12zM479 38h1v1h-1zM482 38h1v1h-1zM485 38h9v1h-9zM495 38h1v1h-1zM481 39h6v1h-6zM488 39h1v1h-1zM490 39h4v1h-4zM479 40h2v1h-2zM482 40h7v1h-7zM477 41h1v1h-1zM479 41h2v1h-2zM482 41h8v1h-8zM480 42h1v1h-1zM482 42h8v1h-8zM492 42h1v1h-1zM479 43h1v1h-1zM485 43h2v1h-2zM488 43h1v1h-1zM481 44h1v1h-1zM483 44h3v1h-3zM487 44h3v1h-3zM484 45h1v1h-1zM487 45h2v1h-2zM484 46h1v1h-1zM488 46h2v1h-2zM480 47h1v1h-1zM483 49h1v1h-1zM485 51h1v1h-1z"/>
<path fill="#000" fill-opacity="1.0" d="M478 38h1v1h-1zM475 40h1v1h-1zM481 40h1v1h-1zM473 41h1v1h-1zM478 41h1v1h-1zM469 42h4v1h-4zM475 42h1v1h-1zM478 42h2v1h-2zM481 42h1v1h-1zM467 43h1v1h-1zM469 43h1v1h-1zM473 43h1v1h-1zM475 43h4v1h-4zM480 43h5v1h-5zM468 44h5v1h-5zM474 44h7v1h-7zM482 44h1v1h-1zM486 44h1v1h-1zM490 44h1v1h-1zM465 45h1v1h-1zM469 45h15v1h-15zM486 45h1v1h-1zM465 46h1v1h-1zM467 46h2v1h-2zM470 46h14v1h-14zM485 46h1v1h-1zM464 47h1v1h-1zM466 47h1v1h-1zM468 47h2v1h-2zM471 47h9v1h-9zM481 47h7v1h-7zM464 48h2v1h-2zM467 48h2v1h-2zM470 48h8v1h-8zM479 48h7v1h-7zM464 49h19v1h-19zM484 49h1v1h-1zM490 49h1v1h-1zM463 50h1v1h-1zM465 50h20v1h-20zM487 50h2v1h-2zM461 51h1v1h-1zM463 51h1v1h-1zM465 51h20v1h-20zM489 51h1v1h-1zM460 52h1v1h-1zM465 52h21v1h-21zM462 53h3v1h-3zM466 53h19v1h-19zM487 53h1v1h-1zM462 54h3v1h-3zM466 54h16v1h-16zM483 54h1v1h-1zM461 55h1v1h-1zM465 55h18v1h-18zM486 55h1v1h-1zM488 55h1v1h-1zM463 56h6v1h-6zM470 56h7v1h-7zM478 56h1v1h-1zM480 56h2v1h-2zM462 57h7v1h-7zM470 57h11v1h-11zM460 58h1v1h-1zM464 58h9v1h-9zM474 58h1v1h-1zM476 58h5v1h-5zM467 59h1v1h-1zM469 59h2v1h-2zM472 59h1v1h-1zM474 59h4v1h-4zM481 59h1v1h-1zM460 60h1v1h-1zM465 60h1v1h-1zM467 60h5v1h-5zM473 60h5v1h-5zM479 60h1v1h-1zM463 61h2v1h-2zM466 61h2v1h-2zM469 61h1v1h-1zM472 61h1v1h-1zM474 61h1v1h-1zM477 61h1v1h-1zM482 61h1v1h-1zM465 62h1v1h-1zM467 62h1v1h-1zM469 62h1v1h-1zM477 62h1v1h-1zM468 63h1v1h-1zM470 63h3v1h-3zM480 63h1v1h-1z"/>
</g>
<rect x="412.5" y="14.3" width="101.5" height="101.7" fill="none" stroke="#888" stroke-width="1"/>
<path d="M452.6 14.3V116M412.5 76.5H514" stroke="#000" stroke-width="1.7"/>
<text x="415.4" y="121.2" font-size="4.4" fill="#999" text-anchor="middle" style="stroke:none">10⁰</text>
<text transform="translate(410.3,114.0) rotate(-90)" font-size="4.4" fill="#aaa" text-anchor="middle" style="stroke:none">10⁰</text>
<text x="440.7" y="121.2" font-size="4.4" fill="#999" text-anchor="middle" style="stroke:none">10¹</text>
<text transform="translate(410.3,89.0) rotate(-90)" font-size="4.4" fill="#aaa" text-anchor="middle" style="stroke:none">10¹</text>
<text x="466.0" y="121.2" font-size="4.4" fill="#999" text-anchor="middle" style="stroke:none">10²</text>
<text transform="translate(410.3,64.0) rotate(-90)" font-size="4.4" fill="#aaa" text-anchor="middle" style="stroke:none">10²</text>
<text x="491.3" y="121.2" font-size="4.4" fill="#999" text-anchor="middle" style="stroke:none">10³</text>
<text transform="translate(410.3,39.0) rotate(-90)" font-size="4.4" fill="#aaa" text-anchor="middle" style="stroke:none">10³</text>
<text x="516.6" y="121.2" font-size="4.4" fill="#999" text-anchor="middle" style="stroke:none">10⁴</text>
<text transform="translate(410.3,14.0) rotate(-90)" font-size="4.4" fill="#aaa" text-anchor="middle" style="stroke:none">10⁴</text>
<text x="461.5" y="125.3" font-size="4" fill="#999" text-anchor="middle" style="stroke:none">FL4-H</text>
<text x="446.70" y="10.50" font-size="13.5" font-weight="normal" font-style="italic" textLength="31.96" lengthAdjust="spacingAndGlyphs">DKO</text>
<text x="421.84" y="33.50" font-size="14.4" font-weight="normal" font-style="normal" textLength="27.17" lengthAdjust="spacingAndGlyphs">17.7</text>
<text x="482.78" y="33.50" font-size="14.4" font-weight="normal" font-style="normal" textLength="27.74" lengthAdjust="spacingAndGlyphs">61.2</text>
<text x="422.22" y="109.80" font-size="14.4" font-weight="normal" font-style="normal" textLength="27.70" lengthAdjust="spacingAndGlyphs">13.7</text>
<text x="489.47" y="109.80" font-size="14.4" font-weight="normal" font-style="normal" textLength="19.70" lengthAdjust="spacingAndGlyphs">7.9</text>
<path d="M50.3 172.1H251.3V302.5H50.3M52.3 172.1V302.5" fill="none" stroke="#333" stroke-width="1.1"/>
<path d="M49.3 302.5H52.3M251.3 302.5H253.8" stroke="#333" stroke-width="1"/>
<text x="47.8" y="307.7" font-size="14.5" text-anchor="end" font-weight="normal" font-style="normal" fill="#000" >0</text>
<path d="M49.3 278.8H52.3M251.3 278.8H253.8" stroke="#333" stroke-width="1"/>
<text x="47.8" y="284.0" font-size="14.5" text-anchor="end" font-weight="normal" font-style="normal" fill="#000" >20</text>
<path d="M49.3 255.0H52.3M251.3 255.0H253.8" stroke="#333" stroke-width="1"/>
<text x="47.8" y="260.2" font-size="14.5" text-anchor="end" font-weight="normal" font-style="normal" fill="#000" >40</text>
<path d="M49.3 231.3H52.3M251.3 231.3H253.8" stroke="#333" stroke-width="1"/>
<text x="47.8" y="236.5" font-size="14.5" text-anchor="end" font-weight="normal" font-style="normal" fill="#000" >60</text>
<path d="M49.3 207.6H52.3M251.3 207.6H253.8" stroke="#333" stroke-width="1"/>
<text x="47.8" y="212.8" font-size="14.5" text-anchor="end" font-weight="normal" font-style="normal" fill="#000" >80</text>
<path d="M49.3 183.8H52.3M251.3 183.8H253.8" stroke="#333" stroke-width="1"/>
<text x="47.8" y="189.0" font-size="14.5" text-anchor="end" font-weight="normal" font-style="normal" fill="#000" >100</text>
<path d="M50.8 290.6H52.3M251.3 290.6H252.8" stroke="#333" stroke-width="0.9"/>
<path d="M50.8 266.9H52.3M251.3 266.9H252.8" stroke="#333" stroke-width="0.9"/>
<path d="M50.8 243.2H52.3M251.3 243.2H252.8" stroke="#333" stroke-width="0.9"/>
<path d="M50.8 219.4H52.3M251.3 219.4H252.8" stroke="#333" stroke-width="0.9"/>
<path d="M50.8 195.7H52.3M251.3 195.7H252.8" stroke="#333" stroke-width="0.9"/>
<path d="M76.7 302.5V304.3M76.7 172.1V170.6" stroke="#333" stroke-width="0.9"/>
<path d="M100.8 302.5V304.3M100.8 172.1V170.6" stroke="#333" stroke-width="0.9"/>
<path d="M125.8 302.5V304.3M125.8 172.1V170.6" stroke="#333" stroke-width="0.9"/>
<path d="M150.8 302.5V304.3M150.8 172.1V170.6" stroke="#333" stroke-width="0.9"/>
<path d="M175.0 302.5V304.3M175.0 172.1V170.6" stroke="#333" stroke-width="0.9"/>
<path d="M200.0 302.5V304.3M200.0 172.1V170.6" stroke="#333" stroke-width="0.9"/>
<path d="M224.8 302.5V304.3M224.8 172.1V170.6" stroke="#333" stroke-width="0.9"/>
<text x="81.3" y="321.0" font-size="13.2" text-anchor="middle" font-weight="normal" font-style="normal" fill="#000" >0</text>
<text x="101.7" y="321.0" font-size="13.2" text-anchor="middle" font-weight="normal" font-style="normal" fill="#000" >12</text>
<text x="125.8" y="321.0" font-size="13.2" text-anchor="middle" font-weight="normal" font-style="normal" fill="#000" >24</text>
<text x="149.8" y="321.0" font-size="13.2" text-anchor="middle" font-weight="normal" font-style="normal" fill="#000" >48</text>
<text x="176.5" y="321.0" font-size="13.2" text-anchor="middle" font-weight="normal" font-style="normal" fill="#000" >72</text>
<text x="199.2" y="321.0" font-size="13.2" text-anchor="middle" font-weight="normal" font-style="normal" fill="#000" >96</text>
<text x="213.8" y="321.0" font-size="13.2" text-anchor="start" font-weight="normal" font-style="normal" fill="#000" >120h</text>
<text transform="translate(25.40,0) rotate(-90)" x="-256.65" y="0" font-size="14.3" textLength="63.36" lengthAdjust="spacingAndGlyphs">viability %</text>
<polyline points="76.7,183.8 100.8,247.9 125.8,253.3 150.8,277.0 175.0,294.2 200.0,300.1 224.8,301.3" fill="none" stroke="#000" stroke-width="1.15"/>
<polyline points="76.7,183.8 100.8,239.6 125.8,243.2 150.8,262.2 175.0,282.3 200.0,296.6 224.8,301.3" fill="none" stroke="#000" stroke-width="1.15"/>
<polyline points="76.7,183.8 100.8,234.9 125.8,240.8 150.8,252.7 175.0,265.7 200.0,285.9 224.8,298.9" fill="none" stroke="#000" stroke-width="1.15"/>
<polyline points="76.7,183.8 100.8,232.5 125.8,240.2 150.8,247.3 175.0,259.8 200.0,275.2 224.8,290.6" fill="none" stroke="#000" stroke-width="1.15"/>
<path d="M100.5 236.1V243.2M99.0 236.1h3M99.0 243.2h3" stroke="#000" stroke-width="0.9" fill="none"/>
<path d="M125.5 238.4V247.9M124.0 238.4h3M124.0 247.9h3" stroke="#000" stroke-width="0.9" fill="none"/>
<path d="M150.5 258.6V265.7M149.0 258.6h3M149.0 265.7h3" stroke="#000" stroke-width="0.9" fill="none"/>
<path d="M175.5 280.0V284.7M174.0 280.0h3M174.0 284.7h3" stroke="#000" stroke-width="0.9" fill="none"/>
<path d="M200.5 294.2V298.9M199.0 294.2h3M199.0 298.9h3" stroke="#000" stroke-width="0.9" fill="none"/>
<path d="M224.5 300.1V302.5M223.0 300.1h3M223.0 302.5h3" stroke="#000" stroke-width="0.9" fill="none"/>
<path d="M100.5 226.6V238.4M99.0 226.6h3M99.0 238.4h3" stroke="#000" stroke-width="0.9" fill="none"/>
<path d="M125.5 233.1V247.3M124.0 233.1h3M124.0 247.3h3" stroke="#000" stroke-width="0.9" fill="none"/>
<path d="M150.5 242.6V252.1M149.0 242.6h3M149.0 252.1h3" stroke="#000" stroke-width="0.9" fill="none"/>
<path d="M175.5 253.9V265.7M174.0 253.9h3M174.0 265.7h3" stroke="#000" stroke-width="0.9" fill="none"/>
<path d="M200.5 271.7V278.8M199.0 271.7h3M199.0 278.8h3" stroke="#000" stroke-width="0.9" fill="none"/>
<path d="M224.5 285.9V295.4M223.0 285.9h3M223.0 295.4h3" stroke="#000" stroke-width="0.9" fill="none"/>
<circle cx="76.7" cy="183.8" r="3.1" fill="#000"/>
<circle cx="100.8" cy="247.9" r="3.1" fill="#000"/>
<circle cx="125.8" cy="253.3" r="3.1" fill="#000"/>
<circle cx="150.8" cy="277.0" r="3.1" fill="#000"/>
<circle cx="175.0" cy="294.2" r="3.1" fill="#000"/>
<circle cx="200.0" cy="300.1" r="3.1" fill="#000"/>
<circle cx="224.8" cy="301.3" r="3.1" fill="#000"/>
<path d="M76.7 180.5L80.0 186.5L73.4 186.5Z" fill="#fff" stroke="#000" stroke-width="1.1"/>
<path d="M100.8 236.3L104.1 242.3L97.5 242.3Z" fill="#fff" stroke="#000" stroke-width="1.1"/>
<path d="M125.8 239.9L129.1 245.8L122.5 245.8Z" fill="#fff" stroke="#000" stroke-width="1.1"/>
<path d="M150.8 258.9L154.1 264.8L147.5 264.8Z" fill="#fff" stroke="#000" stroke-width="1.1"/>
<path d="M175.0 279.0L178.3 285.0L171.7 285.0Z" fill="#fff" stroke="#000" stroke-width="1.1"/>
<path d="M200.0 293.3L203.3 299.2L196.7 299.2Z" fill="#fff" stroke="#000" stroke-width="1.1"/>
<path d="M224.8 298.0L228.1 304.0L221.5 304.0Z" fill="#fff" stroke="#000" stroke-width="1.1"/>
<path d="M76.7 180.8L79.7 183.8L76.7 186.8L73.7 183.8Z" fill="#fff" stroke="#000" stroke-width="1.1" stroke-linejoin="round"/>
<path d="M100.8 231.9L103.8 234.9L100.8 237.9L97.8 234.9Z" fill="#fff" stroke="#000" stroke-width="1.1" stroke-linejoin="round"/>
<path d="M125.8 237.8L128.8 240.8L125.8 243.8L122.8 240.8Z" fill="#fff" stroke="#000" stroke-width="1.1" stroke-linejoin="round"/>
<path d="M150.8 249.7L153.8 252.7L150.8 255.7L147.8 252.7Z" fill="#fff" stroke="#000" stroke-width="1.1" stroke-linejoin="round"/>
<path d="M175.0 262.7L178.0 265.7L175.0 268.7L172.0 265.7Z" fill="#fff" stroke="#000" stroke-width="1.1" stroke-linejoin="round"/>
<path d="M200.0 282.9L203.0 285.9L200.0 288.9L197.0 285.9Z" fill="#fff" stroke="#000" stroke-width="1.1" stroke-linejoin="round"/>
<path d="M224.8 295.9L227.8 298.9L224.8 301.9L221.8 298.9Z" fill="#fff" stroke="#000" stroke-width="1.1" stroke-linejoin="round"/>
<rect x="73.6" y="180.8" width="6.2" height="6.2" fill="#000"/>
<rect x="97.7" y="229.4" width="6.2" height="6.2" fill="#000"/>
<rect x="122.7" y="237.1" width="6.2" height="6.2" fill="#000"/>
<rect x="147.7" y="244.2" width="6.2" height="6.2" fill="#000"/>
<rect x="171.9" y="256.7" width="6.2" height="6.2" fill="#000"/>
<rect x="196.9" y="272.1" width="6.2" height="6.2" fill="#000"/>
<rect x="221.7" y="287.5" width="6.2" height="6.2" fill="#000"/>
<text x="92.5" y="186.0" font-size="14.4" text-anchor="start" font-weight="normal" font-style="normal" fill="#000" >Spontaneous death</text>
<text x="150.2" y="239.5" font-size="10.6" font-weight="bold" text-anchor="middle" style="stroke:none" transform="translate(150.2 0) scale(0.84 1) translate(-150.2 0)">&amp;#</text>
<text x="175.0" y="250.0" font-size="10.6" font-weight="bold" text-anchor="middle" style="stroke:none" transform="translate(175.0 0) scale(0.84 1) translate(-175.0 0)">&amp;#</text>
<text x="202.0" y="250.0" font-size="10.6" font-weight="bold" text-anchor="middle" style="stroke:none" transform="translate(202.0 0) scale(0.84 1) translate(-202.0 0)">&amp;#</text>
<text x="202.0" y="260.5" font-size="10.6" font-weight="bold" text-anchor="middle" style="stroke:none" transform="translate(202.0 0) scale(0.84 1) translate(-202.0 0)">§</text>
<path d="M307.3 172H509.2V302.3H307.3M309.3 172V302.3" fill="none" stroke="#333" stroke-width="1.1"/>
<path d="M306.3 280.4H309.3M509.2 280.4H511.7" stroke="#333" stroke-width="1"/>
<text x="304.8" y="285.6" font-size="14.5" text-anchor="end" font-weight="normal" font-style="normal" fill="#000" >10</text>
<path d="M306.3 258.7H309.3M509.2 258.7H511.7" stroke="#333" stroke-width="1"/>
<text x="304.8" y="263.9" font-size="14.5" text-anchor="end" font-weight="normal" font-style="normal" fill="#000" >30</text>
<path d="M306.3 237.1H309.3M509.2 237.1H511.7" stroke="#333" stroke-width="1"/>
<text x="304.8" y="242.3" font-size="14.5" text-anchor="end" font-weight="normal" font-style="normal" fill="#000" >50</text>
<path d="M306.3 215.4H309.3M509.2 215.4H511.7" stroke="#333" stroke-width="1"/>
<text x="304.8" y="220.6" font-size="14.5" text-anchor="end" font-weight="normal" font-style="normal" fill="#000" >70</text>
<path d="M306.3 193.8H309.3M509.2 193.8H511.7" stroke="#333" stroke-width="1"/>
<text x="304.8" y="199.0" font-size="14.5" text-anchor="end" font-weight="normal" font-style="normal" fill="#000" >90</text>
<path d="M307.8 291.2H309.3M509.2 291.2H510.7" stroke="#333" stroke-width="0.9"/>
<path d="M307.8 269.6H309.3M509.2 269.6H510.7" stroke="#333" stroke-width="0.9"/>
<path d="M307.8 247.9H309.3M509.2 247.9H510.7" stroke="#333" stroke-width="0.9"/>
<path d="M307.8 226.2H309.3M509.2 226.2H510.7" stroke="#333" stroke-width="0.9"/>
<path d="M307.8 204.6H309.3M509.2 204.6H510.7" stroke="#333" stroke-width="0.9"/>
<path d="M307.8 182.9H309.3M509.2 182.9H510.7" stroke="#333" stroke-width="0.9"/>
<path d="M345.0 302.3V304.1M345.0 172V170.5" stroke="#333" stroke-width="0.9"/>
<path d="M388.0 302.3V304.1M388.0 172V170.5" stroke="#333" stroke-width="0.9"/>
<path d="M431.5 302.3V304.1M431.5 172V170.5" stroke="#333" stroke-width="0.9"/>
<path d="M475.0 302.3V304.1M475.0 172V170.5" stroke="#333" stroke-width="0.9"/>
<text x="345.0" y="321.0" font-size="13.6" text-anchor="middle" font-weight="normal" font-style="normal" fill="#000" >0</text>
<text x="388.5" y="321.0" font-size="13.6" text-anchor="middle" font-weight="normal" font-style="normal" fill="#000" >12</text>
<text x="431.5" y="321.0" font-size="13.6" text-anchor="middle" font-weight="normal" font-style="normal" fill="#000" >24</text>
<text x="467.4" y="321.0" font-size="13.6" text-anchor="start" font-weight="normal" font-style="normal" fill="#000" >48h</text>
<path d="M309.3 291.6H509.2" stroke="#555" stroke-width="1.1" stroke-dasharray="2 0.8"/>
<text transform="translate(282.10,0) rotate(-90)" x="-281.08" y="0" font-size="14.3" textLength="100.07" lengthAdjust="spacingAndGlyphs">specific killing %</text>
<polyline points="345.0,291.2 388.0,185.1 431.5,184.6 475.0,184.0" fill="none" stroke="#000" stroke-width="1.15"/>
<polyline points="345.0,291.2 388.0,184.0 431.5,184.0 475.0,183.5" fill="none" stroke="#000" stroke-width="1.15"/>
<polyline points="345.0,291.2 388.0,191.6 431.5,185.1 475.0,184.6" fill="none" stroke="#000" stroke-width="1.15"/>
<polyline points="345.0,291.2 388.0,225.2 431.5,196.5 475.0,186.7" fill="none" stroke="#000" stroke-width="1.15"/>
<path d="M388.5 220.8V229.5M387.0 220.8h3M387.0 229.5h3" stroke="#000" stroke-width="0.9" fill="none"/>
<circle cx="345.0" cy="291.2" r="3.1" fill="#000"/>
<circle cx="388.0" cy="185.1" r="3.1" fill="#000"/>
<circle cx="431.5" cy="184.6" r="3.1" fill="#000"/>
<circle cx="475.0" cy="184.0" r="3.1" fill="#000"/>
<path d="M345.0 287.9L348.3 293.8L341.7 293.8Z" fill="#fff" stroke="#000" stroke-width="1.1"/>
<path d="M388.0 180.7L391.3 186.7L384.7 186.7Z" fill="#fff" stroke="#000" stroke-width="1.1"/>
<path d="M431.5 180.7L434.8 186.7L428.2 186.7Z" fill="#fff" stroke="#000" stroke-width="1.1"/>
<path d="M475.0 180.2L478.3 186.1L471.7 186.1Z" fill="#fff" stroke="#000" stroke-width="1.1"/>
<path d="M345.0 288.2L348.0 291.2L345.0 294.2L342.0 291.2Z" fill="#fff" stroke="#000" stroke-width="1.1" stroke-linejoin="round"/>
<path d="M388.0 188.6L391.0 191.6L388.0 194.6L385.0 191.6Z" fill="#fff" stroke="#000" stroke-width="1.1" stroke-linejoin="round"/>
<path d="M431.5 182.1L434.5 185.1L431.5 188.1L428.5 185.1Z" fill="#fff" stroke="#000" stroke-width="1.1" stroke-linejoin="round"/>
<path d="M475.0 181.6L478.0 184.6L475.0 187.6L472.0 184.6Z" fill="#fff" stroke="#000" stroke-width="1.1" stroke-linejoin="round"/>
<rect x="341.9" y="288.1" width="6.2" height="6.2" fill="#000"/>
<rect x="384.9" y="222.1" width="6.2" height="6.2" fill="#000"/>
<rect x="428.4" y="193.4" width="6.2" height="6.2" fill="#000"/>
<rect x="471.9" y="183.6" width="6.2" height="6.2" fill="#000"/>
<text x="317.5" y="185.0" font-size="14.4" text-anchor="start" font-weight="normal" font-style="normal" fill="#000" >Dex</text>
<text x="317.5" y="202.5" font-size="14.4" text-anchor="start" font-weight="normal" font-style="normal" fill="#000" >10<tspan dy="-5.5" font-size="9.5">-7</tspan><tspan dy="5.5"> M</tspan></text>
<text x="388.0" y="219.0" font-size="10.6" font-weight="bold" text-anchor="middle" style="stroke:none" transform="translate(388.0 0) scale(0.84 1) translate(-388.0 0)">#§</text>
<text x="432.0" y="212.8" font-size="10.6" font-weight="bold" text-anchor="middle" style="stroke:none" transform="translate(432.0 0) scale(0.84 1) translate(-432.0 0)">#§</text>
<path d="M46.8 330.8H248.4V460.5H46.8M48.8 330.8V460.5" fill="none" stroke="#333" stroke-width="1.1"/>
<path d="M45.8 439.2H48.8M248.4 439.2H250.9" stroke="#333" stroke-width="1"/>
<text x="44.3" y="444.4" font-size="14.5" text-anchor="end" font-weight="normal" font-style="normal" fill="#000" >10</text>
<path d="M45.8 417.5H48.8M248.4 417.5H250.9" stroke="#333" stroke-width="1"/>
<text x="44.3" y="422.7" font-size="14.5" text-anchor="end" font-weight="normal" font-style="normal" fill="#000" >30</text>
<path d="M45.8 395.8H48.8M248.4 395.8H250.9" stroke="#333" stroke-width="1"/>
<text x="44.3" y="401.0" font-size="14.5" text-anchor="end" font-weight="normal" font-style="normal" fill="#000" >50</text>
<path d="M45.8 374.1H48.8M248.4 374.1H250.9" stroke="#333" stroke-width="1"/>
<text x="44.3" y="379.3" font-size="14.5" text-anchor="end" font-weight="normal" font-style="normal" fill="#000" >70</text>
<path d="M45.8 352.4H48.8M248.4 352.4H250.9" stroke="#333" stroke-width="1"/>
<text x="44.3" y="357.6" font-size="14.5" text-anchor="end" font-weight="normal" font-style="normal" fill="#000" >90</text>
<path d="M47.3 450.1H48.8M248.4 450.1H249.9" stroke="#333" stroke-width="0.9"/>
<path d="M47.3 428.4H48.8M248.4 428.4H249.9" stroke="#333" stroke-width="0.9"/>
<path d="M47.3 406.7H48.8M248.4 406.7H249.9" stroke="#333" stroke-width="0.9"/>
<path d="M47.3 384.9H48.8M248.4 384.9H249.9" stroke="#333" stroke-width="0.9"/>
<path d="M47.3 363.2H48.8M248.4 363.2H249.9" stroke="#333" stroke-width="0.9"/>
<path d="M47.3 341.5H48.8M248.4 341.5H249.9" stroke="#333" stroke-width="0.9"/>
<path d="M80.2 460.5V462.3M80.2 330.8V329.3" stroke="#333" stroke-width="0.9"/>
<path d="M115.0 460.5V462.3M115.0 330.8V329.3" stroke="#333" stroke-width="0.9"/>
<path d="M149.6 460.5V462.3M149.6 330.8V329.3" stroke="#333" stroke-width="0.9"/>
<path d="M183.8 460.5V462.3M183.8 330.8V329.3" stroke="#333" stroke-width="0.9"/>
<path d="M219.0 460.5V462.3M219.0 330.8V329.3" stroke="#333" stroke-width="0.9"/>
<text x="79.7" y="476.5" font-size="13.6" text-anchor="middle" font-weight="normal" font-style="normal" fill="#000" >0</text>
<text x="114.7" y="476.5" font-size="13.6" text-anchor="middle" font-weight="normal" font-style="normal" fill="#000" >12</text>
<text x="148.2" y="476.5" font-size="13.6" text-anchor="middle" font-weight="normal" font-style="normal" fill="#000" >24</text>
<text x="183.5" y="476.5" font-size="13.6" text-anchor="middle" font-weight="normal" font-style="normal" fill="#000" >48</text>
<text x="211.9" y="476.5" font-size="13.6" text-anchor="start" font-weight="normal" font-style="normal" fill="#000" >72h</text>
<path d="M48.8 449.8H248.4" stroke="#555" stroke-width="1.1" stroke-dasharray="2 0.8"/>
<text transform="translate(25.50,0) rotate(-90)" x="-442.48" y="0" font-size="14.3" textLength="99.37" lengthAdjust="spacingAndGlyphs">specific killing %</text>
<polyline points="80.2,450.1 115.0,369.7 149.6,344.2 183.8,341.5 219.0,345.8" fill="none" stroke="#000" stroke-width="1.15"/>
<polyline points="80.2,450.1 115.0,386.0 149.6,347.5 183.8,344.8 219.0,342.0" fill="none" stroke="#000" stroke-width="1.15"/>
<polyline points="80.2,450.1 115.0,431.6 149.6,422.3 183.8,374.1 219.0,355.1" fill="none" stroke="#000" stroke-width="1.15"/>
<polyline points="80.2,450.1 115.0,440.3 149.6,429.5 183.8,401.2 219.0,393.6" fill="none" stroke="#000" stroke-width="1.15"/>
<path d="M115.5 364.3V375.2M114.0 364.3h3M114.0 375.2h3" stroke="#000" stroke-width="0.9" fill="none"/>
<path d="M115.5 375.2V396.9M114.0 375.2h3M114.0 396.9h3" stroke="#000" stroke-width="0.9" fill="none"/>
<path d="M183.5 368.7V379.5M182.0 368.7h3M182.0 379.5h3" stroke="#000" stroke-width="0.9" fill="none"/>
<path d="M219.5 350.7V359.4M218.0 350.7h3M218.0 359.4h3" stroke="#000" stroke-width="0.9" fill="none"/>
<path d="M149.5 425.1V433.8M148.0 425.1h3M148.0 433.8h3" stroke="#000" stroke-width="0.9" fill="none"/>
<path d="M183.5 390.4V412.1M182.0 390.4h3M182.0 412.1h3" stroke="#000" stroke-width="0.9" fill="none"/>
<path d="M219.5 381.7V405.6M218.0 381.7h3M218.0 405.6h3" stroke="#000" stroke-width="0.9" fill="none"/>
<circle cx="80.2" cy="450.1" r="3.1" fill="#000"/>
<circle cx="115.0" cy="369.7" r="3.1" fill="#000"/>
<circle cx="149.6" cy="344.2" r="3.1" fill="#000"/>
<circle cx="183.8" cy="341.5" r="3.1" fill="#000"/>
<circle cx="219.0" cy="345.8" r="3.1" fill="#000"/>
<path d="M80.2 446.8L83.5 452.7L76.9 452.7Z" fill="#fff" stroke="#000" stroke-width="1.1"/>
<path d="M115.0 382.7L118.3 388.7L111.7 388.7Z" fill="#fff" stroke="#000" stroke-width="1.1"/>
<path d="M149.6 344.2L152.9 350.1L146.3 350.1Z" fill="#fff" stroke="#000" stroke-width="1.1"/>
<path d="M183.8 341.5L187.1 347.4L180.5 347.4Z" fill="#fff" stroke="#000" stroke-width="1.1"/>
<path d="M219.0 338.7L222.3 344.7L215.7 344.7Z" fill="#fff" stroke="#000" stroke-width="1.1"/>
<path d="M80.2 447.1L83.2 450.1L80.2 453.1L77.2 450.1Z" fill="#fff" stroke="#000" stroke-width="1.1" stroke-linejoin="round"/>
<path d="M115.0 428.6L118.0 431.6L115.0 434.6L112.0 431.6Z" fill="#fff" stroke="#000" stroke-width="1.1" stroke-linejoin="round"/>
<path d="M149.6 419.3L152.6 422.3L149.6 425.3L146.6 422.3Z" fill="#fff" stroke="#000" stroke-width="1.1" stroke-linejoin="round"/>
<path d="M183.8 371.1L186.8 374.1L183.8 377.1L180.8 374.1Z" fill="#fff" stroke="#000" stroke-width="1.1" stroke-linejoin="round"/>
<path d="M219.0 352.1L222.0 355.1L219.0 358.1L216.0 355.1Z" fill="#fff" stroke="#000" stroke-width="1.1" stroke-linejoin="round"/>
<rect x="77.1" y="447.0" width="6.2" height="6.2" fill="#000"/>
<rect x="111.9" y="437.2" width="6.2" height="6.2" fill="#000"/>
<rect x="146.5" y="426.4" width="6.2" height="6.2" fill="#000"/>
<rect x="180.7" y="398.1" width="6.2" height="6.2" fill="#000"/>
<rect x="215.9" y="390.5" width="6.2" height="6.2" fill="#000"/>
<text x="55.0" y="345.2" font-size="14.4" text-anchor="start" font-weight="normal" font-style="normal" fill="#000" >TSA 50 nM</text>
<text x="117.5" y="424.0" font-size="10.6" font-weight="bold" text-anchor="middle" style="stroke:none" transform="translate(117.5 0) scale(0.84 1) translate(-117.5 0)">&amp;#</text>
<text x="146.4" y="407.5" font-size="10.6" font-weight="bold" text-anchor="middle" style="stroke:none" transform="translate(146.4 0) scale(0.84 1) translate(-146.4 0)">&amp;#</text>
<text x="184.6" y="429.0" font-size="10.6" font-weight="bold" text-anchor="middle" style="stroke:none" transform="translate(184.6 0) scale(0.84 1) translate(-184.6 0)">#&amp;</text>
<text x="184.6" y="440.5" font-size="10.6" font-weight="bold" text-anchor="middle" style="stroke:none" transform="translate(184.6 0) scale(0.84 1) translate(-184.6 0)">§</text>
<text x="218.3" y="423.5" font-size="10.6" font-weight="bold" text-anchor="middle" style="stroke:none" transform="translate(218.3 0) scale(0.84 1) translate(-218.3 0)">#§</text>
<path d="M308.4 330.5H509.6V460.4H308.4M310.4 330.5V460.4" fill="none" stroke="#333" stroke-width="1.1"/>
<path d="M307.4 438.5H310.4M509.6 438.5H512.1" stroke="#333" stroke-width="1"/>
<text x="305.9" y="443.7" font-size="14.5" text-anchor="end" font-weight="normal" font-style="normal" fill="#000" >10</text>
<path d="M307.4 416.9H310.4M509.6 416.9H512.1" stroke="#333" stroke-width="1"/>
<text x="305.9" y="422.1" font-size="14.5" text-anchor="end" font-weight="normal" font-style="normal" fill="#000" >30</text>
<path d="M307.4 395.3H310.4M509.6 395.3H512.1" stroke="#333" stroke-width="1"/>
<text x="305.9" y="400.5" font-size="14.5" text-anchor="end" font-weight="normal" font-style="normal" fill="#000" >50</text>
<path d="M307.4 373.7H310.4M509.6 373.7H512.1" stroke="#333" stroke-width="1"/>
<text x="305.9" y="378.9" font-size="14.5" text-anchor="end" font-weight="normal" font-style="normal" fill="#000" >70</text>
<path d="M307.4 352.1H310.4M509.6 352.1H512.1" stroke="#333" stroke-width="1"/>
<text x="305.9" y="357.3" font-size="14.5" text-anchor="end" font-weight="normal" font-style="normal" fill="#000" >90</text>
<path d="M308.9 449.3H310.4M509.6 449.3H511.1" stroke="#333" stroke-width="0.9"/>
<path d="M308.9 427.7H310.4M509.6 427.7H511.1" stroke="#333" stroke-width="0.9"/>
<path d="M308.9 406.1H310.4M509.6 406.1H511.1" stroke="#333" stroke-width="0.9"/>
<path d="M308.9 384.5H310.4M509.6 384.5H511.1" stroke="#333" stroke-width="0.9"/>
<path d="M308.9 362.9H310.4M509.6 362.9H511.1" stroke="#333" stroke-width="0.9"/>
<path d="M308.9 341.3H310.4M509.6 341.3H511.1" stroke="#333" stroke-width="0.9"/>
<path d="M341.5 460.4V462.2M341.5 330.5V329.0" stroke="#333" stroke-width="0.9"/>
<path d="M376.5 460.4V462.2M376.5 330.5V329.0" stroke="#333" stroke-width="0.9"/>
<path d="M411.0 460.4V462.2M411.0 330.5V329.0" stroke="#333" stroke-width="0.9"/>
<path d="M446.0 460.4V462.2M446.0 330.5V329.0" stroke="#333" stroke-width="0.9"/>
<path d="M481.0 460.4V462.2M481.0 330.5V329.0" stroke="#333" stroke-width="0.9"/>
<text x="340.8" y="476.5" font-size="13.6" text-anchor="middle" font-weight="normal" font-style="normal" fill="#000" >0</text>
<text x="375.6" y="476.5" font-size="13.6" text-anchor="middle" font-weight="normal" font-style="normal" fill="#000" >12</text>
<text x="410.2" y="476.5" font-size="13.6" text-anchor="middle" font-weight="normal" font-style="normal" fill="#000" >24</text>
<text x="444.8" y="476.5" font-size="13.6" text-anchor="middle" font-weight="normal" font-style="normal" fill="#000" >48</text>
<text x="472.4" y="476.5" font-size="13.6" text-anchor="start" font-weight="normal" font-style="normal" fill="#000" >72h</text>
<path d="M310.4 449.4H509.6" stroke="#555" stroke-width="1.1" stroke-dasharray="2 0.8"/>
<text transform="translate(282.60,0) rotate(-90)" x="-443.19" y="0" font-size="14.3" textLength="103.30" lengthAdjust="spacingAndGlyphs">specific killing %</text>
<polyline points="341.5,449.3 376.5,349.4 411.0,347.8 446.0,347.8 481.0,345.6" fill="none" stroke="#000" stroke-width="1.15"/>
<polyline points="341.5,449.3 376.5,357.9 411.0,347.8 446.0,346.7 481.0,346.7" fill="none" stroke="#000" stroke-width="1.15"/>
<polyline points="341.5,449.3 376.5,438.5 411.0,422.3 446.0,356.4 481.0,352.1" fill="none" stroke="#000" stroke-width="1.15"/>
<polyline points="341.5,449.3 376.5,438.5 411.0,438.5 446.0,397.5 481.0,360.7" fill="none" stroke="#000" stroke-width="1.15"/>
<path d="M411.5 419.1V425.5M410.0 419.1h3M410.0 425.5h3" stroke="#000" stroke-width="0.9" fill="none"/>
<path d="M411.5 433.1V443.9M410.0 433.1h3M410.0 443.9h3" stroke="#000" stroke-width="0.9" fill="none"/>
<circle cx="341.5" cy="449.3" r="3.1" fill="#000"/>
<circle cx="376.5" cy="349.4" r="3.1" fill="#000"/>
<circle cx="411.0" cy="347.8" r="3.1" fill="#000"/>
<circle cx="446.0" cy="347.8" r="3.1" fill="#000"/>
<circle cx="481.0" cy="345.6" r="3.1" fill="#000"/>
<path d="M341.5 446.0L344.8 451.9L338.2 451.9Z" fill="#fff" stroke="#000" stroke-width="1.1"/>
<path d="M376.5 354.6L379.8 360.6L373.2 360.6Z" fill="#fff" stroke="#000" stroke-width="1.1"/>
<path d="M411.0 344.5L414.3 350.4L407.7 350.4Z" fill="#fff" stroke="#000" stroke-width="1.1"/>
<path d="M446.0 343.4L449.3 349.3L442.7 349.3Z" fill="#fff" stroke="#000" stroke-width="1.1"/>
<path d="M481.0 343.4L484.3 349.3L477.7 349.3Z" fill="#fff" stroke="#000" stroke-width="1.1"/>
<path d="M341.5 446.3L344.5 449.3L341.5 452.3L338.5 449.3Z" fill="#fff" stroke="#000" stroke-width="1.1" stroke-linejoin="round"/>
<path d="M376.5 435.5L379.5 438.5L376.5 441.5L373.5 438.5Z" fill="#fff" stroke="#000" stroke-width="1.1" stroke-linejoin="round"/>
<path d="M411.0 419.3L414.0 422.3L411.0 425.3L408.0 422.3Z" fill="#fff" stroke="#000" stroke-width="1.1" stroke-linejoin="round"/>
<path d="M446.0 353.4L449.0 356.4L446.0 359.4L443.0 356.4Z" fill="#fff" stroke="#000" stroke-width="1.1" stroke-linejoin="round"/>
<path d="M481.0 349.1L484.0 352.1L481.0 355.1L478.0 352.1Z" fill="#fff" stroke="#000" stroke-width="1.1" stroke-linejoin="round"/>
<rect x="338.4" y="446.2" width="6.2" height="6.2" fill="#000"/>
<rect x="373.4" y="435.4" width="6.2" height="6.2" fill="#000"/>
<rect x="407.9" y="435.4" width="6.2" height="6.2" fill="#000"/>
<rect x="442.9" y="394.4" width="6.2" height="6.2" fill="#000"/>
<rect x="477.9" y="357.6" width="6.2" height="6.2" fill="#000"/>
<text x="313.5" y="346.2" font-size="14.4" text-anchor="start" font-weight="normal" font-style="normal" fill="#000" >SAHA 4μM</text>
<text x="374.0" y="431.0" font-size="10.6" font-weight="bold" text-anchor="middle" style="stroke:none" transform="translate(374.0 0) scale(0.84 1) translate(-374.0 0)">&amp;#</text>
<text x="406.0" y="415.0" font-size="10.6" font-weight="bold" text-anchor="middle" style="stroke:none" transform="translate(406.0 0) scale(0.84 1) translate(-406.0 0)">&amp;#</text>
<text x="447.5" y="417.0" font-size="10.6" font-weight="bold" text-anchor="middle" style="stroke:none" transform="translate(447.5 0) scale(0.84 1) translate(-447.5 0)">#&amp;</text>
<text x="447.5" y="428.5" font-size="10.6" font-weight="bold" text-anchor="middle" style="stroke:none" transform="translate(447.5 0) scale(0.84 1) translate(-447.5 0)">§</text>
<text x="481.5" y="382.5" font-size="10.6" font-weight="bold" text-anchor="middle" style="stroke:none" transform="translate(481.5 0) scale(0.84 1) translate(-481.5 0)">#§</text>
<path d="M48.6 483.4H249.9V613.2H48.6M50.6 483.4V613.2" fill="none" stroke="#333" stroke-width="1.1"/>
<path d="M47.6 589.8H50.6M249.9 589.8H252.4" stroke="#333" stroke-width="1"/>
<text x="46.1" y="595.0" font-size="14.5" text-anchor="end" font-weight="normal" font-style="normal" fill="#000" >10</text>
<path d="M47.6 565.9H50.6M249.9 565.9H252.4" stroke="#333" stroke-width="1"/>
<text x="46.1" y="571.1" font-size="14.5" text-anchor="end" font-weight="normal" font-style="normal" fill="#000" >30</text>
<path d="M47.6 542.1H50.6M249.9 542.1H252.4" stroke="#333" stroke-width="1"/>
<text x="46.1" y="547.3" font-size="14.5" text-anchor="end" font-weight="normal" font-style="normal" fill="#000" >50</text>
<path d="M47.6 518.2H50.6M249.9 518.2H252.4" stroke="#333" stroke-width="1"/>
<text x="46.1" y="523.4" font-size="14.5" text-anchor="end" font-weight="normal" font-style="normal" fill="#000" >70</text>
<path d="M47.6 494.4H50.6M249.9 494.4H252.4" stroke="#333" stroke-width="1"/>
<text x="46.1" y="499.6" font-size="14.5" text-anchor="end" font-weight="normal" font-style="normal" fill="#000" >90</text>
<path d="M49.1 601.7H50.6M249.9 601.7H251.4" stroke="#333" stroke-width="0.9"/>
<path d="M49.1 577.9H50.6M249.9 577.9H251.4" stroke="#333" stroke-width="0.9"/>
<path d="M49.1 554.0H50.6M249.9 554.0H251.4" stroke="#333" stroke-width="0.9"/>
<path d="M49.1 530.2H50.6M249.9 530.2H251.4" stroke="#333" stroke-width="0.9"/>
<path d="M49.1 506.3H50.6M249.9 506.3H251.4" stroke="#333" stroke-width="0.9"/>
<path d="M81.0 613.2V615.0M81.0 483.4V481.9" stroke="#333" stroke-width="0.9"/>
<path d="M116.0 613.2V615.0M116.0 483.4V481.9" stroke="#333" stroke-width="0.9"/>
<path d="M150.0 613.2V615.0M150.0 483.4V481.9" stroke="#333" stroke-width="0.9"/>
<path d="M185.0 613.2V615.0M185.0 483.4V481.9" stroke="#333" stroke-width="0.9"/>
<path d="M218.5 613.2V615.0M218.5 483.4V481.9" stroke="#333" stroke-width="0.9"/>
<text x="81.0" y="628.4" font-size="13.6" text-anchor="middle" font-weight="normal" font-style="normal" fill="#000" >0</text>
<text x="116.0" y="628.4" font-size="13.6" text-anchor="middle" font-weight="normal" font-style="normal" fill="#000" >12</text>
<text x="150.0" y="628.4" font-size="13.6" text-anchor="middle" font-weight="normal" font-style="normal" fill="#000" >24</text>
<text x="185.0" y="628.4" font-size="13.6" text-anchor="middle" font-weight="normal" font-style="normal" fill="#000" >48</text>
<text x="210.9" y="628.4" font-size="13.6" text-anchor="start" font-weight="normal" font-style="normal" fill="#000" >72h</text>
<path d="M50.6 601.9H249.9" stroke="#555" stroke-width="1.1" stroke-dasharray="2 0.8"/>
<text transform="translate(25.60,0) rotate(-90)" x="-598.20" y="0" font-size="14.3" textLength="105.62" lengthAdjust="spacingAndGlyphs">specific killing %</text>
<polyline points="81.0,601.7 116.0,560.0 150.0,527.8 185.0,501.5 218.5,503.3" fill="none" stroke="#000" stroke-width="1.15"/>
<polyline points="81.0,601.7 116.0,561.2 150.0,548.0 185.0,500.3 218.5,496.8" fill="none" stroke="#000" stroke-width="1.15"/>
<polyline points="81.0,601.7 116.0,592.2 150.0,598.7 185.0,577.9 218.5,569.5" fill="none" stroke="#000" stroke-width="1.15"/>
<polyline points="81.0,601.7 116.0,593.8 150.0,581.4 185.0,565.9 218.5,561.6" fill="none" stroke="#000" stroke-width="1.15"/>
<path d="M116.5 548.0V571.9M115.0 548.0h3M115.0 571.9h3" stroke="#000" stroke-width="0.9" fill="none"/>
<path d="M150.5 514.6V540.9M149.0 514.6h3M149.0 540.9h3" stroke="#000" stroke-width="0.9" fill="none"/>
<path d="M185.5 498.0V505.1M184.0 498.0h3M184.0 505.1h3" stroke="#000" stroke-width="0.9" fill="none"/>
<path d="M218.5 499.7V506.9M217.0 499.7h3M217.0 506.9h3" stroke="#000" stroke-width="0.9" fill="none"/>
<path d="M116.5 551.6V570.7M115.0 551.6h3M115.0 570.7h3" stroke="#000" stroke-width="0.9" fill="none"/>
<path d="M150.5 536.1V560.0M149.0 536.1h3M149.0 560.0h3" stroke="#000" stroke-width="0.9" fill="none"/>
<path d="M185.5 496.8V503.9M184.0 496.8h3M184.0 503.9h3" stroke="#000" stroke-width="0.9" fill="none"/>
<path d="M116.5 586.2V598.1M115.0 586.2h3M115.0 598.1h3" stroke="#000" stroke-width="0.9" fill="none"/>
<path d="M150.5 591.6V605.9M149.0 591.6h3M149.0 605.9h3" stroke="#000" stroke-width="0.9" fill="none"/>
<path d="M185.5 565.9V589.8M184.0 565.9h3M184.0 589.8h3" stroke="#000" stroke-width="0.9" fill="none"/>
<path d="M218.5 562.3V576.7M217.0 562.3h3M217.0 576.7h3" stroke="#000" stroke-width="0.9" fill="none"/>
<path d="M116.5 589.1V598.6M115.0 589.1h3M115.0 598.6h3" stroke="#000" stroke-width="0.9" fill="none"/>
<path d="M150.5 576.7V586.2M149.0 576.7h3M149.0 586.2h3" stroke="#000" stroke-width="0.9" fill="none"/>
<path d="M185.5 560.0V571.9M184.0 560.0h3M184.0 571.9h3" stroke="#000" stroke-width="0.9" fill="none"/>
<path d="M218.5 554.5V568.8M217.0 554.5h3M217.0 568.8h3" stroke="#000" stroke-width="0.9" fill="none"/>
<circle cx="81.0" cy="601.7" r="3.1" fill="#000"/>
<circle cx="116.0" cy="560.0" r="3.1" fill="#000"/>
<circle cx="150.0" cy="527.8" r="3.1" fill="#000"/>
<circle cx="185.0" cy="501.5" r="3.1" fill="#000"/>
<circle cx="218.5" cy="503.3" r="3.1" fill="#000"/>
<path d="M81.0 598.4L84.3 604.3L77.7 604.3Z" fill="#fff" stroke="#000" stroke-width="1.1"/>
<path d="M116.0 557.9L119.3 563.8L112.7 563.8Z" fill="#fff" stroke="#000" stroke-width="1.1"/>
<path d="M150.0 544.7L153.3 550.7L146.7 550.7Z" fill="#fff" stroke="#000" stroke-width="1.1"/>
<path d="M185.0 497.0L188.3 503.0L181.7 503.0Z" fill="#fff" stroke="#000" stroke-width="1.1"/>
<path d="M218.5 493.5L221.8 499.4L215.2 499.4Z" fill="#fff" stroke="#000" stroke-width="1.1"/>
<path d="M81.0 598.7L84.0 601.7L81.0 604.7L78.0 601.7Z" fill="#fff" stroke="#000" stroke-width="1.1" stroke-linejoin="round"/>
<path d="M116.0 589.2L119.0 592.2L116.0 595.2L113.0 592.2Z" fill="#fff" stroke="#000" stroke-width="1.1" stroke-linejoin="round"/>
<path d="M150.0 595.7L153.0 598.7L150.0 601.7L147.0 598.7Z" fill="#fff" stroke="#000" stroke-width="1.1" stroke-linejoin="round"/>
<path d="M185.0 574.9L188.0 577.9L185.0 580.9L182.0 577.9Z" fill="#fff" stroke="#000" stroke-width="1.1" stroke-linejoin="round"/>
<path d="M218.5 566.5L221.5 569.5L218.5 572.5L215.5 569.5Z" fill="#fff" stroke="#000" stroke-width="1.1" stroke-linejoin="round"/>
<rect x="77.9" y="598.6" width="6.2" height="6.2" fill="#000"/>
<rect x="112.9" y="590.7" width="6.2" height="6.2" fill="#000"/>
<rect x="146.9" y="578.3" width="6.2" height="6.2" fill="#000"/>
<rect x="181.9" y="562.8" width="6.2" height="6.2" fill="#000"/>
<rect x="215.4" y="558.5" width="6.2" height="6.2" fill="#000"/>
<text x="54.5" y="497.2" font-size="14.4" text-anchor="start" font-weight="normal" font-style="normal" fill="#000" >Ionomycin 1μg/ml</text>
<text x="116.0" y="589.0" font-size="10.6" font-weight="bold" text-anchor="middle" style="stroke:none" transform="translate(116.0 0) scale(0.84 1) translate(-116.0 0)">&amp;#</text>
<text x="149.0" y="575.5" font-size="10.6" font-weight="bold" text-anchor="middle" style="stroke:none" transform="translate(149.0 0) scale(0.84 1) translate(-149.0 0)">&amp;#</text>
<text x="185.0" y="559.0" font-size="10.6" font-weight="bold" text-anchor="middle" style="stroke:none" transform="translate(185.0 0) scale(0.84 1) translate(-185.0 0)">&amp;#</text>
<text x="218.5" y="552.5" font-size="10.6" font-weight="bold" text-anchor="middle" style="stroke:none" transform="translate(218.5 0) scale(0.84 1) translate(-218.5 0)">&amp;#</text>
<path d="M310.3 483.4H509.5V613.8H310.3M312.3 483.4V613.8" fill="none" stroke="#333" stroke-width="1.1"/>
<path d="M309.3 591.5H312.3M509.5 591.5H512.0" stroke="#333" stroke-width="1"/>
<text x="307.8" y="596.7" font-size="14.5" text-anchor="end" font-weight="normal" font-style="normal" fill="#000" >10</text>
<path d="M309.3 570.0H312.3M509.5 570.0H512.0" stroke="#333" stroke-width="1"/>
<text x="307.8" y="575.2" font-size="14.5" text-anchor="end" font-weight="normal" font-style="normal" fill="#000" >30</text>
<path d="M309.3 548.4H312.3M509.5 548.4H512.0" stroke="#333" stroke-width="1"/>
<text x="307.8" y="553.6" font-size="14.5" text-anchor="end" font-weight="normal" font-style="normal" fill="#000" >50</text>
<path d="M309.3 526.9H312.3M509.5 526.9H512.0" stroke="#333" stroke-width="1"/>
<text x="307.8" y="532.1" font-size="14.5" text-anchor="end" font-weight="normal" font-style="normal" fill="#000" >70</text>
<path d="M309.3 505.3H312.3M509.5 505.3H512.0" stroke="#333" stroke-width="1"/>
<text x="307.8" y="510.5" font-size="14.5" text-anchor="end" font-weight="normal" font-style="normal" fill="#000" >90</text>
<path d="M310.8 602.3H312.3M509.5 602.3H511.0" stroke="#333" stroke-width="0.9"/>
<path d="M310.8 580.8H312.3M509.5 580.8H511.0" stroke="#333" stroke-width="0.9"/>
<path d="M310.8 559.2H312.3M509.5 559.2H511.0" stroke="#333" stroke-width="0.9"/>
<path d="M310.8 537.6H312.3M509.5 537.6H511.0" stroke="#333" stroke-width="0.9"/>
<path d="M310.8 516.1H312.3M509.5 516.1H511.0" stroke="#333" stroke-width="0.9"/>
<path d="M310.8 494.5H312.3M509.5 494.5H511.0" stroke="#333" stroke-width="0.9"/>
<path d="M342.2 613.8V615.5999999999999M342.2 483.4V481.9" stroke="#333" stroke-width="0.9"/>
<path d="M376.2 613.8V615.5999999999999M376.2 483.4V481.9" stroke="#333" stroke-width="0.9"/>
<path d="M411.2 613.8V615.5999999999999M411.2 483.4V481.9" stroke="#333" stroke-width="0.9"/>
<path d="M445.8 613.8V615.5999999999999M445.8 483.4V481.9" stroke="#333" stroke-width="0.9"/>
<path d="M480.5 613.8V615.5999999999999M480.5 483.4V481.9" stroke="#333" stroke-width="0.9"/>
<text x="342.2" y="628.5" font-size="13.6" text-anchor="middle" font-weight="normal" font-style="normal" fill="#000" >0</text>
<text x="376.5" y="628.5" font-size="13.6" text-anchor="middle" font-weight="normal" font-style="normal" fill="#000" >12</text>
<text x="411.0" y="628.5" font-size="13.6" text-anchor="middle" font-weight="normal" font-style="normal" fill="#000" >24</text>
<text x="445.5" y="628.5" font-size="13.6" text-anchor="middle" font-weight="normal" font-style="normal" fill="#000" >48</text>
<text x="472.9" y="628.5" font-size="13.6" text-anchor="start" font-weight="normal" font-style="normal" fill="#000" >72h</text>
<path d="M312.3 602.6H509.5" stroke="#555" stroke-width="1.1" stroke-dasharray="2 0.8"/>
<text transform="translate(287.10,0) rotate(-90)" x="-598.89" y="0" font-size="14.3" textLength="101.79" lengthAdjust="spacingAndGlyphs">specific killing %</text>
<polyline points="342.2,603.3 376.2,572.0 411.2,559.5 445.8,528.8 480.5,530.5" fill="none" stroke="#000" stroke-width="1.15"/>
<polyline points="342.2,603.3 376.2,567.0 411.2,552.0 445.8,533.8 480.5,521.2" fill="none" stroke="#000" stroke-width="1.15"/>
<polyline points="342.2,603.3 376.2,571.0 411.2,556.2 445.8,542.0 480.5,528.8" fill="none" stroke="#000" stroke-width="1.15"/>
<polyline points="342.2,603.3 376.2,573.8 411.2,559.5 445.8,543.8 480.5,551.2" fill="none" stroke="#000" stroke-width="1.15"/>
<path d="M376.5 563.0V581.0M375.0 563.0h3M375.0 581.0h3" stroke="#000" stroke-width="0.9" fill="none"/>
<path d="M411.5 547.5V571.5M410.0 547.5h3M410.0 571.5h3" stroke="#000" stroke-width="0.9" fill="none"/>
<path d="M445.5 508.8V548.8M444.0 508.8h3M444.0 548.8h3" stroke="#000" stroke-width="0.9" fill="none"/>
<path d="M480.5 521.5V539.5M479.0 521.5h3M479.0 539.5h3" stroke="#000" stroke-width="0.9" fill="none"/>
<path d="M376.5 559.0V575.0M375.0 559.0h3M375.0 575.0h3" stroke="#000" stroke-width="0.9" fill="none"/>
<path d="M411.5 540.0V564.0M410.0 540.0h3M410.0 564.0h3" stroke="#000" stroke-width="0.9" fill="none"/>
<path d="M445.5 520.8V546.8M444.0 520.8h3M444.0 546.8h3" stroke="#000" stroke-width="0.9" fill="none"/>
<path d="M480.5 512.2V530.2M479.0 512.2h3M479.0 530.2h3" stroke="#000" stroke-width="0.9" fill="none"/>
<path d="M376.5 563.0V579.0M375.0 563.0h3M375.0 579.0h3" stroke="#000" stroke-width="0.9" fill="none"/>
<path d="M411.5 546.2V566.2M410.0 546.2h3M410.0 566.2h3" stroke="#000" stroke-width="0.9" fill="none"/>
<path d="M445.5 530.0V554.0M444.0 530.0h3M444.0 554.0h3" stroke="#000" stroke-width="0.9" fill="none"/>
<path d="M480.5 519.8V537.8M479.0 519.8h3M479.0 537.8h3" stroke="#000" stroke-width="0.9" fill="none"/>
<path d="M376.5 563.8V583.8M375.0 563.8h3M375.0 583.8h3" stroke="#000" stroke-width="0.9" fill="none"/>
<path d="M411.5 549.5V569.5M410.0 549.5h3M410.0 569.5h3" stroke="#000" stroke-width="0.9" fill="none"/>
<path d="M445.5 531.8V555.8M444.0 531.8h3M444.0 555.8h3" stroke="#000" stroke-width="0.9" fill="none"/>
<path d="M480.5 532.2V570.2M479.0 532.2h3M479.0 570.2h3" stroke="#000" stroke-width="0.9" fill="none"/>
<circle cx="342.2" cy="603.3" r="3.1" fill="#000"/>
<circle cx="376.2" cy="572.0" r="3.1" fill="#000"/>
<circle cx="411.2" cy="559.5" r="3.1" fill="#000"/>
<circle cx="445.8" cy="528.8" r="3.1" fill="#000"/>
<circle cx="480.5" cy="530.5" r="3.1" fill="#000"/>
<path d="M342.2 600.0L345.5 605.9L338.9 605.9Z" fill="#fff" stroke="#000" stroke-width="1.1"/>
<path d="M376.2 563.7L379.6 569.6L372.9 569.6Z" fill="#fff" stroke="#000" stroke-width="1.1"/>
<path d="M411.2 548.7L414.6 554.6L407.9 554.6Z" fill="#fff" stroke="#000" stroke-width="1.1"/>
<path d="M445.8 530.5L449.1 536.4L442.4 536.4Z" fill="#fff" stroke="#000" stroke-width="1.1"/>
<path d="M480.5 518.0L483.8 523.9L477.2 523.9Z" fill="#fff" stroke="#000" stroke-width="1.1"/>
<path d="M342.2 600.3L345.2 603.3L342.2 606.3L339.2 603.3Z" fill="#fff" stroke="#000" stroke-width="1.1" stroke-linejoin="round"/>
<path d="M376.2 568.0L379.2 571.0L376.2 574.0L373.2 571.0Z" fill="#fff" stroke="#000" stroke-width="1.1" stroke-linejoin="round"/>
<path d="M411.2 553.2L414.2 556.2L411.2 559.2L408.2 556.2Z" fill="#fff" stroke="#000" stroke-width="1.1" stroke-linejoin="round"/>
<path d="M445.8 539.0L448.8 542.0L445.8 545.0L442.8 542.0Z" fill="#fff" stroke="#000" stroke-width="1.1" stroke-linejoin="round"/>
<path d="M480.5 525.8L483.5 528.8L480.5 531.8L477.5 528.8Z" fill="#fff" stroke="#000" stroke-width="1.1" stroke-linejoin="round"/>
<rect x="339.1" y="600.2" width="6.2" height="6.2" fill="#000"/>
<rect x="373.1" y="570.6" width="6.2" height="6.2" fill="#000"/>
<rect x="408.1" y="556.4" width="6.2" height="6.2" fill="#000"/>
<rect x="442.6" y="540.6" width="6.2" height="6.2" fill="#000"/>
<rect x="477.4" y="548.1" width="6.2" height="6.2" fill="#000"/>
<text x="319.0" y="501.5" font-size="14.4" text-anchor="start" font-weight="normal" font-style="normal" fill="#000" >FasL 10 ng/ml</text>
<path d="M47.2 636.8H248.6V766.4H47.2M49.2 636.8V766.4" fill="none" stroke="#333" stroke-width="1.1"/>
<path d="M46.2 744.5H49.2M248.6 744.5H251.1" stroke="#333" stroke-width="1"/>
<text x="44.7" y="754.2" font-size="14.5" text-anchor="end" font-weight="normal" font-style="normal" fill="#000" >10</text>
<path d="M46.2 723.0H49.2M248.6 723.0H251.1" stroke="#333" stroke-width="1"/>
<text x="44.7" y="732.8" font-size="14.5" text-anchor="end" font-weight="normal" font-style="normal" fill="#000" >30</text>
<path d="M46.2 701.5H49.2M248.6 701.5H251.1" stroke="#333" stroke-width="1"/>
<text x="44.7" y="711.2" font-size="14.5" text-anchor="end" font-weight="normal" font-style="normal" fill="#000" >50</text>
<path d="M46.2 680.0H49.2M248.6 680.0H251.1" stroke="#333" stroke-width="1"/>
<text x="44.7" y="689.8" font-size="14.5" text-anchor="end" font-weight="normal" font-style="normal" fill="#000" >70</text>
<path d="M46.2 658.5H49.2M248.6 658.5H251.1" stroke="#333" stroke-width="1"/>
<text x="44.7" y="668.2" font-size="14.5" text-anchor="end" font-weight="normal" font-style="normal" fill="#000" >90</text>
<path d="M47.7 755.3H49.2M248.6 755.3H250.1" stroke="#333" stroke-width="0.9"/>
<path d="M47.7 733.8H49.2M248.6 733.8H250.1" stroke="#333" stroke-width="0.9"/>
<path d="M47.7 712.3H49.2M248.6 712.3H250.1" stroke="#333" stroke-width="0.9"/>
<path d="M47.7 690.8H49.2M248.6 690.8H250.1" stroke="#333" stroke-width="0.9"/>
<path d="M47.7 669.3H49.2M248.6 669.3H250.1" stroke="#333" stroke-width="0.9"/>
<path d="M47.7 647.8H49.2M248.6 647.8H250.1" stroke="#333" stroke-width="0.9"/>
<path d="M83.8 766.4V768.1999999999999M83.8 636.8V635.3" stroke="#333" stroke-width="0.9"/>
<path d="M127.2 766.4V768.1999999999999M127.2 636.8V635.3" stroke="#333" stroke-width="0.9"/>
<path d="M170.0 766.4V768.1999999999999M170.0 636.8V635.3" stroke="#333" stroke-width="0.9"/>
<path d="M213.5 766.4V768.1999999999999M213.5 636.8V635.3" stroke="#333" stroke-width="0.9"/>
<text x="83.8" y="781.5" font-size="13.6" text-anchor="middle" font-weight="normal" font-style="normal" fill="#000" >0</text>
<text x="127.7" y="781.5" font-size="13.6" text-anchor="middle" font-weight="normal" font-style="normal" fill="#000" >12</text>
<text x="170.5" y="781.5" font-size="13.6" text-anchor="middle" font-weight="normal" font-style="normal" fill="#000" >24</text>
<text x="205.9" y="781.5" font-size="13.6" text-anchor="start" font-weight="normal" font-style="normal" fill="#000" >48h</text>
<path d="M49.2 756.2H248.6" stroke="#555" stroke-width="1.1" stroke-dasharray="2 0.8"/>
<text transform="translate(21.30,0) rotate(-90)" x="-756.09" y="0" font-size="14.3" textLength="103.30" lengthAdjust="spacingAndGlyphs">specific killing %</text>
<polyline points="83.8,754.6 127.2,741.6 170.0,683.2 213.5,657.0" fill="none" stroke="#000" stroke-width="1.15"/>
<polyline points="83.8,754.6 127.2,741.6 170.0,693.6 213.5,656.0" fill="none" stroke="#000" stroke-width="1.15"/>
<polyline points="83.8,754.6 127.2,741.6 170.0,703.5 213.5,655.5" fill="none" stroke="#000" stroke-width="1.15"/>
<polyline points="83.8,754.6 127.2,742.0 170.0,730.5 213.5,659.0" fill="none" stroke="#000" stroke-width="1.15"/>
<path d="M127.5 732.6V750.6M126.0 732.6h3M126.0 750.6h3" stroke="#000" stroke-width="0.9" fill="none"/>
<path d="M170.5 678.7V687.7M169.0 678.7h3M169.0 687.7h3" stroke="#000" stroke-width="0.9" fill="none"/>
<path d="M213.5 654.0V660.0M212.0 654.0h3M212.0 660.0h3" stroke="#000" stroke-width="0.9" fill="none"/>
<path d="M127.5 732.6V750.6M126.0 732.6h3M126.0 750.6h3" stroke="#000" stroke-width="0.9" fill="none"/>
<path d="M170.5 687.6V699.6M169.0 687.6h3M169.0 699.6h3" stroke="#000" stroke-width="0.9" fill="none"/>
<path d="M213.5 653.0V659.0M212.0 653.0h3M212.0 659.0h3" stroke="#000" stroke-width="0.9" fill="none"/>
<path d="M127.5 732.6V750.6M126.0 732.6h3M126.0 750.6h3" stroke="#000" stroke-width="0.9" fill="none"/>
<path d="M170.5 688.5V718.5M169.0 688.5h3M169.0 718.5h3" stroke="#000" stroke-width="0.9" fill="none"/>
<path d="M213.5 652.5V658.5M212.0 652.5h3M212.0 658.5h3" stroke="#000" stroke-width="0.9" fill="none"/>
<path d="M127.5 733.0V751.0M126.0 733.0h3M126.0 751.0h3" stroke="#000" stroke-width="0.9" fill="none"/>
<path d="M170.5 728.5V732.5M169.0 728.5h3M169.0 732.5h3" stroke="#000" stroke-width="0.9" fill="none"/>
<path d="M213.5 656.0V662.0M212.0 656.0h3M212.0 662.0h3" stroke="#000" stroke-width="0.9" fill="none"/>
<circle cx="83.8" cy="754.6" r="3.1" fill="#000"/>
<circle cx="127.2" cy="741.6" r="3.1" fill="#000"/>
<circle cx="170.0" cy="683.2" r="3.1" fill="#000"/>
<circle cx="213.5" cy="657.0" r="3.1" fill="#000"/>
<path d="M83.8 751.3L87.1 757.2L80.5 757.2Z" fill="#fff" stroke="#000" stroke-width="1.1"/>
<path d="M127.2 738.3L130.5 744.2L123.9 744.2Z" fill="#fff" stroke="#000" stroke-width="1.1"/>
<path d="M170.0 690.3L173.3 696.2L166.7 696.2Z" fill="#fff" stroke="#000" stroke-width="1.1"/>
<path d="M213.5 652.7L216.8 658.6L210.2 658.6Z" fill="#fff" stroke="#000" stroke-width="1.1"/>
<path d="M83.8 751.6L86.8 754.6L83.8 757.6L80.8 754.6Z" fill="#fff" stroke="#000" stroke-width="1.1" stroke-linejoin="round"/>
<path d="M127.2 738.6L130.2 741.6L127.2 744.6L124.2 741.6Z" fill="#fff" stroke="#000" stroke-width="1.1" stroke-linejoin="round"/>
<path d="M170.0 700.5L173.0 703.5L170.0 706.5L167.0 703.5Z" fill="#fff" stroke="#000" stroke-width="1.1" stroke-linejoin="round"/>
<path d="M213.5 652.5L216.5 655.5L213.5 658.5L210.5 655.5Z" fill="#fff" stroke="#000" stroke-width="1.1" stroke-linejoin="round"/>
<rect x="80.7" y="751.5" width="6.2" height="6.2" fill="#000"/>
<rect x="124.1" y="738.9" width="6.2" height="6.2" fill="#000"/>
<rect x="166.9" y="727.4" width="6.2" height="6.2" fill="#000"/>
<rect x="210.4" y="655.9" width="6.2" height="6.2" fill="#000"/>
<text x="54.7" y="651.8" font-size="14.4" text-anchor="start" font-weight="normal" font-style="normal" fill="#000" >Tunicamycin 1μg/ml</text>
<text x="170.5" y="750.0" font-size="10.6" font-weight="bold" text-anchor="middle" style="stroke:none" transform="translate(170.5 0) scale(0.84 1) translate(-170.5 0)">#§</text>
<path d="M306.5 636.8H509.5V766.2H306.5M308.5 636.8V766.2" fill="none" stroke="#333" stroke-width="1.1"/>
<path d="M305.5 744.6H308.5M509.5 744.6H512.0" stroke="#333" stroke-width="1"/>
<text x="304.0" y="754.3" font-size="14.5" text-anchor="end" font-weight="normal" font-style="normal" fill="#000" >10</text>
<path d="M305.5 723.1H308.5M509.5 723.1H512.0" stroke="#333" stroke-width="1"/>
<text x="304.0" y="732.8" font-size="14.5" text-anchor="end" font-weight="normal" font-style="normal" fill="#000" >30</text>
<path d="M305.5 701.6H308.5M509.5 701.6H512.0" stroke="#333" stroke-width="1"/>
<text x="304.0" y="711.3" font-size="14.5" text-anchor="end" font-weight="normal" font-style="normal" fill="#000" >50</text>
<path d="M305.5 680.1H308.5M509.5 680.1H512.0" stroke="#333" stroke-width="1"/>
<text x="304.0" y="689.8" font-size="14.5" text-anchor="end" font-weight="normal" font-style="normal" fill="#000" >70</text>
<path d="M305.5 658.6H308.5M509.5 658.6H512.0" stroke="#333" stroke-width="1"/>
<text x="304.0" y="668.3" font-size="14.5" text-anchor="end" font-weight="normal" font-style="normal" fill="#000" >90</text>
<path d="M307.0 755.4H308.5M509.5 755.4H511.0" stroke="#333" stroke-width="0.9"/>
<path d="M307.0 733.9H308.5M509.5 733.9H511.0" stroke="#333" stroke-width="0.9"/>
<path d="M307.0 712.4H308.5M509.5 712.4H511.0" stroke="#333" stroke-width="0.9"/>
<path d="M307.0 690.8H308.5M509.5 690.8H511.0" stroke="#333" stroke-width="0.9"/>
<path d="M307.0 669.3H308.5M509.5 669.3H511.0" stroke="#333" stroke-width="0.9"/>
<path d="M307.0 647.8H308.5M509.5 647.8H511.0" stroke="#333" stroke-width="0.9"/>
<path d="M343.2 766.2V768.0M343.2 636.8V635.3" stroke="#333" stroke-width="0.9"/>
<path d="M386.6 766.2V768.0M386.6 636.8V635.3" stroke="#333" stroke-width="0.9"/>
<path d="M429.6 766.2V768.0M429.6 636.8V635.3" stroke="#333" stroke-width="0.9"/>
<path d="M473.2 766.2V768.0M473.2 636.8V635.3" stroke="#333" stroke-width="0.9"/>
<text x="342.7" y="782.3" font-size="13.6" text-anchor="middle" font-weight="normal" font-style="normal" fill="#000" >0</text>
<text x="386.6" y="782.3" font-size="13.6" text-anchor="middle" font-weight="normal" font-style="normal" fill="#000" >12</text>
<text x="429.6" y="782.3" font-size="13.6" text-anchor="middle" font-weight="normal" font-style="normal" fill="#000" >24</text>
<text x="465.6" y="782.3" font-size="13.6" text-anchor="start" font-weight="normal" font-style="normal" fill="#000" >48h</text>
<path d="M308.5 756.2H509.5" stroke="#555" stroke-width="1.1" stroke-dasharray="2 0.8"/>
<text transform="translate(282.60,0) rotate(-90)" x="-756.11" y="0" font-size="14.3" textLength="107.03" lengthAdjust="spacingAndGlyphs">specific killing %</text>
<polyline points="343.2,755.7 386.6,671.2 429.6,656.2 473.2,653.0" fill="none" stroke="#000" stroke-width="1.15"/>
<polyline points="343.2,755.7 386.6,690.8 429.6,652.7 473.2,649.7" fill="none" stroke="#000" stroke-width="1.15"/>
<polyline points="343.2,755.7 386.6,708.8 429.6,680.4 473.2,655.0" fill="none" stroke="#000" stroke-width="1.15"/>
<polyline points="343.2,755.7 386.6,705.1 429.6,680.4 473.2,655.5" fill="none" stroke="#000" stroke-width="1.15"/>
<path d="M386.5 663.2V679.2M385.0 663.2h3M385.0 679.2h3" stroke="#000" stroke-width="0.9" fill="none"/>
<path d="M429.5 653.2V659.2M428.0 653.2h3M428.0 659.2h3" stroke="#000" stroke-width="0.9" fill="none"/>
<path d="M473.5 650.0V656.0M472.0 650.0h3M472.0 656.0h3" stroke="#000" stroke-width="0.9" fill="none"/>
<path d="M386.5 680.8V700.8M385.0 680.8h3M385.0 700.8h3" stroke="#000" stroke-width="0.9" fill="none"/>
<path d="M429.5 649.7V655.7M428.0 649.7h3M428.0 655.7h3" stroke="#000" stroke-width="0.9" fill="none"/>
<path d="M473.5 647.7V651.7M472.0 647.7h3M472.0 651.7h3" stroke="#000" stroke-width="0.9" fill="none"/>
<path d="M386.5 699.8V717.8M385.0 699.8h3M385.0 717.8h3" stroke="#000" stroke-width="0.9" fill="none"/>
<path d="M429.5 672.4V688.4M428.0 672.4h3M428.0 688.4h3" stroke="#000" stroke-width="0.9" fill="none"/>
<path d="M473.5 651.0V659.0M472.0 651.0h3M472.0 659.0h3" stroke="#000" stroke-width="0.9" fill="none"/>
<path d="M386.5 697.1V713.1M385.0 697.1h3M385.0 713.1h3" stroke="#000" stroke-width="0.9" fill="none"/>
<path d="M429.5 672.4V688.4M428.0 672.4h3M428.0 688.4h3" stroke="#000" stroke-width="0.9" fill="none"/>
<path d="M473.5 651.5V659.5M472.0 651.5h3M472.0 659.5h3" stroke="#000" stroke-width="0.9" fill="none"/>
<circle cx="343.2" cy="755.7" r="3.1" fill="#000"/>
<circle cx="386.6" cy="671.2" r="3.1" fill="#000"/>
<circle cx="429.6" cy="656.2" r="3.1" fill="#000"/>
<circle cx="473.2" cy="653.0" r="3.1" fill="#000"/>
<path d="M343.2 752.4L346.5 758.3L339.9 758.3Z" fill="#fff" stroke="#000" stroke-width="1.1"/>
<path d="M386.6 687.5L389.9 693.4L383.3 693.4Z" fill="#fff" stroke="#000" stroke-width="1.1"/>
<path d="M429.6 649.4L432.9 655.3L426.3 655.3Z" fill="#fff" stroke="#000" stroke-width="1.1"/>
<path d="M473.2 646.4L476.5 652.3L469.9 652.3Z" fill="#fff" stroke="#000" stroke-width="1.1"/>
<path d="M343.2 752.7L346.2 755.7L343.2 758.7L340.2 755.7Z" fill="#fff" stroke="#000" stroke-width="1.1" stroke-linejoin="round"/>
<path d="M386.6 705.8L389.6 708.8L386.6 711.8L383.6 708.8Z" fill="#fff" stroke="#000" stroke-width="1.1" stroke-linejoin="round"/>
<path d="M429.6 677.4L432.6 680.4L429.6 683.4L426.6 680.4Z" fill="#fff" stroke="#000" stroke-width="1.1" stroke-linejoin="round"/>
<path d="M473.2 652.0L476.2 655.0L473.2 658.0L470.2 655.0Z" fill="#fff" stroke="#000" stroke-width="1.1" stroke-linejoin="round"/>
<rect x="340.1" y="752.6" width="6.2" height="6.2" fill="#000"/>
<rect x="383.5" y="702.0" width="6.2" height="6.2" fill="#000"/>
<rect x="426.5" y="677.3" width="6.2" height="6.2" fill="#000"/>
<rect x="470.1" y="652.4" width="6.2" height="6.2" fill="#000"/>
<text x="311.8" y="650.4" font-size="14.4" text-anchor="start" font-weight="normal" font-style="normal" fill="#000" >Staurosporine 500 nM</text>
<path d="M44.4 791.2H245.4V920.8H44.4M46.4 791.2V920.8" fill="none" stroke="#333" stroke-width="1.1"/>
<path d="M43.4 899.8H46.4M245.4 899.8H247.9" stroke="#333" stroke-width="1"/>
<text x="41.9" y="909.3" font-size="14.5" text-anchor="end" font-weight="normal" font-style="normal" fill="#000" >10</text>
<path d="M43.4 878.0H46.4M245.4 878.0H247.9" stroke="#333" stroke-width="1"/>
<text x="41.9" y="887.5" font-size="14.5" text-anchor="end" font-weight="normal" font-style="normal" fill="#000" >30</text>
<path d="M43.4 856.2H46.4M245.4 856.2H247.9" stroke="#333" stroke-width="1"/>
<text x="41.9" y="865.8" font-size="14.5" text-anchor="end" font-weight="normal" font-style="normal" fill="#000" >50</text>
<path d="M43.4 834.5H46.4M245.4 834.5H247.9" stroke="#333" stroke-width="1"/>
<text x="41.9" y="844.0" font-size="14.5" text-anchor="end" font-weight="normal" font-style="normal" fill="#000" >70</text>
<path d="M43.4 812.7H46.4M245.4 812.7H247.9" stroke="#333" stroke-width="1"/>
<text x="41.9" y="822.2" font-size="14.5" text-anchor="end" font-weight="normal" font-style="normal" fill="#000" >90</text>
<path d="M44.9 910.7H46.4M245.4 910.7H246.9" stroke="#333" stroke-width="0.9"/>
<path d="M44.9 888.9H46.4M245.4 888.9H246.9" stroke="#333" stroke-width="0.9"/>
<path d="M44.9 867.1H46.4M245.4 867.1H246.9" stroke="#333" stroke-width="0.9"/>
<path d="M44.9 845.4H46.4M245.4 845.4H246.9" stroke="#333" stroke-width="0.9"/>
<path d="M44.9 823.6H46.4M245.4 823.6H246.9" stroke="#333" stroke-width="0.9"/>
<path d="M44.9 801.8H46.4M245.4 801.8H246.9" stroke="#333" stroke-width="0.9"/>
<path d="M81.2 920.8V922.5999999999999M81.2 791.2V789.7" stroke="#333" stroke-width="0.9"/>
<path d="M125.0 920.8V922.5999999999999M125.0 791.2V789.7" stroke="#333" stroke-width="0.9"/>
<path d="M167.5 920.8V922.5999999999999M167.5 791.2V789.7" stroke="#333" stroke-width="0.9"/>
<path d="M212.0 920.8V922.5999999999999M212.0 791.2V789.7" stroke="#333" stroke-width="0.9"/>
<text x="81.2" y="935.3" font-size="13.6" text-anchor="middle" font-weight="normal" font-style="normal" fill="#000" >0</text>
<text x="125.0" y="935.3" font-size="13.6" text-anchor="middle" font-weight="normal" font-style="normal" fill="#000" >12</text>
<text x="168.0" y="935.3" font-size="13.6" text-anchor="middle" font-weight="normal" font-style="normal" fill="#000" >24</text>
<text x="204.4" y="935.3" font-size="13.6" text-anchor="start" font-weight="normal" font-style="normal" fill="#000" >48h</text>
<path d="M46.4 910.6H245.4" stroke="#555" stroke-width="1.1" stroke-dasharray="2 0.8"/>
<text transform="translate(21.00,0) rotate(-90)" x="-905.20" y="0" font-size="14.3" textLength="104.81" lengthAdjust="spacingAndGlyphs">specific killing %</text>
<polyline points="81.2,911.0 125.0,849.5 167.5,813.2 212.0,813.0" fill="none" stroke="#000" stroke-width="1.15"/>
<polyline points="81.2,911.0 125.0,862.0 167.5,823.0 212.0,815.5" fill="none" stroke="#000" stroke-width="1.15"/>
<polyline points="81.2,911.0 125.0,854.2 167.5,838.8 212.0,825.5" fill="none" stroke="#000" stroke-width="1.15"/>
<polyline points="81.2,911.0 125.0,867.0 167.5,843.2 212.0,830.5" fill="none" stroke="#000" stroke-width="1.15"/>
<path d="M125.5 833.5V865.5M124.0 833.5h3M124.0 865.5h3" stroke="#000" stroke-width="0.9" fill="none"/>
<path d="M212.5 810.0V816.0M211.0 810.0h3M211.0 816.0h3" stroke="#000" stroke-width="0.9" fill="none"/>
<path d="M125.5 852.0V872.0M124.0 852.0h3M124.0 872.0h3" stroke="#000" stroke-width="0.9" fill="none"/>
<path d="M167.5 820.0V826.0M166.0 820.0h3M166.0 826.0h3" stroke="#000" stroke-width="0.9" fill="none"/>
<path d="M212.5 812.5V818.5M211.0 812.5h3M211.0 818.5h3" stroke="#000" stroke-width="0.9" fill="none"/>
<path d="M125.5 846.2V862.2M124.0 846.2h3M124.0 862.2h3" stroke="#000" stroke-width="0.9" fill="none"/>
<path d="M167.5 833.8V843.8M166.0 833.8h3M166.0 843.8h3" stroke="#000" stroke-width="0.9" fill="none"/>
<path d="M212.5 822.5V828.5M211.0 822.5h3M211.0 828.5h3" stroke="#000" stroke-width="0.9" fill="none"/>
<path d="M125.5 857.0V877.0M124.0 857.0h3M124.0 877.0h3" stroke="#000" stroke-width="0.9" fill="none"/>
<path d="M167.5 834.2V852.2M166.0 834.2h3M166.0 852.2h3" stroke="#000" stroke-width="0.9" fill="none"/>
<path d="M212.5 827.5V833.5M211.0 827.5h3M211.0 833.5h3" stroke="#000" stroke-width="0.9" fill="none"/>
<circle cx="81.2" cy="911.0" r="3.1" fill="#000"/>
<circle cx="125.0" cy="849.5" r="3.1" fill="#000"/>
<circle cx="167.5" cy="813.2" r="3.1" fill="#000"/>
<circle cx="212.0" cy="813.0" r="3.1" fill="#000"/>
<path d="M81.2 907.7L84.5 913.6L77.9 913.6Z" fill="#fff" stroke="#000" stroke-width="1.1"/>
<path d="M125.0 858.7L128.3 864.6L121.7 864.6Z" fill="#fff" stroke="#000" stroke-width="1.1"/>
<path d="M167.5 819.7L170.8 825.6L164.2 825.6Z" fill="#fff" stroke="#000" stroke-width="1.1"/>
<path d="M212.0 812.2L215.3 818.1L208.7 818.1Z" fill="#fff" stroke="#000" stroke-width="1.1"/>
<path d="M81.2 908.0L84.2 911.0L81.2 914.0L78.2 911.0Z" fill="#fff" stroke="#000" stroke-width="1.1" stroke-linejoin="round"/>
<path d="M125.0 851.2L128.0 854.2L125.0 857.2L122.0 854.2Z" fill="#fff" stroke="#000" stroke-width="1.1" stroke-linejoin="round"/>
<path d="M167.5 835.8L170.5 838.8L167.5 841.8L164.5 838.8Z" fill="#fff" stroke="#000" stroke-width="1.1" stroke-linejoin="round"/>
<path d="M212.0 822.5L215.0 825.5L212.0 828.5L209.0 825.5Z" fill="#fff" stroke="#000" stroke-width="1.1" stroke-linejoin="round"/>
<rect x="78.1" y="907.9" width="6.2" height="6.2" fill="#000"/>
<rect x="121.9" y="863.9" width="6.2" height="6.2" fill="#000"/>
<rect x="164.4" y="840.1" width="6.2" height="6.2" fill="#000"/>
<rect x="208.9" y="827.4" width="6.2" height="6.2" fill="#000"/>
<text x="50.6" y="806.2" font-size="14.4" text-anchor="start" font-weight="normal" font-style="normal" fill="#000" >VP16 1 μg/ml</text>
<path d="M307.5 789.6H508.7V919.7H307.5M309.5 789.6V919.7" fill="none" stroke="#333" stroke-width="1.1"/>
<path d="M306.5 897.8H309.5M508.7 897.8H511.2" stroke="#333" stroke-width="1"/>
<text x="305.0" y="903.0" font-size="14.5" text-anchor="end" font-weight="normal" font-style="normal" fill="#000" >10</text>
<path d="M306.5 876.2H309.5M508.7 876.2H511.2" stroke="#333" stroke-width="1"/>
<text x="305.0" y="881.4" font-size="14.5" text-anchor="end" font-weight="normal" font-style="normal" fill="#000" >30</text>
<path d="M306.5 854.6H309.5M508.7 854.6H511.2" stroke="#333" stroke-width="1"/>
<text x="305.0" y="859.8" font-size="14.5" text-anchor="end" font-weight="normal" font-style="normal" fill="#000" >50</text>
<path d="M306.5 833.0H309.5M508.7 833.0H511.2" stroke="#333" stroke-width="1"/>
<text x="305.0" y="838.2" font-size="14.5" text-anchor="end" font-weight="normal" font-style="normal" fill="#000" >70</text>
<path d="M306.5 811.4H309.5M508.7 811.4H511.2" stroke="#333" stroke-width="1"/>
<text x="305.0" y="816.6" font-size="14.5" text-anchor="end" font-weight="normal" font-style="normal" fill="#000" >90</text>
<path d="M308.0 908.6H309.5M508.7 908.6H510.2" stroke="#333" stroke-width="0.9"/>
<path d="M308.0 887.0H309.5M508.7 887.0H510.2" stroke="#333" stroke-width="0.9"/>
<path d="M308.0 865.4H309.5M508.7 865.4H510.2" stroke="#333" stroke-width="0.9"/>
<path d="M308.0 843.8H309.5M508.7 843.8H510.2" stroke="#333" stroke-width="0.9"/>
<path d="M308.0 822.2H309.5M508.7 822.2H510.2" stroke="#333" stroke-width="0.9"/>
<path d="M308.0 800.6H309.5M508.7 800.6H510.2" stroke="#333" stroke-width="0.9"/>
<path d="M344.0 919.7V921.5M344.0 789.6V788.1" stroke="#333" stroke-width="0.9"/>
<path d="M388.0 919.7V921.5M388.0 789.6V788.1" stroke="#333" stroke-width="0.9"/>
<path d="M430.8 919.7V921.5M430.8 789.6V788.1" stroke="#333" stroke-width="0.9"/>
<path d="M474.2 919.7V921.5M474.2 789.6V788.1" stroke="#333" stroke-width="0.9"/>
<text x="344.0" y="935.3" font-size="13.6" text-anchor="middle" font-weight="normal" font-style="normal" fill="#000" >0</text>
<text x="388.5" y="935.3" font-size="13.6" text-anchor="middle" font-weight="normal" font-style="normal" fill="#000" >12</text>
<text x="431.0" y="935.3" font-size="13.6" text-anchor="middle" font-weight="normal" font-style="normal" fill="#000" >24</text>
<text x="467.4" y="935.3" font-size="13.6" text-anchor="start" font-weight="normal" font-style="normal" fill="#000" >48h</text>
<path d="M309.5 908.8H508.7" stroke="#555" stroke-width="1.1" stroke-dasharray="2 0.8"/>
<text transform="translate(282.60,0) rotate(-90)" x="-908.91" y="0" font-size="14.3" textLength="106.33" lengthAdjust="spacingAndGlyphs">specific killing %</text>
<polyline points="344.0,908.6 388.0,813.0 430.8,807.0 474.2,806.5" fill="none" stroke="#000" stroke-width="1.15"/>
<polyline points="344.0,908.6 388.0,818.8 430.8,810.5 474.2,806.0" fill="none" stroke="#000" stroke-width="1.15"/>
<polyline points="344.0,908.6 388.0,824.5 430.8,818.0 474.2,805.0" fill="none" stroke="#000" stroke-width="1.15"/>
<polyline points="344.0,908.6 388.0,826.2 430.8,820.0 474.2,809.2" fill="none" stroke="#000" stroke-width="1.15"/>
<path d="M430.5 804.0V810.0M429.0 804.0h3M429.0 810.0h3" stroke="#000" stroke-width="0.9" fill="none"/>
<path d="M474.5 804.5V808.5M473.0 804.5h3M473.0 808.5h3" stroke="#000" stroke-width="0.9" fill="none"/>
<path d="M388.5 812.8V824.8M387.0 812.8h3M387.0 824.8h3" stroke="#000" stroke-width="0.9" fill="none"/>
<path d="M430.5 807.5V813.5M429.0 807.5h3M429.0 813.5h3" stroke="#000" stroke-width="0.9" fill="none"/>
<path d="M474.5 804.0V808.0M473.0 804.0h3M473.0 808.0h3" stroke="#000" stroke-width="0.9" fill="none"/>
<path d="M388.5 818.5V830.5M387.0 818.5h3M387.0 830.5h3" stroke="#000" stroke-width="0.9" fill="none"/>
<path d="M430.5 814.0V822.0M429.0 814.0h3M429.0 822.0h3" stroke="#000" stroke-width="0.9" fill="none"/>
<path d="M474.5 803.0V807.0M473.0 803.0h3M473.0 807.0h3" stroke="#000" stroke-width="0.9" fill="none"/>
<path d="M388.5 816.2V836.2M387.0 816.2h3M387.0 836.2h3" stroke="#000" stroke-width="0.9" fill="none"/>
<path d="M430.5 814.0V826.0M429.0 814.0h3M429.0 826.0h3" stroke="#000" stroke-width="0.9" fill="none"/>
<path d="M474.5 806.2V812.2M473.0 806.2h3M473.0 812.2h3" stroke="#000" stroke-width="0.9" fill="none"/>
<circle cx="344.0" cy="908.6" r="3.1" fill="#000"/>
<circle cx="388.0" cy="813.0" r="3.1" fill="#000"/>
<circle cx="430.8" cy="807.0" r="3.1" fill="#000"/>
<circle cx="474.2" cy="806.5" r="3.1" fill="#000"/>
<path d="M344.0 905.3L347.3 911.2L340.7 911.2Z" fill="#fff" stroke="#000" stroke-width="1.1"/>
<path d="M388.0 815.5L391.3 821.4L384.7 821.4Z" fill="#fff" stroke="#000" stroke-width="1.1"/>
<path d="M430.8 807.2L434.1 813.1L427.4 813.1Z" fill="#fff" stroke="#000" stroke-width="1.1"/>
<path d="M474.2 802.7L477.6 808.6L470.9 808.6Z" fill="#fff" stroke="#000" stroke-width="1.1"/>
<path d="M344.0 905.6L347.0 908.6L344.0 911.6L341.0 908.6Z" fill="#fff" stroke="#000" stroke-width="1.1" stroke-linejoin="round"/>
<path d="M388.0 821.5L391.0 824.5L388.0 827.5L385.0 824.5Z" fill="#fff" stroke="#000" stroke-width="1.1" stroke-linejoin="round"/>
<path d="M430.8 815.0L433.8 818.0L430.8 821.0L427.8 818.0Z" fill="#fff" stroke="#000" stroke-width="1.1" stroke-linejoin="round"/>
<path d="M474.2 802.0L477.2 805.0L474.2 808.0L471.2 805.0Z" fill="#fff" stroke="#000" stroke-width="1.1" stroke-linejoin="round"/>
<rect x="340.9" y="905.5" width="6.2" height="6.2" fill="#000"/>
<rect x="384.9" y="823.1" width="6.2" height="6.2" fill="#000"/>
<rect x="427.6" y="816.9" width="6.2" height="6.2" fill="#000"/>
<rect x="471.1" y="806.1" width="6.2" height="6.2" fill="#000"/>
<text x="313.0" y="807.7" font-size="14.4" text-anchor="start" font-weight="normal" font-style="normal" fill="#000" >γIR 2.5 gy</text>
<path d="M409.5 222.5H423" stroke="#000" stroke-width="1.1"/>
<circle cx="416.0" cy="222.5" r="3.1" fill="#000"/>
<text x="430.0" y="227.3" font-size="14.4" text-anchor="start" font-weight="normal" font-style="normal" fill="#000" >wt</text>
<path d="M409.5 239.9H423" stroke="#000" stroke-width="1.1"/>
<path d="M416.0 236.6L419.3 242.5L412.7 242.5Z" fill="#fff" stroke="#000" stroke-width="1.1"/>
<text x="430.0" y="244.7" font-size="14.4" text-anchor="start" font-weight="normal" font-style="italic" fill="#000" >Bmf<tspan dy="-5" font-size="9.5">-/-</tspan></text>
<path d="M409.5 257.3H423" stroke="#000" stroke-width="1.1"/>
<path d="M416.0 254.3L419.0 257.3L416.0 260.3L413.0 257.3Z" fill="#fff" stroke="#000" stroke-width="1.1" stroke-linejoin="round"/>
<text x="430.0" y="262.1" font-size="14.4" text-anchor="start" font-weight="normal" font-style="italic" fill="#000" >Bim<tspan dy="-5" font-size="9.5">-/-</tspan></text>
<path d="M409.5 274.7H423" stroke="#000" stroke-width="1.1"/>
<text x="430.0" y="279.5" font-size="14.4" text-anchor="start" font-weight="normal" font-style="italic" fill="#000" >Bmf<tspan dy="-5" font-size="9.5">-/-</tspan><tspan dy="5">Bim</tspan><tspan dy="-5" font-size="9.5">-/-</tspan></text>
</svg></body></html>
